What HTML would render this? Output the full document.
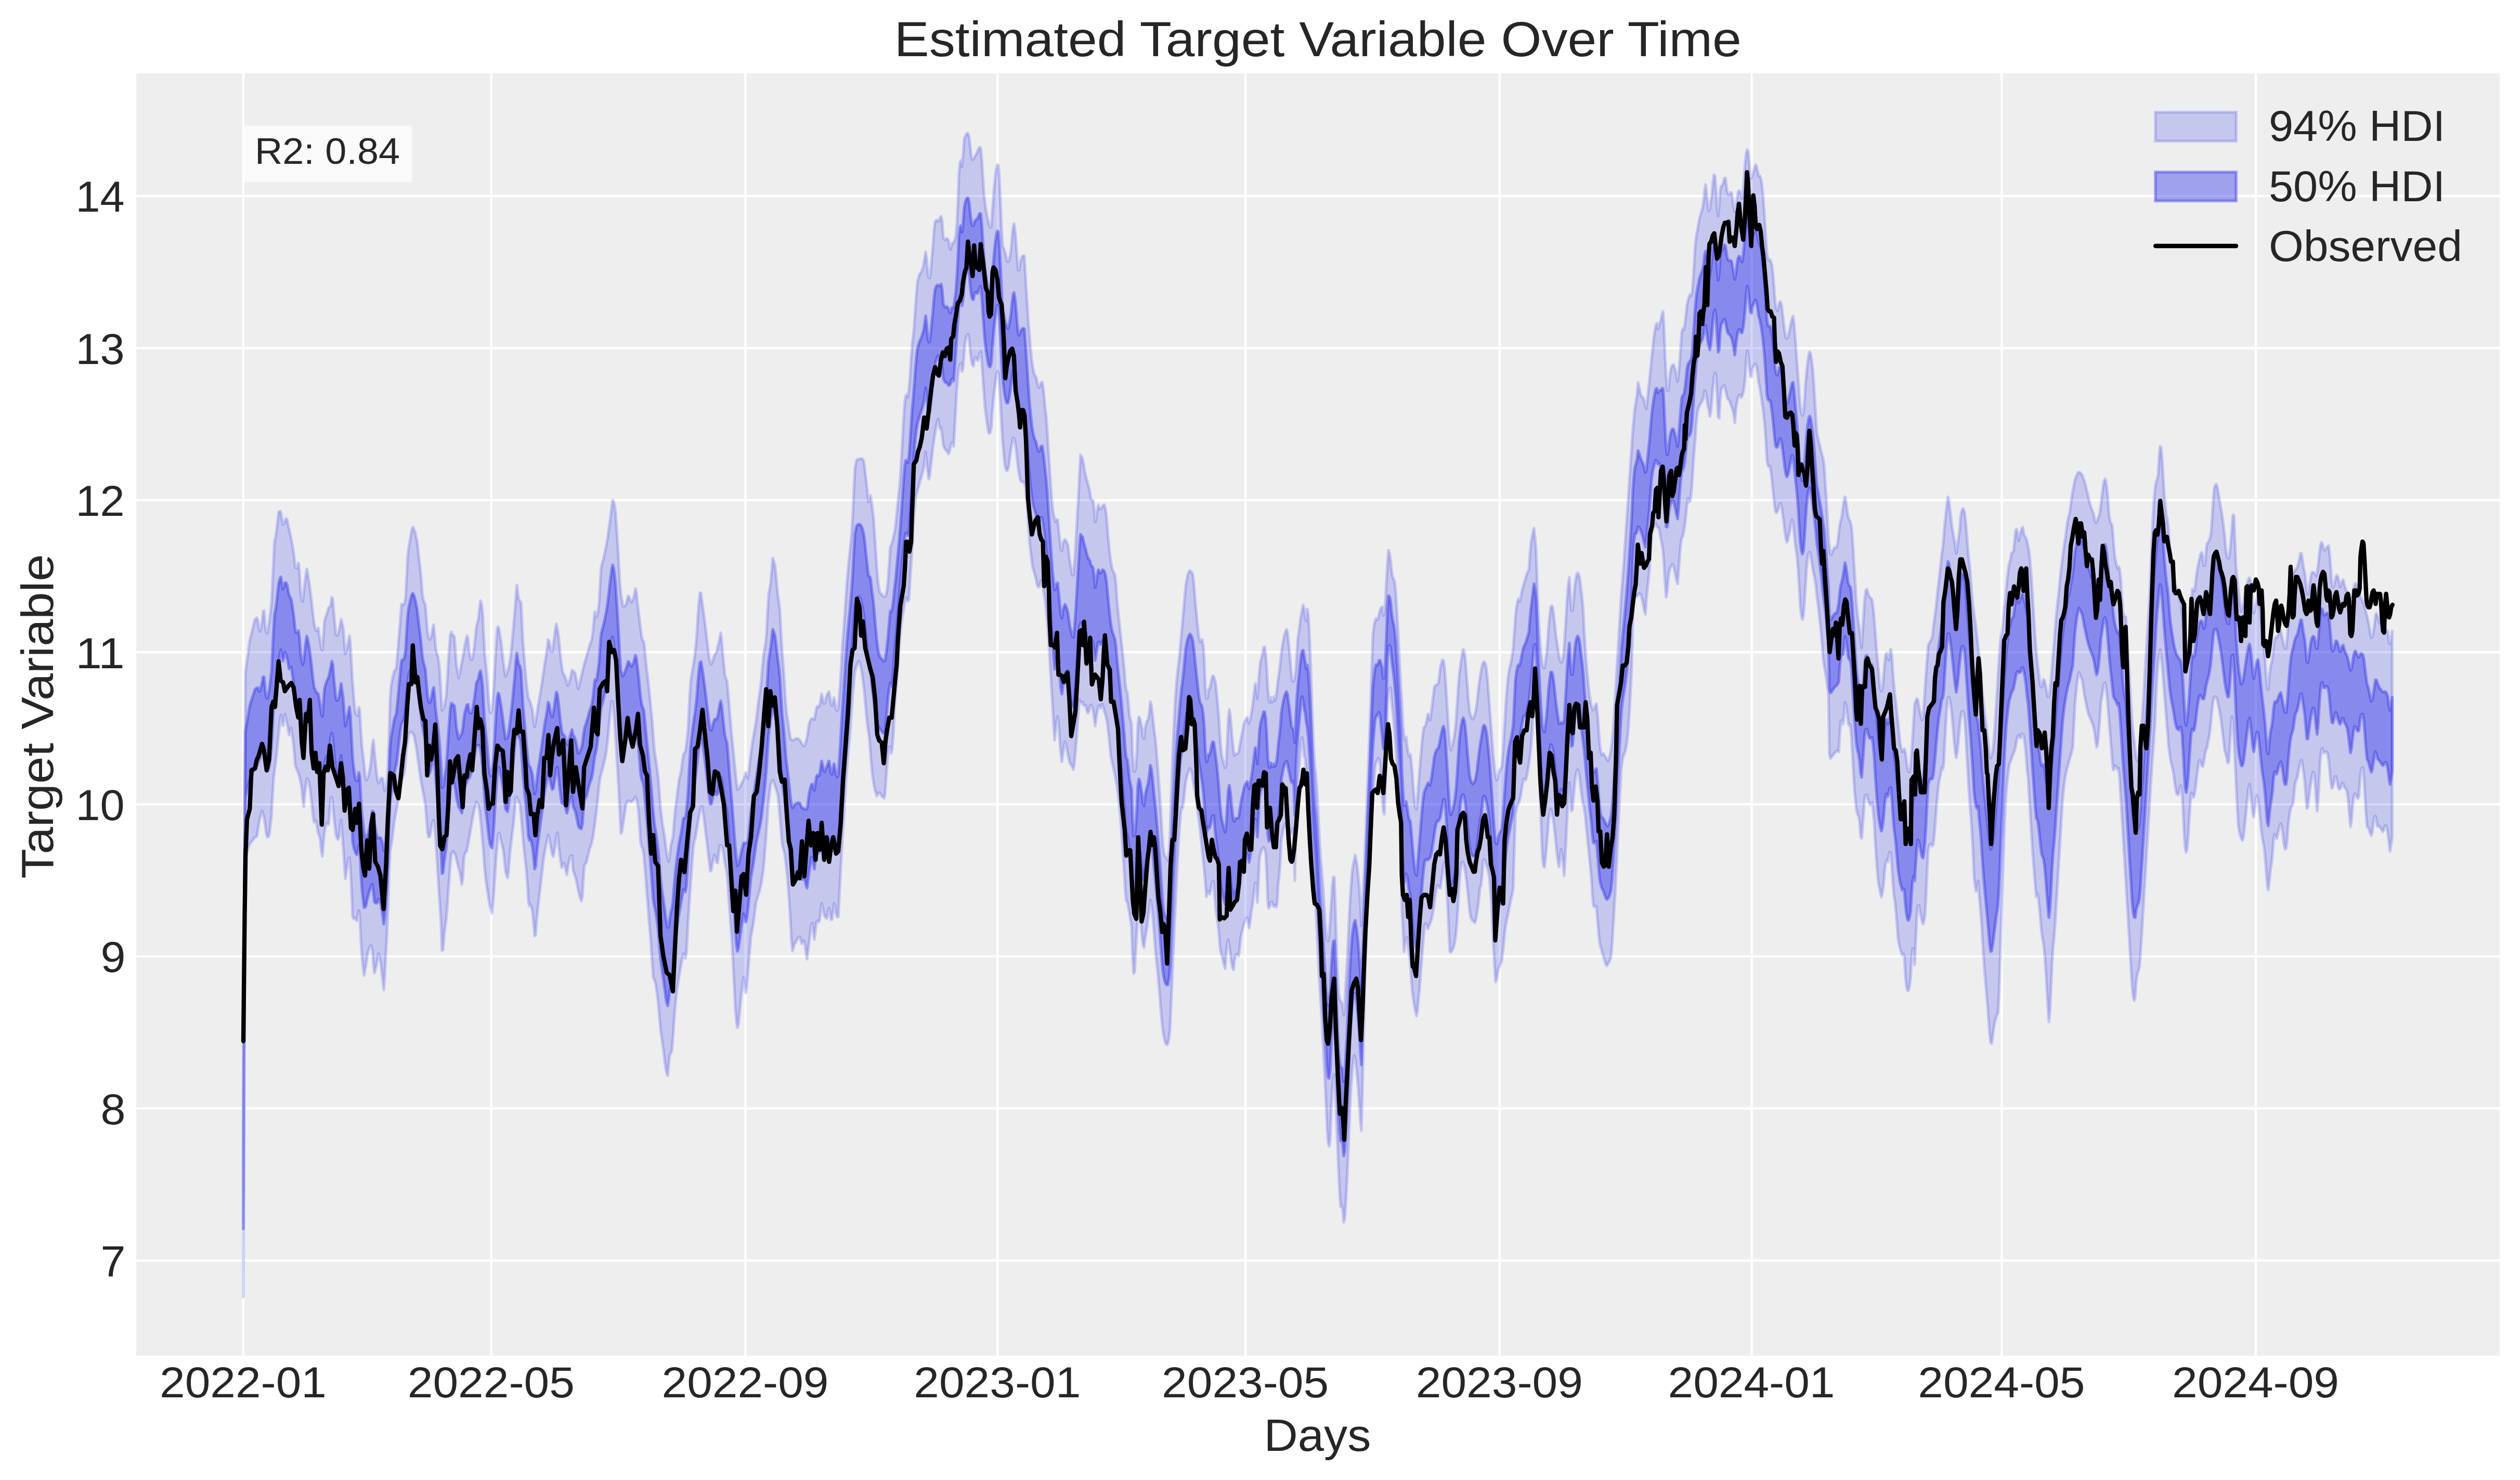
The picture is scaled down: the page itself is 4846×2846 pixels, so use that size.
<!DOCTYPE html><html><head><meta charset="utf-8"><style>html,body{margin:0;padding:0;background:#fff;overflow:hidden}svg{display:block}</style></head><body><svg width="4846" height="2846" viewBox="0 0 4846 2846"><defs><clipPath id="axclip"><rect x="262" y="141" width="4545" height="2466"/></clipPath></defs><rect x="0" y="0" width="4846" height="2846" fill="#ffffff"/><rect x="262" y="141" width="4545" height="2466" fill="#eeeeee"/><line x1="262" y1="2424.01" x2="4807" y2="2424.01" stroke="#fff" stroke-width="4.44"/><line x1="262" y1="2131.58" x2="4807" y2="2131.58" stroke="#fff" stroke-width="4.44"/><line x1="262" y1="1839.15" x2="4807" y2="1839.15" stroke="#fff" stroke-width="4.44"/><line x1="262" y1="1546.72" x2="4807" y2="1546.72" stroke="#fff" stroke-width="4.44"/><line x1="262" y1="1254.29" x2="4807" y2="1254.29" stroke="#fff" stroke-width="4.44"/><line x1="262" y1="961.86" x2="4807" y2="961.86" stroke="#fff" stroke-width="4.44"/><line x1="262" y1="669.43" x2="4807" y2="669.43" stroke="#fff" stroke-width="4.44"/><line x1="262" y1="377.00" x2="4807" y2="377.00" stroke="#fff" stroke-width="4.44"/><line x1="468.00" y1="141" x2="468.00" y2="2607" stroke="#fff" stroke-width="4.44"/><line x1="944.80" y1="141" x2="944.80" y2="2607" stroke="#fff" stroke-width="4.44"/><line x1="1433.51" y1="141" x2="1433.51" y2="2607" stroke="#fff" stroke-width="4.44"/><line x1="1918.26" y1="141" x2="1918.26" y2="2607" stroke="#fff" stroke-width="4.44"/><line x1="2395.06" y1="141" x2="2395.06" y2="2607" stroke="#fff" stroke-width="4.44"/><line x1="2883.77" y1="141" x2="2883.77" y2="2607" stroke="#fff" stroke-width="4.44"/><line x1="3368.52" y1="141" x2="3368.52" y2="2607" stroke="#fff" stroke-width="4.44"/><line x1="3849.29" y1="141" x2="3849.29" y2="2607" stroke="#fff" stroke-width="4.44"/><line x1="4338.00" y1="141" x2="4338.00" y2="2607" stroke="#fff" stroke-width="4.44"/><g clip-path="url(#axclip)"><path d="M468.0,2086.0 L470.0,1562.0 L472.0,1292.6 L474.0,1277.7 L476.0,1262.8 L478.0,1248.0 L480.0,1233.1 L482.0,1224.2 L484.0,1216.2 L486.0,1208.2 L488.0,1200.2 L490.0,1192.2 L492.0,1189.4 L494.0,1188.0 L496.0,1193.6 L498.0,1208.6 L500.0,1214.1 L502.0,1205.5 L504.0,1196.5 L506.0,1176.5 L508.0,1174.1 L510.0,1204.1 L512.0,1215.5 L514.0,1217.5 L516.0,1205.9 L518.0,1192.8 L520.0,1177.1 L522.0,1161.4 L524.0,1119.9 L526.0,1076.2 L528.0,1040.2 L530.0,1032.2 L532.0,1018.6 L534.0,1000.0 L536.0,984.3 L538.0,983.3 L540.0,984.1 L542.0,996.4 L544.0,1008.7 L546.0,1006.9 L548.0,1001.0 L550.0,997.0 L552.0,998.5 L554.0,1008.5 L556.0,1017.6 L558.0,1026.4 L560.0,1035.1 L562.0,1046.6 L564.0,1058.0 L566.0,1073.6 L568.0,1091.6 L570.0,1092.6 L572.0,1090.5 L574.0,1082.5 L576.0,1100.6 L578.0,1138.6 L580.0,1152.0 L582.0,1156.7 L584.0,1138.7 L586.0,1121.9 L588.0,1106.2 L590.0,1093.9 L592.0,1103.9 L594.0,1116.1 L596.0,1131.1 L598.0,1146.1 L600.0,1163.8 L602.0,1182.4 L604.0,1197.7 L606.0,1207.7 L608.0,1213.2 L610.0,1210.3 L612.0,1207.5 L614.0,1221.2 L616.0,1235.0 L618.0,1248.4 L620.0,1250.4 L622.0,1221.8 L624.0,1193.2 L626.0,1186.9 L628.0,1182.2 L630.0,1175.1 L632.0,1168.0 L634.0,1166.9 L636.0,1164.3 L638.0,1148.3 L640.0,1152.2 L642.0,1178.2 L644.0,1199.5 L646.0,1219.5 L648.0,1222.2 L650.0,1219.3 L652.0,1213.1 L654.0,1201.7 L656.0,1190.8 L658.0,1199.1 L660.0,1207.4 L662.0,1232.4 L664.0,1257.4 L666.0,1250.8 L668.0,1243.3 L670.0,1234.6 L672.0,1222.6 L674.0,1239.2 L676.0,1276.3 L678.0,1310.8 L680.0,1335.8 L682.0,1360.8 L684.0,1373.6 L686.0,1374.9 L688.0,1376.1 L690.0,1360.1 L692.0,1366.9 L694.0,1405.3 L696.0,1434.4 L698.0,1451.6 L700.0,1468.9 L702.0,1488.9 L704.0,1500.3 L706.0,1497.4 L708.0,1494.5 L710.0,1484.5 L712.0,1474.5 L714.0,1456.1 L716.0,1433.3 L718.0,1423.0 L720.0,1444.4 L722.0,1465.8 L724.0,1483.3 L726.0,1500.5 L728.0,1505.7 L730.0,1501.4 L732.0,1497.7 L734.0,1496.0 L736.0,1496.8 L738.0,1510.1 L740.0,1520.7 L742.0,1514.1 L744.0,1504.6 L746.0,1472.6 L748.0,1422.2 L750.0,1346.2 L752.0,1318.4 L754.0,1308.4 L756.0,1298.4 L758.0,1290.9 L760.0,1288.0 L762.0,1285.2 L764.0,1261.7 L766.0,1238.0 L768.0,1213.6 L770.0,1187.9 L772.0,1162.2 L774.0,1161.7 L776.0,1163.3 L778.0,1159.9 L780.0,1148.6 L782.0,1108.6 L784.0,1068.6 L786.0,1052.6 L788.0,1041.2 L790.0,1029.6 L792.0,1018.0 L794.0,1013.4 L796.0,1017.7 L798.0,1022.3 L800.0,1030.6 L802.0,1039.5 L804.0,1057.8 L806.0,1076.1 L808.0,1092.1 L810.0,1112.2 L812.0,1140.2 L814.0,1153.2 L816.0,1158.2 L818.0,1163.2 L820.0,1187.8 L822.0,1213.6 L824.0,1226.3 L826.0,1229.6 L828.0,1227.8 L830.0,1221.8 L832.0,1208.8 L834.0,1201.3 L836.0,1224.2 L838.0,1247.0 L840.0,1256.0 L842.0,1261.7 L844.0,1273.8 L846.0,1293.8 L848.0,1328.9 L850.0,1366.0 L852.0,1363.2 L854.0,1360.3 L856.0,1350.1 L858.0,1336.8 L860.0,1308.8 L862.0,1273.8 L864.0,1245.3 L866.0,1220.3 L868.0,1215.0 L870.0,1221.6 L872.0,1221.4 L874.0,1224.9 L876.0,1254.9 L878.0,1280.8 L880.0,1292.3 L882.0,1303.7 L884.0,1295.7 L886.0,1284.2 L888.0,1273.5 L890.0,1263.5 L892.0,1252.6 L894.0,1240.6 L896.0,1231.2 L898.0,1222.7 L900.0,1227.3 L902.0,1251.3 L904.0,1262.2 L906.0,1267.9 L908.0,1268.1 L910.0,1258.1 L912.0,1244.9 L914.0,1224.9 L916.0,1204.9 L918.0,1197.7 L920.0,1191.0 L922.0,1170.0 L924.0,1155.0 L926.0,1161.7 L928.0,1175.9 L930.0,1217.6 L932.0,1255.1 L934.0,1275.1 L936.0,1295.1 L938.0,1322.2 L940.0,1350.8 L942.0,1367.7 L944.0,1371.1 L946.0,1364.3 L948.0,1344.3 L950.0,1316.2 L952.0,1276.2 L954.0,1240.0 L956.0,1210.0 L958.0,1204.8 L960.0,1210.8 L962.0,1224.1 L964.0,1237.5 L966.0,1255.7 L968.0,1274.0 L970.0,1287.6 L972.0,1300.9 L974.0,1296.8 L976.0,1291.1 L978.0,1283.9 L980.0,1275.6 L982.0,1261.1 L984.0,1241.1 L986.0,1220.6 L988.0,1197.8 L990.0,1174.9 L992.0,1147.9 L994.0,1124.9 L996.0,1142.9 L998.0,1154.0 L1000.0,1155.4 L1002.0,1158.9 L1004.0,1198.9 L1006.0,1238.5 L1008.0,1262.5 L1010.0,1286.5 L1012.0,1310.5 L1014.0,1328.0 L1016.0,1342.0 L1018.0,1346.4 L1020.0,1351.3 L1022.0,1358.4 L1024.0,1365.5 L1026.0,1384.3 L1028.0,1397.8 L1030.0,1387.8 L1032.0,1375.7 L1034.0,1361.7 L1036.0,1349.9 L1038.0,1338.5 L1040.0,1326.8 L1042.0,1314.8 L1044.0,1300.4 L1046.0,1285.4 L1048.0,1273.1 L1050.0,1261.7 L1052.0,1247.7 L1054.0,1229.7 L1056.0,1232.8 L1058.0,1244.7 L1060.0,1252.7 L1062.0,1253.8 L1064.0,1240.5 L1066.0,1226.1 L1068.0,1209.5 L1070.0,1200.0 L1072.0,1210.0 L1074.0,1222.4 L1076.0,1242.4 L1078.0,1262.4 L1080.0,1278.9 L1082.0,1292.6 L1084.0,1296.4 L1086.0,1300.1 L1088.0,1305.5 L1090.0,1312.6 L1092.0,1318.2 L1094.0,1312.5 L1096.0,1306.8 L1098.0,1297.8 L1100.0,1288.6 L1102.0,1290.4 L1104.0,1292.1 L1106.0,1294.6 L1108.0,1304.6 L1110.0,1314.6 L1112.0,1324.6 L1114.0,1317.3 L1116.0,1308.7 L1118.0,1300.1 L1120.0,1291.6 L1122.0,1283.0 L1124.0,1275.2 L1126.0,1268.5 L1128.0,1261.8 L1130.0,1254.7 L1132.0,1247.5 L1134.0,1240.8 L1136.0,1235.1 L1138.0,1229.3 L1140.0,1215.8 L1142.0,1194.1 L1144.0,1176.3 L1146.0,1186.3 L1148.0,1185.5 L1150.0,1175.5 L1152.0,1160.7 L1154.0,1122.7 L1156.0,1090.7 L1158.0,1083.5 L1160.0,1076.4 L1162.0,1068.0 L1164.0,1058.0 L1166.0,1048.0 L1168.0,1036.9 L1170.0,1022.6 L1172.0,1008.3 L1174.0,993.3 L1176.0,977.6 L1178.0,961.9 L1180.0,963.7 L1182.0,972.1 L1184.0,988.2 L1186.0,1018.2 L1188.0,1048.2 L1190.0,1084.8 L1192.0,1121.4 L1194.0,1142.6 L1196.0,1154.0 L1198.0,1165.4 L1200.0,1166.0 L1202.0,1164.5 L1204.0,1162.5 L1206.0,1154.2 L1208.0,1145.9 L1210.0,1148.2 L1212.0,1154.8 L1214.0,1158.1 L1216.0,1154.8 L1218.0,1151.5 L1220.0,1141.7 L1222.0,1131.7 L1224.0,1139.5 L1226.0,1159.5 L1228.0,1177.1 L1230.0,1193.1 L1232.0,1209.1 L1234.0,1225.1 L1236.0,1231.7 L1238.0,1233.7 L1240.0,1249.5 L1242.0,1271.5 L1244.0,1289.2 L1246.0,1305.2 L1248.0,1324.2 L1250.0,1344.2 L1252.0,1364.2 L1254.0,1384.2 L1256.0,1410.5 L1258.0,1438.5 L1260.0,1453.5 L1262.0,1465.5 L1264.0,1480.9 L1266.0,1496.9 L1268.0,1523.1 L1270.0,1551.1 L1272.0,1568.6 L1274.0,1584.6 L1276.0,1597.0 L1278.0,1609.0 L1280.0,1624.7 L1282.0,1640.7 L1284.0,1649.1 L1286.0,1657.1 L1288.0,1641.7 L1290.0,1625.7 L1292.0,1617.7 L1294.0,1609.4 L1296.0,1585.4 L1298.0,1561.7 L1300.0,1545.7 L1302.0,1529.7 L1304.0,1513.7 L1306.0,1498.5 L1308.0,1490.5 L1310.0,1481.5 L1312.0,1465.5 L1314.0,1451.3 L1316.0,1448.0 L1318.0,1444.6 L1320.0,1431.1 L1322.0,1414.4 L1324.0,1386.9 L1326.0,1342.9 L1328.0,1311.5 L1330.0,1297.5 L1332.0,1285.3 L1334.0,1275.3 L1336.0,1260.6 L1338.0,1240.6 L1340.0,1219.2 L1342.0,1184.2 L1344.0,1157.9 L1346.0,1139.9 L1348.0,1140.2 L1350.0,1156.2 L1352.0,1171.1 L1354.0,1185.1 L1356.0,1200.6 L1358.0,1217.3 L1360.0,1234.0 L1362.0,1250.6 L1364.0,1267.3 L1366.0,1273.3 L1368.0,1277.3 L1370.0,1272.1 L1372.0,1265.4 L1374.0,1260.4 L1376.0,1257.0 L1378.0,1253.1 L1380.0,1244.8 L1382.0,1236.4 L1384.0,1226.9 L1386.0,1216.9 L1388.0,1233.2 L1390.0,1257.2 L1392.0,1278.0 L1394.0,1298.0 L1396.0,1304.8 L1398.0,1308.8 L1400.0,1329.7 L1402.0,1353.7 L1404.0,1377.7 L1406.0,1401.7 L1408.0,1422.2 L1410.0,1442.2 L1412.0,1462.2 L1414.0,1482.2 L1416.0,1500.3 L1418.0,1518.3 L1420.0,1517.0 L1422.0,1515.0 L1424.0,1511.1 L1426.0,1507.1 L1428.0,1503.1 L1430.0,1499.0 L1432.0,1492.3 L1434.0,1485.6 L1436.0,1488.7 L1438.0,1496.7 L1440.0,1485.5 L1442.0,1465.5 L1444.0,1447.6 L1446.0,1434.2 L1448.0,1420.9 L1450.0,1409.4 L1452.0,1397.9 L1454.0,1385.6 L1456.0,1368.9 L1458.0,1352.3 L1460.0,1338.3 L1462.0,1324.9 L1464.0,1307.3 L1466.0,1283.9 L1468.0,1261.3 L1470.0,1249.9 L1472.0,1238.5 L1474.0,1218.1 L1476.0,1176.1 L1478.0,1143.7 L1480.0,1132.0 L1482.0,1120.4 L1484.0,1097.0 L1486.0,1073.0 L1488.0,1078.8 L1490.0,1085.4 L1492.0,1102.1 L1494.0,1125.4 L1496.0,1146.2 L1498.0,1158.2 L1500.0,1177.2 L1502.0,1217.2 L1504.0,1252.8 L1506.0,1276.8 L1508.0,1303.8 L1510.0,1337.8 L1512.0,1365.3 L1514.0,1379.3 L1516.0,1393.1 L1518.0,1406.4 L1520.0,1419.8 L1522.0,1421.8 L1524.0,1423.4 L1526.0,1423.1 L1528.0,1421.4 L1530.0,1420.1 L1532.0,1420.1 L1534.0,1420.1 L1536.0,1421.6 L1538.0,1423.2 L1540.0,1426.0 L1542.0,1430.0 L1544.0,1433.0 L1546.0,1435.0 L1548.0,1432.4 L1550.0,1425.7 L1552.0,1418.0 L1554.0,1404.6 L1556.0,1391.3 L1558.0,1385.9 L1560.0,1382.5 L1562.0,1381.3 L1564.0,1383.0 L1566.0,1384.0 L1568.0,1372.3 L1570.0,1360.7 L1572.0,1358.0 L1574.0,1359.7 L1576.0,1357.3 L1578.0,1345.6 L1580.0,1334.0 L1582.0,1342.5 L1584.0,1352.5 L1586.0,1352.2 L1588.0,1343.9 L1590.0,1336.5 L1592.0,1333.2 L1594.0,1329.8 L1596.0,1340.1 L1598.0,1353.5 L1600.0,1357.1 L1602.0,1348.8 L1604.0,1341.9 L1606.0,1353.6 L1608.0,1365.3 L1610.0,1367.0 L1612.0,1361.9 L1614.0,1337.9 L1616.0,1312.1 L1618.0,1276.1 L1620.0,1241.7 L1622.0,1215.0 L1624.0,1188.4 L1626.0,1159.1 L1628.0,1129.1 L1630.0,1103.3 L1632.0,1083.3 L1634.0,1063.3 L1636.0,1043.3 L1638.0,1023.3 L1640.0,986.5 L1642.0,941.9 L1644.0,900.9 L1646.0,889.5 L1648.0,883.2 L1650.0,883.2 L1652.0,883.2 L1654.0,882.2 L1656.0,881.2 L1658.0,882.3 L1660.0,884.3 L1662.0,891.8 L1664.0,909.2 L1666.0,926.6 L1668.0,944.0 L1670.0,965.1 L1672.0,959.5 L1674.0,952.9 L1676.0,965.4 L1678.0,980.4 L1680.0,997.6 L1682.0,1028.1 L1684.0,1058.6 L1686.0,1087.7 L1688.0,1114.3 L1690.0,1130.7 L1692.0,1139.5 L1694.0,1140.9 L1696.0,1143.5 L1698.0,1146.1 L1700.0,1147.4 L1702.0,1147.3 L1704.0,1143.6 L1706.0,1133.0 L1708.0,1110.5 L1710.0,1082.9 L1712.0,1051.2 L1714.0,1047.8 L1716.0,1041.2 L1718.0,1032.6 L1720.0,1024.0 L1722.0,1011.8 L1724.0,991.8 L1726.0,971.8 L1728.0,952.5 L1730.0,935.3 L1732.0,906.9 L1734.0,870.7 L1736.0,834.6 L1738.0,798.4 L1740.0,771.1 L1742.0,761.1 L1744.0,758.1 L1746.0,763.8 L1748.0,746.9 L1750.0,722.8 L1752.0,690.3 L1754.0,662.0 L1756.0,647.0 L1758.0,626.3 L1760.0,594.8 L1762.0,567.4 L1764.0,542.4 L1766.0,534.9 L1768.0,528.1 L1770.0,525.6 L1772.0,522.3 L1774.0,516.6 L1776.0,509.5 L1778.0,496.5 L1780.0,484.1 L1782.0,496.9 L1784.0,524.9 L1786.0,533.5 L1788.0,534.4 L1790.0,517.7 L1792.0,496.1 L1794.0,472.4 L1796.0,443.9 L1798.0,427.4 L1800.0,423.6 L1802.0,423.6 L1804.0,426.1 L1806.0,423.3 L1808.0,418.3 L1810.0,416.0 L1812.0,426.8 L1814.0,456.8 L1816.0,460.3 L1818.0,461.4 L1820.0,458.5 L1822.0,459.2 L1824.0,461.7 L1826.0,473.9 L1828.0,480.1 L1830.0,470.1 L1832.0,467.0 L1834.0,466.8 L1836.0,461.8 L1838.0,454.2 L1840.0,431.3 L1842.0,391.5 L1844.0,334.4 L1846.0,312.6 L1848.0,308.6 L1850.0,320.1 L1852.0,297.7 L1854.0,267.8 L1856.0,262.8 L1858.0,258.4 L1860.0,255.9 L1862.0,257.0 L1864.0,265.5 L1866.0,284.0 L1868.0,302.6 L1870.0,306.8 L1872.0,306.0 L1874.0,301.7 L1876.0,298.8 L1878.0,295.3 L1880.0,290.3 L1882.0,286.2 L1884.0,283.3 L1886.0,285.5 L1888.0,305.8 L1890.0,338.6 L1892.0,368.6 L1894.0,389.1 L1896.0,403.8 L1898.0,413.8 L1900.0,423.3 L1902.0,432.0 L1904.0,437.1 L1906.0,436.1 L1908.0,409.5 L1910.0,382.8 L1912.0,357.8 L1914.0,337.8 L1916.0,323.4 L1918.0,316.4 L1920.0,318.0 L1922.0,346.4 L1924.0,388.5 L1926.0,437.3 L1928.0,472.6 L1930.0,476.7 L1932.0,482.4 L1934.0,489.7 L1936.0,499.7 L1938.0,503.3 L1940.0,501.3 L1942.0,493.8 L1944.0,480.5 L1946.0,457.7 L1948.0,436.8 L1950.0,430.1 L1952.0,443.6 L1954.0,466.2 L1956.0,496.0 L1958.0,519.4 L1960.0,518.4 L1962.0,503.6 L1964.0,496.9 L1966.0,492.8 L1968.0,491.3 L1970.0,492.9 L1972.0,528.8 L1974.0,562.8 L1976.0,592.8 L1978.0,622.8 L1980.0,648.3 L1982.0,670.8 L1984.0,690.8 L1986.0,705.2 L1988.0,715.8 L1990.0,722.4 L1992.0,724.1 L1994.0,731.6 L1996.0,741.9 L1998.0,745.2 L2000.0,741.1 L2002.0,736.1 L2004.0,734.4 L2006.0,744.8 L2008.0,762.2 L2010.0,785.0 L2012.0,801.7 L2014.0,829.2 L2016.0,861.9 L2018.0,892.6 L2020.0,923.3 L2022.0,953.9 L2024.0,976.5 L2026.0,989.0 L2028.0,997.8 L2030.0,1003.5 L2032.0,998.9 L2034.0,999.5 L2036.0,1019.5 L2038.0,1038.6 L2040.0,1056.1 L2042.0,1059.0 L2044.0,1044.7 L2046.0,1039.6 L2048.0,1037.5 L2050.0,1040.0 L2052.0,1043.6 L2054.0,1050.3 L2056.0,1068.1 L2058.0,1083.9 L2060.0,1093.9 L2062.0,1105.3 L2064.0,1105.9 L2066.0,1084.9 L2068.0,1058.2 L2070.0,1021.6 L2072.0,983.8 L2074.0,950.5 L2076.0,907.1 L2078.0,874.8 L2080.0,878.8 L2082.0,882.8 L2084.0,893.9 L2086.0,905.9 L2088.0,915.5 L2090.0,922.9 L2092.0,930.2 L2094.0,937.6 L2096.0,945.6 L2098.0,959.9 L2100.0,961.4 L2102.0,961.9 L2104.0,977.4 L2106.0,1004.1 L2108.0,995.0 L2110.0,981.1 L2112.0,971.1 L2114.0,976.6 L2116.0,979.5 L2118.0,976.6 L2120.0,973.4 L2122.0,970.9 L2124.0,970.9 L2126.0,979.5 L2128.0,993.8 L2130.0,1019.8 L2132.0,1043.0 L2134.0,1063.0 L2136.0,1078.0 L2138.0,1090.6 L2140.0,1097.3 L2142.0,1100.9 L2144.0,1105.6 L2146.0,1121.6 L2148.0,1151.1 L2150.0,1174.8 L2152.0,1193.1 L2154.0,1211.4 L2156.0,1229.7 L2158.0,1247.9 L2160.0,1266.2 L2162.0,1285.4 L2164.0,1313.8 L2166.0,1327.6 L2168.0,1330.5 L2170.0,1351.5 L2172.0,1376.8 L2174.0,1384.3 L2176.0,1391.8 L2178.0,1451.5 L2180.0,1483.1 L2182.0,1483.1 L2184.0,1476.8 L2186.0,1449.5 L2188.0,1395.2 L2190.0,1378.6 L2192.0,1381.4 L2194.0,1390.6 L2196.0,1400.6 L2198.0,1416.3 L2200.0,1420.6 L2202.0,1400.6 L2204.0,1391.5 L2206.0,1386.0 L2208.0,1383.1 L2210.0,1370.5 L2212.0,1349.1 L2214.0,1355.0 L2216.0,1371.1 L2218.0,1391.1 L2220.0,1407.5 L2222.0,1421.6 L2224.0,1445.0 L2226.0,1470.5 L2228.0,1497.2 L2230.0,1523.9 L2232.0,1554.7 L2234.0,1588.1 L2236.0,1621.4 L2238.0,1639.1 L2240.0,1645.5 L2242.0,1648.8 L2244.0,1651.7 L2246.0,1654.2 L2248.0,1638.1 L2250.0,1604.7 L2252.0,1538.1 L2254.0,1479.4 L2256.0,1429.4 L2258.0,1386.2 L2260.0,1346.0 L2262.0,1317.5 L2264.0,1294.5 L2266.0,1279.5 L2268.0,1261.7 L2270.0,1239.3 L2272.0,1216.9 L2274.0,1194.6 L2276.0,1172.2 L2278.0,1149.9 L2280.0,1127.5 L2282.0,1115.0 L2284.0,1105.0 L2286.0,1100.7 L2288.0,1097.0 L2290.0,1098.4 L2292.0,1100.9 L2294.0,1105.1 L2296.0,1124.0 L2298.0,1148.4 L2300.0,1171.2 L2302.0,1192.3 L2304.0,1212.3 L2306.0,1229.1 L2308.0,1234.6 L2310.0,1231.5 L2312.0,1229.9 L2314.0,1242.5 L2316.0,1271.3 L2318.0,1324.6 L2320.0,1342.8 L2322.0,1342.3 L2324.0,1326.3 L2326.0,1324.6 L2328.0,1316.7 L2330.0,1306.1 L2332.0,1299.4 L2334.0,1300.6 L2336.0,1306.4 L2338.0,1316.4 L2340.0,1335.8 L2342.0,1357.6 L2344.0,1382.0 L2346.0,1415.3 L2348.0,1439.5 L2350.0,1455.9 L2352.0,1462.5 L2354.0,1469.2 L2356.0,1476.4 L2358.0,1470.4 L2360.0,1423.0 L2362.0,1383.0 L2364.0,1364.2 L2366.0,1375.9 L2368.0,1399.2 L2370.0,1422.5 L2372.0,1443.0 L2374.0,1452.6 L2376.0,1449.3 L2378.0,1449.3 L2380.0,1449.3 L2382.0,1446.8 L2384.0,1433.5 L2386.0,1422.7 L2388.0,1412.7 L2390.0,1402.7 L2392.0,1392.7 L2394.0,1386.1 L2396.0,1382.8 L2398.0,1379.5 L2400.0,1385.1 L2402.0,1390.9 L2404.0,1384.2 L2406.0,1374.7 L2408.0,1361.9 L2410.0,1345.3 L2412.0,1328.6 L2414.0,1314.6 L2416.0,1321.8 L2418.0,1343.5 L2420.0,1313.5 L2422.0,1288.8 L2424.0,1271.8 L2426.0,1265.1 L2428.0,1255.3 L2430.0,1245.3 L2432.0,1243.9 L2434.0,1258.9 L2436.0,1283.5 L2438.0,1323.5 L2440.0,1344.6 L2442.0,1350.8 L2444.0,1340.8 L2446.0,1350.3 L2448.0,1348.3 L2450.0,1339.3 L2452.0,1347.6 L2454.0,1338.1 L2456.0,1321.4 L2458.0,1304.7 L2460.0,1291.0 L2462.0,1274.6 L2464.0,1254.9 L2466.0,1241.5 L2468.0,1230.3 L2470.0,1220.9 L2472.0,1214.3 L2474.0,1210.2 L2476.0,1215.4 L2478.0,1235.4 L2480.0,1255.4 L2482.0,1278.9 L2484.0,1303.4 L2486.0,1310.1 L2488.0,1309.9 L2490.0,1302.9 L2492.0,1286.3 L2494.0,1252.6 L2496.0,1226.0 L2498.0,1212.6 L2500.0,1195.9 L2502.0,1183.2 L2504.0,1173.2 L2506.0,1163.2 L2508.0,1170.9 L2510.0,1188.2 L2512.0,1194.2 L2514.0,1170.9 L2516.0,1183.2 L2518.0,1216.9 L2520.0,1266.9 L2522.0,1323.5 L2524.0,1383.5 L2526.0,1435.6 L2528.0,1468.9 L2530.0,1487.6 L2532.0,1511.9 L2534.0,1545.5 L2536.0,1585.5 L2538.0,1625.5 L2540.0,1654.8 L2542.0,1678.8 L2544.0,1702.9 L2546.0,1735.5 L2548.0,1768.2 L2550.0,1793.9 L2552.0,1807.8 L2554.0,1809.4 L2556.0,1796.0 L2558.0,1768.9 L2560.0,1735.6 L2562.0,1702.3 L2564.0,1686.4 L2566.0,1687.4 L2568.0,1745.5 L2570.0,1812.2 L2572.0,1866.9 L2574.0,1907.7 L2576.0,1921.1 L2578.0,1925.4 L2580.0,1927.3 L2582.0,1933.3 L2584.0,1952.2 L2586.0,1938.8 L2588.0,1893.2 L2590.0,1859.9 L2592.0,1817.7 L2594.0,1772.7 L2596.0,1732.7 L2598.0,1703.7 L2600.0,1676.8 L2602.0,1663.5 L2604.0,1654.7 L2606.0,1644.2 L2608.0,1654.2 L2610.0,1665.6 L2612.0,1684.2 L2614.0,1706.7 L2616.0,1736.8 L2618.0,1780.1 L2620.0,1741.4 L2622.0,1701.6 L2624.0,1662.7 L2626.0,1606.8 L2628.0,1556.8 L2630.0,1506.8 L2632.0,1456.8 L2634.0,1404.1 L2636.0,1346.9 L2638.0,1283.6 L2640.0,1221.2 L2642.0,1204.5 L2644.0,1194.9 L2646.0,1189.2 L2648.0,1192.0 L2650.0,1190.5 L2652.0,1180.5 L2654.0,1173.6 L2656.0,1168.6 L2658.0,1166.9 L2660.0,1183.6 L2662.0,1180.4 L2664.0,1160.5 L2666.0,1120.5 L2668.0,1085.3 L2670.0,1057.7 L2672.0,1063.4 L2674.0,1076.5 L2676.0,1095.9 L2678.0,1109.2 L2680.0,1113.5 L2682.0,1118.6 L2684.0,1138.6 L2686.0,1169.8 L2688.0,1205.9 L2690.0,1245.9 L2692.0,1285.9 L2694.0,1322.1 L2696.0,1356.5 L2698.0,1396.5 L2700.0,1416.7 L2702.0,1423.5 L2704.0,1416.8 L2706.0,1434.3 L2708.0,1447.8 L2710.0,1453.8 L2712.0,1450.5 L2714.0,1464.5 L2716.0,1488.6 L2718.0,1515.2 L2720.0,1539.2 L2722.0,1554.0 L2724.0,1555.7 L2726.0,1531.4 L2728.0,1505.5 L2730.0,1479.3 L2732.0,1455.9 L2734.0,1432.6 L2736.0,1412.3 L2738.0,1398.9 L2740.0,1397.3 L2742.0,1392.7 L2744.0,1382.7 L2746.0,1372.7 L2748.0,1377.2 L2750.0,1385.1 L2752.0,1371.8 L2754.0,1355.9 L2756.0,1339.2 L2758.0,1322.5 L2760.0,1318.5 L2762.0,1316.9 L2764.0,1316.5 L2766.0,1313.2 L2768.0,1298.4 L2770.0,1282.0 L2772.0,1275.3 L2774.0,1268.6 L2776.0,1270.6 L2778.0,1284.1 L2780.0,1310.8 L2782.0,1341.4 L2784.0,1374.8 L2786.0,1408.1 L2788.0,1431.4 L2790.0,1442.3 L2792.0,1435.7 L2794.0,1429.0 L2796.0,1419.0 L2798.0,1405.1 L2800.0,1385.1 L2802.0,1356.3 L2804.0,1324.6 L2806.0,1297.9 L2808.0,1282.3 L2810.0,1268.9 L2812.0,1255.6 L2814.0,1248.8 L2816.0,1253.5 L2818.0,1268.8 L2820.0,1295.5 L2822.0,1322.2 L2824.0,1346.8 L2826.0,1366.8 L2828.0,1374.9 L2830.0,1380.0 L2832.0,1382.9 L2834.0,1379.6 L2836.0,1374.1 L2838.0,1366.0 L2840.0,1352.7 L2842.0,1334.1 L2844.0,1316.6 L2846.0,1303.2 L2848.0,1289.9 L2850.0,1280.2 L2852.0,1274.1 L2854.0,1272.5 L2856.0,1275.5 L2858.0,1283.8 L2860.0,1300.5 L2862.0,1325.8 L2864.0,1352.4 L2866.0,1379.1 L2868.0,1405.8 L2870.0,1432.4 L2872.0,1457.8 L2874.0,1477.8 L2876.0,1492.7 L2878.0,1500.2 L2880.0,1496.8 L2882.0,1487.3 L2884.0,1480.7 L2886.0,1477.4 L2888.0,1474.1 L2890.0,1450.5 L2892.0,1417.1 L2894.0,1383.8 L2896.0,1350.5 L2898.0,1322.7 L2900.0,1302.7 L2902.0,1289.4 L2904.0,1279.9 L2906.0,1272.2 L2908.0,1258.8 L2910.0,1245.0 L2912.0,1216.5 L2914.0,1188.0 L2916.0,1167.6 L2918.0,1157.6 L2920.0,1151.6 L2922.0,1156.6 L2924.0,1151.1 L2926.0,1139.8 L2928.0,1130.8 L2930.0,1124.1 L2932.0,1117.5 L2934.0,1110.8 L2936.0,1104.1 L2938.0,1099.5 L2940.0,1096.2 L2942.0,1066.2 L2944.0,1043.5 L2946.0,1032.9 L2948.0,1022.2 L2950.0,1015.8 L2952.0,1036.8 L2954.0,1057.8 L2956.0,1116.8 L2958.0,1176.8 L2960.0,1211.3 L2962.0,1239.8 L2964.0,1260.5 L2966.0,1280.1 L2968.0,1282.6 L2970.0,1285.1 L2972.0,1272.4 L2974.0,1257.4 L2976.0,1232.9 L2978.0,1204.3 L2980.0,1185.0 L2982.0,1167.9 L2984.0,1165.0 L2986.0,1168.2 L2988.0,1183.2 L2990.0,1201.6 L2992.0,1221.3 L2994.0,1234.6 L2996.0,1247.9 L2998.0,1261.3 L3000.0,1269.2 L3002.0,1274.1 L3004.0,1271.2 L3006.0,1263.2 L3008.0,1243.2 L3010.0,1210.6 L3012.0,1177.3 L3014.0,1144.0 L3016.0,1122.3 L3018.0,1110.3 L3020.0,1150.3 L3022.0,1172.7 L3024.0,1174.3 L3026.0,1153.6 L3028.0,1130.5 L3030.0,1113.8 L3032.0,1105.0 L3034.0,1101.7 L3036.0,1104.9 L3038.0,1112.9 L3040.0,1129.5 L3042.0,1146.2 L3044.0,1165.0 L3046.0,1201.7 L3048.0,1236.8 L3050.0,1270.1 L3052.0,1291.9 L3054.0,1311.9 L3056.0,1331.9 L3058.0,1345.7 L3060.0,1355.7 L3062.0,1362.3 L3064.0,1365.2 L3066.0,1361.9 L3068.0,1356.0 L3070.0,1353.0 L3072.0,1373.0 L3074.0,1398.1 L3076.0,1428.1 L3078.0,1443.2 L3080.0,1452.1 L3082.0,1448.7 L3084.0,1449.7 L3086.0,1453.1 L3088.0,1456.4 L3090.0,1459.7 L3092.0,1463.1 L3094.0,1458.6 L3096.0,1451.4 L3098.0,1441.4 L3100.0,1425.9 L3102.0,1405.9 L3104.0,1373.7 L3106.0,1340.4 L3108.0,1307.0 L3110.0,1273.7 L3112.0,1240.4 L3114.0,1207.0 L3116.0,1173.7 L3118.0,1140.4 L3120.0,1115.1 L3122.0,1090.6 L3124.0,1061.2 L3126.0,1031.7 L3128.0,1002.3 L3130.0,972.8 L3132.0,943.4 L3134.0,913.9 L3136.0,884.4 L3138.0,855.0 L3140.0,825.5 L3142.0,803.0 L3144.0,783.8 L3146.0,771.8 L3148.0,758.9 L3150.0,735.6 L3152.0,744.0 L3154.0,753.5 L3156.0,760.9 L3158.0,762.9 L3160.0,764.9 L3162.0,770.6 L3164.0,779.6 L3166.0,785.9 L3168.0,765.9 L3170.0,747.3 L3172.0,729.8 L3174.0,710.0 L3176.0,690.0 L3178.0,670.0 L3180.0,652.5 L3182.0,637.1 L3184.0,625.8 L3186.0,621.3 L3188.0,632.9 L3190.0,628.2 L3192.0,620.7 L3194.0,615.0 L3196.0,605.1 L3198.0,598.9 L3200.0,630.2 L3202.0,683.0 L3204.0,724.6 L3206.0,750.5 L3208.0,751.1 L3210.0,732.0 L3212.0,715.7 L3214.0,705.7 L3216.0,702.0 L3218.0,701.1 L3220.0,706.1 L3222.0,713.2 L3224.0,722.3 L3226.0,733.7 L3228.0,718.8 L3230.0,693.7 L3232.0,665.9 L3234.0,638.5 L3236.0,631.8 L3238.0,634.1 L3240.0,623.9 L3242.0,605.7 L3244.0,586.1 L3246.0,577.6 L3248.0,571.2 L3250.0,566.2 L3252.0,568.7 L3254.0,561.4 L3256.0,536.5 L3258.0,503.2 L3260.0,469.8 L3262.0,453.5 L3264.0,443.5 L3266.0,432.5 L3268.0,419.7 L3270.0,413.1 L3272.0,406.4 L3274.0,399.7 L3276.0,387.3 L3278.0,367.3 L3280.0,354.8 L3282.0,372.0 L3284.0,394.0 L3286.0,405.9 L3288.0,402.3 L3290.0,386.0 L3292.0,372.7 L3294.0,350.2 L3296.0,336.2 L3298.0,338.4 L3300.0,365.8 L3302.0,397.6 L3304.0,415.4 L3306.0,395.1 L3308.0,365.1 L3310.0,358.1 L3312.0,356.4 L3314.0,351.6 L3316.0,342.6 L3318.0,342.4 L3320.0,357.2 L3322.0,370.5 L3324.0,374.7 L3326.0,373.3 L3328.0,370.0 L3330.0,371.2 L3332.0,384.5 L3334.0,397.8 L3336.0,407.2 L3338.0,403.8 L3340.0,383.8 L3342.0,370.5 L3344.0,366.3 L3346.0,368.4 L3348.0,375.1 L3350.0,382.0 L3352.0,368.6 L3354.0,340.0 L3356.0,312.3 L3358.0,293.8 L3360.0,287.4 L3362.0,291.8 L3364.0,315.1 L3366.0,338.5 L3368.0,343.2 L3370.0,336.5 L3372.0,329.8 L3374.0,323.2 L3376.0,316.5 L3378.0,319.9 L3380.0,330.2 L3382.0,338.6 L3384.0,337.7 L3386.0,342.7 L3388.0,352.2 L3390.0,371.2 L3392.0,397.6 L3394.0,428.4 L3396.0,461.5 L3398.0,488.2 L3400.0,498.6 L3402.0,500.6 L3404.0,499.4 L3406.0,504.2 L3408.0,513.0 L3410.0,532.0 L3412.0,558.6 L3414.0,583.5 L3416.0,593.5 L3418.0,597.6 L3420.0,589.6 L3422.0,580.9 L3424.0,580.0 L3426.0,586.9 L3428.0,603.6 L3430.0,620.3 L3432.0,636.9 L3434.0,648.6 L3436.0,650.8 L3438.0,647.5 L3440.0,641.0 L3442.0,631.9 L3444.0,621.9 L3446.0,612.9 L3448.0,607.8 L3450.0,621.2 L3452.0,646.0 L3454.0,672.7 L3456.0,699.4 L3458.0,726.8 L3460.0,756.8 L3462.0,780.1 L3464.0,793.0 L3466.0,799.2 L3468.0,794.3 L3470.0,772.5 L3472.0,739.2 L3474.0,715.0 L3476.0,696.4 L3478.0,683.0 L3480.0,676.6 L3482.0,680.5 L3484.0,693.8 L3486.0,709.9 L3488.0,736.9 L3490.0,770.3 L3492.0,803.0 L3494.0,833.0 L3496.0,841.9 L3498.0,850.2 L3500.0,858.6 L3502.0,866.9 L3504.0,875.2 L3506.0,882.3 L3508.0,895.4 L3510.0,928.8 L3512.0,956.2 L3514.0,996.2 L3516.0,1030.6 L3518.0,1053.6 L3520.0,1064.9 L3522.0,1066.3 L3524.0,1059.6 L3526.0,1056.2 L3528.0,1052.9 L3530.0,1053.2 L3532.0,1052.2 L3534.0,1041.4 L3536.0,1024.8 L3538.0,1008.1 L3540.0,1000.5 L3542.0,991.0 L3544.0,975.1 L3546.0,962.0 L3548.0,955.3 L3550.0,964.9 L3552.0,980.2 L3554.0,993.1 L3556.0,999.2 L3558.0,1002.5 L3560.0,1009.0 L3562.0,1030.3 L3564.0,1060.4 L3566.0,1093.7 L3568.0,1127.0 L3570.0,1160.4 L3572.0,1182.2 L3574.0,1197.8 L3576.0,1212.6 L3578.0,1229.3 L3580.0,1245.9 L3582.0,1212.6 L3584.0,1179.3 L3586.0,1151.6 L3588.0,1135.3 L3590.0,1133.3 L3592.0,1140.0 L3594.0,1146.7 L3596.0,1148.6 L3598.0,1150.0 L3600.0,1153.5 L3602.0,1167.0 L3604.0,1187.0 L3606.0,1213.3 L3608.0,1240.0 L3610.0,1264.3 L3612.0,1284.7 L3614.0,1311.4 L3616.0,1325.4 L3618.0,1329.3 L3620.0,1323.2 L3622.0,1303.2 L3624.0,1277.5 L3626.0,1260.3 L3628.0,1255.7 L3630.0,1265.7 L3632.0,1269.2 L3634.0,1256.8 L3636.0,1248.1 L3638.0,1259.7 L3640.0,1289.7 L3642.0,1317.1 L3644.0,1337.3 L3646.0,1351.9 L3648.0,1371.9 L3650.0,1388.9 L3652.0,1409.5 L3654.0,1428.9 L3656.0,1438.9 L3658.0,1445.6 L3660.0,1442.9 L3662.0,1440.3 L3664.0,1445.0 L3666.0,1461.7 L3668.0,1475.7 L3670.0,1483.9 L3672.0,1484.3 L3674.0,1474.3 L3676.0,1449.0 L3678.0,1418.2 L3680.0,1384.9 L3682.0,1352.3 L3684.0,1349.0 L3686.0,1343.2 L3688.0,1345.2 L3690.0,1358.1 L3692.0,1368.1 L3694.0,1378.1 L3696.0,1384.5 L3698.0,1380.5 L3700.0,1353.9 L3702.0,1320.9 L3704.0,1291.9 L3706.0,1265.2 L3708.0,1239.8 L3710.0,1236.5 L3712.0,1233.2 L3714.0,1229.8 L3716.0,1223.8 L3718.0,1203.8 L3720.0,1189.5 L3722.0,1174.3 L3724.0,1156.8 L3726.0,1136.8 L3728.0,1120.0 L3730.0,1103.3 L3732.0,1085.4 L3734.0,1065.9 L3736.0,1052.6 L3738.0,1028.8 L3740.0,1005.4 L3742.0,986.0 L3744.0,969.4 L3746.0,955.7 L3748.0,962.2 L3750.0,981.2 L3752.0,997.8 L3754.0,1014.5 L3756.0,1026.5 L3758.0,1036.5 L3760.0,1047.2 L3762.0,1063.9 L3764.0,1050.8 L3766.0,1035.9 L3768.0,1022.3 L3770.0,995.7 L3772.0,984.3 L3774.0,978.5 L3776.0,978.4 L3778.0,985.3 L3780.0,1002.0 L3782.0,1025.9 L3784.0,1051.2 L3786.0,1073.6 L3788.0,1090.3 L3790.0,1115.3 L3792.0,1142.0 L3794.0,1165.4 L3796.0,1178.7 L3798.0,1192.1 L3800.0,1207.6 L3802.0,1225.4 L3804.0,1245.2 L3806.0,1261.9 L3808.0,1278.6 L3810.0,1302.9 L3812.0,1333.5 L3814.0,1350.2 L3816.0,1366.8 L3818.0,1383.5 L3820.0,1400.2 L3822.0,1416.8 L3824.0,1433.5 L3826.0,1450.2 L3828.0,1458.0 L3830.0,1451.4 L3832.0,1444.7 L3834.0,1427.6 L3836.0,1401.1 L3838.0,1368.4 L3840.0,1338.4 L3842.0,1302.4 L3844.0,1269.7 L3846.0,1242.7 L3848.0,1222.7 L3850.0,1212.7 L3852.0,1193.3 L3854.0,1172.7 L3856.0,1155.3 L3858.0,1132.0 L3860.0,1111.4 L3862.0,1094.8 L3864.0,1082.9 L3866.0,1076.2 L3868.0,1063.4 L3870.0,1062.5 L3872.0,1060.5 L3874.0,1040.5 L3876.0,1020.5 L3878.0,1017.6 L3880.0,1026.7 L3882.0,1039.7 L3884.0,1029.7 L3886.0,1022.5 L3888.0,1015.9 L3890.0,1014.1 L3892.0,1027.4 L3894.0,1031.3 L3896.0,1034.6 L3898.0,1040.3 L3900.0,1050.3 L3902.0,1060.3 L3904.0,1080.4 L3906.0,1105.2 L3908.0,1133.0 L3910.0,1166.3 L3912.0,1199.6 L3914.0,1229.2 L3916.0,1254.1 L3918.0,1274.1 L3920.0,1290.8 L3922.0,1307.5 L3924.0,1319.1 L3926.0,1321.4 L3928.0,1311.4 L3930.0,1306.6 L3932.0,1309.7 L3934.0,1319.7 L3936.0,1329.7 L3938.0,1339.7 L3940.0,1339.8 L3942.0,1329.2 L3944.0,1309.2 L3946.0,1282.5 L3948.0,1258.2 L3950.0,1234.9 L3952.0,1211.2 L3954.0,1184.5 L3956.0,1165.9 L3958.0,1147.6 L3960.0,1127.6 L3962.0,1107.6 L3964.0,1090.6 L3966.0,1074.0 L3968.0,1058.4 L3970.0,1045.0 L3972.0,1031.7 L3974.0,1015.9 L3976.0,1002.2 L3978.0,992.6 L3980.0,985.9 L3982.0,970.9 L3984.0,956.0 L3986.0,943.5 L3988.0,933.5 L3990.0,923.5 L3992.0,917.2 L3994.0,912.9 L3996.0,908.6 L3998.0,907.9 L4000.0,909.2 L4002.0,910.5 L4004.0,913.4 L4006.0,918.7 L4008.0,924.0 L4010.0,930.0 L4012.0,940.0 L4014.0,947.2 L4016.0,955.7 L4018.0,964.9 L4020.0,971.5 L4022.0,978.2 L4024.0,982.7 L4026.0,988.4 L4028.0,998.2 L4030.0,1004.9 L4032.0,1004.0 L4034.0,999.1 L4036.0,992.4 L4038.0,985.8 L4040.0,970.5 L4042.0,953.8 L4044.0,938.0 L4046.0,924.7 L4048.0,921.1 L4050.0,926.8 L4052.0,941.8 L4054.0,965.4 L4056.0,992.1 L4058.0,1003.1 L4060.0,1006.5 L4062.0,1011.5 L4064.0,1038.2 L4066.0,1061.9 L4068.0,1077.3 L4070.0,1086.3 L4072.0,1093.0 L4074.0,1089.6 L4076.0,1093.3 L4078.0,1109.5 L4080.0,1139.8 L4082.0,1173.2 L4084.0,1184.9 L4086.0,1184.7 L4088.0,1186.7 L4090.0,1220.0 L4092.0,1253.3 L4094.0,1286.7 L4096.0,1320.0 L4098.0,1353.3 L4100.0,1386.7 L4102.0,1407.8 L4104.0,1424.5 L4106.0,1441.2 L4108.0,1457.8 L4110.0,1463.3 L4112.0,1461.3 L4114.0,1451.4 L4116.0,1431.4 L4118.0,1398.7 L4120.0,1369.7 L4122.0,1340.7 L4124.0,1307.4 L4126.0,1274.1 L4128.0,1240.7 L4130.0,1207.4 L4132.0,1174.1 L4134.0,1140.7 L4136.0,1093.0 L4138.0,1043.0 L4140.0,997.5 L4142.0,964.1 L4144.0,940.5 L4146.0,928.4 L4148.0,921.6 L4150.0,914.9 L4152.0,877.4 L4154.0,858.2 L4156.0,861.4 L4158.0,884.6 L4160.0,919.3 L4162.0,951.8 L4164.0,973.8 L4166.0,991.8 L4168.0,999.6 L4170.0,1014.9 L4172.0,1049.1 L4174.0,1073.1 L4176.0,1089.3 L4178.0,1104.0 L4180.0,1118.6 L4182.0,1124.8 L4184.0,1128.8 L4186.0,1132.8 L4188.0,1136.8 L4190.0,1143.8 L4192.0,1151.8 L4194.0,1159.8 L4196.0,1176.2 L4198.0,1196.2 L4200.0,1229.7 L4202.0,1267.5 L4204.0,1280.0 L4206.0,1264.1 L4208.0,1249.1 L4210.0,1225.0 L4212.0,1195.0 L4214.0,1159.2 L4216.0,1132.8 L4218.0,1134.5 L4220.0,1136.5 L4222.0,1121.2 L4224.0,1104.6 L4226.0,1091.3 L4228.0,1081.9 L4230.0,1073.2 L4232.0,1065.2 L4234.0,1062.3 L4236.0,1069.9 L4238.0,1087.7 L4240.0,1087.3 L4242.0,1063.3 L4244.0,1045.4 L4246.0,1042.9 L4248.0,1039.6 L4250.0,1034.6 L4252.0,1022.6 L4254.0,993.3 L4256.0,962.8 L4258.0,937.8 L4260.0,933.8 L4262.0,930.9 L4264.0,936.4 L4266.0,949.2 L4268.0,961.2 L4270.0,972.3 L4272.0,983.4 L4274.0,996.8 L4276.0,1011.8 L4278.0,1028.9 L4280.0,1054.2 L4282.0,1067.2 L4284.0,1071.7 L4286.0,1073.7 L4288.0,1062.8 L4290.0,1041.3 L4292.0,1014.6 L4294.0,990.1 L4296.0,991.4 L4298.0,1041.1 L4300.0,1091.1 L4302.0,1111.2 L4304.0,1130.2 L4306.0,1149.0 L4308.0,1162.3 L4310.0,1175.7 L4312.0,1169.0 L4314.0,1162.3 L4316.0,1150.5 L4318.0,1138.5 L4320.0,1127.6 L4322.0,1119.6 L4324.0,1113.0 L4326.0,1111.0 L4328.0,1117.9 L4330.0,1137.8 L4332.0,1164.8 L4334.0,1178.8 L4336.0,1172.7 L4338.0,1161.7 L4340.0,1150.3 L4342.0,1142.3 L4344.0,1153.1 L4346.0,1170.8 L4348.0,1190.8 L4350.0,1210.8 L4352.0,1230.8 L4354.0,1250.8 L4356.0,1271.1 L4358.0,1301.1 L4360.0,1323.0 L4362.0,1326.1 L4364.0,1298.1 L4366.0,1283.7 L4368.0,1274.6 L4370.0,1264.9 L4372.0,1244.9 L4374.0,1230.4 L4376.0,1225.5 L4378.0,1226.2 L4380.0,1222.2 L4382.0,1218.2 L4384.0,1214.2 L4386.0,1212.4 L4388.0,1222.4 L4390.0,1232.4 L4392.0,1240.6 L4394.0,1246.1 L4396.0,1247.1 L4398.0,1229.9 L4400.0,1204.1 L4402.0,1174.1 L4404.0,1144.1 L4406.0,1123.9 L4408.0,1110.7 L4410.0,1102.7 L4412.0,1098.7 L4414.0,1096.0 L4416.0,1093.4 L4418.0,1089.4 L4420.0,1083.5 L4422.0,1073.9 L4424.0,1063.8 L4426.0,1064.9 L4428.0,1078.7 L4430.0,1092.7 L4432.0,1099.8 L4434.0,1116.4 L4436.0,1136.9 L4438.0,1142.9 L4440.0,1133.8 L4442.0,1120.2 L4444.0,1106.6 L4446.0,1100.6 L4448.0,1100.0 L4450.0,1101.1 L4452.0,1103.5 L4454.0,1107.5 L4456.0,1099.7 L4458.0,1084.9 L4460.0,1065.4 L4462.0,1049.4 L4464.0,1042.8 L4466.0,1044.9 L4468.0,1054.4 L4470.0,1058.4 L4472.0,1056.5 L4474.0,1053.3 L4476.0,1051.3 L4478.0,1049.3 L4480.0,1064.9 L4482.0,1090.8 L4484.0,1120.8 L4486.0,1129.4 L4488.0,1127.5 L4490.0,1118.9 L4492.0,1108.9 L4494.0,1106.3 L4496.0,1109.9 L4498.0,1118.4 L4500.0,1128.4 L4502.0,1124.5 L4504.0,1118.5 L4506.0,1114.8 L4508.0,1122.8 L4510.0,1130.8 L4512.0,1136.1 L4514.0,1138.3 L4516.0,1142.3 L4518.0,1144.8 L4520.0,1146.8 L4522.0,1148.3 L4524.0,1142.3 L4526.0,1132.1 L4528.0,1123.6 L4530.0,1121.6 L4532.0,1127.6 L4534.0,1132.3 L4536.0,1137.5 L4538.0,1145.5 L4540.0,1149.7 L4542.0,1153.7 L4544.0,1157.7 L4546.0,1161.7 L4548.0,1169.3 L4550.0,1177.3 L4552.0,1185.3 L4554.0,1193.3 L4556.0,1204.6 L4558.0,1216.6 L4560.0,1226.8 L4562.0,1224.8 L4564.0,1216.5 L4566.0,1202.2 L4568.0,1183.5 L4570.0,1179.5 L4572.0,1184.2 L4574.0,1191.5 L4576.0,1197.4 L4578.0,1199.4 L4580.0,1201.4 L4582.0,1203.4 L4584.0,1205.4 L4586.0,1207.4 L4588.0,1209.4 L4590.0,1211.9 L4592.0,1215.9 L4594.0,1234.6 L4596.0,1237.6 L4598.0,1227.1 L4600.3,1213.5 L4600.3,1610.1 L4598.0,1624.8 L4596.0,1636.9 L4594.0,1620.3 L4592.0,1604.2 L4590.0,1592.3 L4588.0,1587.3 L4586.0,1589.1 L4584.0,1595.8 L4582.0,1599.2 L4580.0,1595.9 L4578.0,1592.5 L4576.0,1589.2 L4574.0,1588.7 L4572.0,1589.0 L4570.0,1579.2 L4568.0,1569.4 L4566.0,1571.4 L4564.0,1583.8 L4562.0,1600.5 L4560.0,1606.8 L4558.0,1602.4 L4556.0,1595.8 L4554.0,1591.4 L4552.0,1590.5 L4550.0,1567.8 L4548.0,1532.6 L4546.0,1495.9 L4544.0,1476.0 L4542.0,1476.7 L4540.0,1483.0 L4538.0,1505.0 L4536.0,1531.4 L4534.0,1535.4 L4532.0,1532.1 L4530.0,1528.7 L4528.0,1526.2 L4526.0,1534.0 L4524.0,1552.0 L4522.0,1577.6 L4520.0,1590.0 L4518.0,1568.6 L4516.0,1543.5 L4514.0,1526.2 L4512.0,1518.2 L4510.0,1515.9 L4508.0,1513.6 L4506.0,1506.9 L4504.0,1505.7 L4502.0,1512.3 L4500.0,1517.5 L4498.0,1517.6 L4496.0,1512.5 L4494.0,1502.3 L4492.0,1492.7 L4490.0,1494.0 L4488.0,1504.8 L4486.0,1513.8 L4484.0,1515.9 L4482.0,1504.2 L4480.0,1482.7 L4478.0,1461.9 L4476.0,1449.7 L4474.0,1445.1 L4472.0,1446.0 L4470.0,1447.7 L4468.0,1447.8 L4466.0,1438.6 L4464.0,1441.3 L4462.0,1460.8 L4460.0,1494.4 L4458.0,1536.8 L4456.0,1559.7 L4454.0,1538.3 L4452.0,1506.3 L4450.0,1486.2 L4448.0,1484.8 L4446.0,1492.9 L4444.0,1505.4 L4442.0,1517.2 L4440.0,1534.9 L4438.0,1552.7 L4436.0,1554.3 L4434.0,1529.3 L4432.0,1502.7 L4430.0,1487.5 L4428.0,1472.6 L4426.0,1461.6 L4424.0,1463.5 L4422.0,1472.7 L4420.0,1482.7 L4418.0,1494.7 L4416.0,1499.7 L4414.0,1504.1 L4412.0,1522.0 L4410.0,1543.0 L4408.0,1549.6 L4406.0,1551.3 L4404.0,1559.5 L4402.0,1572.2 L4400.0,1591.1 L4398.0,1619.7 L4396.0,1631.9 L4394.0,1632.7 L4392.0,1623.2 L4390.0,1603.5 L4388.0,1590.4 L4386.0,1584.2 L4384.0,1587.8 L4382.0,1594.9 L4380.0,1604.9 L4378.0,1612.7 L4376.0,1608.7 L4374.0,1604.2 L4372.0,1614.9 L4370.0,1644.6 L4368.0,1661.6 L4366.0,1673.8 L4364.0,1694.0 L4362.0,1711.8 L4360.0,1703.0 L4358.0,1676.3 L4356.0,1651.2 L4354.0,1631.1 L4352.0,1619.5 L4350.0,1609.3 L4348.0,1592.2 L4346.0,1570.2 L4344.0,1548.9 L4342.0,1535.4 L4340.0,1529.9 L4338.0,1538.3 L4336.0,1556.5 L4334.0,1571.4 L4332.0,1563.9 L4330.0,1545.1 L4328.0,1525.1 L4326.0,1508.0 L4324.0,1515.1 L4322.0,1534.3 L4320.0,1554.3 L4318.0,1574.3 L4316.0,1594.2 L4314.0,1610.4 L4312.0,1616.2 L4310.0,1612.5 L4308.0,1605.9 L4306.0,1598.6 L4304.0,1584.2 L4302.0,1548.7 L4300.0,1506.2 L4298.0,1464.4 L4296.0,1419.7 L4294.0,1386.2 L4292.0,1377.9 L4290.0,1398.8 L4288.0,1436.2 L4286.0,1465.1 L4284.0,1467.5 L4282.0,1457.6 L4280.0,1449.4 L4278.0,1442.4 L4276.0,1426.8 L4274.0,1408.7 L4272.0,1392.1 L4270.0,1377.6 L4268.0,1366.5 L4266.0,1356.5 L4264.0,1346.5 L4262.0,1341.5 L4260.0,1339.5 L4258.0,1340.5 L4256.0,1346.4 L4254.0,1364.6 L4252.0,1384.6 L4250.0,1404.6 L4248.0,1418.3 L4246.0,1428.4 L4244.0,1438.2 L4242.0,1441.9 L4240.0,1452.2 L4238.0,1465.1 L4236.0,1473.8 L4234.0,1472.7 L4232.0,1466.0 L4230.0,1461.5 L4228.0,1467.3 L4226.0,1481.5 L4224.0,1498.2 L4222.0,1514.9 L4220.0,1528.0 L4218.0,1533.4 L4216.0,1528.6 L4214.0,1525.0 L4212.0,1544.4 L4210.0,1574.3 L4208.0,1607.7 L4206.0,1632.0 L4204.0,1639.2 L4202.0,1631.5 L4200.0,1601.0 L4198.0,1558.1 L4196.0,1523.1 L4194.0,1510.9 L4192.0,1514.5 L4190.0,1525.9 L4188.0,1528.4 L4186.0,1526.9 L4184.0,1519.3 L4182.0,1505.1 L4180.0,1489.2 L4178.0,1479.2 L4176.0,1470.8 L4174.0,1461.9 L4172.0,1448.4 L4170.0,1431.5 L4168.0,1406.5 L4166.0,1381.5 L4164.0,1356.5 L4162.0,1331.5 L4160.0,1306.5 L4158.0,1281.5 L4156.0,1260.9 L4154.0,1249.5 L4152.0,1259.5 L4150.0,1274.7 L4148.0,1299.7 L4146.0,1340.3 L4144.0,1390.3 L4142.0,1420.8 L4140.0,1449.0 L4138.0,1477.2 L4136.0,1507.7 L4134.0,1541.0 L4132.0,1574.3 L4130.0,1607.7 L4128.0,1641.0 L4126.0,1674.3 L4124.0,1707.7 L4122.0,1741.0 L4120.0,1774.3 L4118.0,1807.7 L4116.0,1840.3 L4114.0,1860.3 L4112.0,1867.7 L4110.0,1874.1 L4108.0,1887.3 L4106.0,1917.3 L4104.0,1924.2 L4102.0,1916.2 L4100.0,1895.0 L4098.0,1861.7 L4096.0,1828.4 L4094.0,1795.0 L4092.0,1761.7 L4090.0,1728.4 L4088.0,1695.0 L4086.0,1661.7 L4084.0,1628.4 L4082.0,1595.0 L4080.0,1561.7 L4078.0,1528.4 L4076.0,1497.0 L4074.0,1476.9 L4072.0,1480.3 L4070.0,1475.3 L4068.0,1472.7 L4066.0,1476.8 L4064.0,1480.8 L4062.0,1465.3 L4060.0,1440.3 L4058.0,1415.3 L4056.0,1390.3 L4054.0,1365.3 L4052.0,1341.1 L4050.0,1320.7 L4048.0,1313.2 L4046.0,1314.9 L4044.0,1327.4 L4042.0,1339.9 L4040.0,1352.4 L4038.0,1382.4 L4036.0,1409.7 L4034.0,1429.7 L4032.0,1436.8 L4030.0,1425.4 L4028.0,1409.2 L4026.0,1399.2 L4024.0,1392.4 L4022.0,1387.4 L4020.0,1382.4 L4018.0,1377.4 L4016.0,1372.4 L4014.0,1365.1 L4012.0,1355.1 L4010.0,1345.1 L4008.0,1335.1 L4006.0,1320.1 L4004.0,1307.8 L4002.0,1302.8 L4000.0,1297.8 L3998.0,1292.8 L3996.0,1301.2 L3994.0,1315.1 L3992.0,1335.1 L3990.0,1357.8 L3988.0,1397.8 L3986.0,1437.8 L3984.0,1445.8 L3982.0,1452.9 L3980.0,1460.0 L3978.0,1467.1 L3976.0,1474.1 L3974.0,1481.6 L3972.0,1491.6 L3970.0,1504.4 L3968.0,1521.4 L3966.0,1544.6 L3964.0,1577.9 L3962.0,1611.3 L3960.0,1644.6 L3958.0,1677.9 L3956.0,1711.3 L3954.0,1744.6 L3952.0,1777.9 L3950.0,1803.6 L3948.0,1823.0 L3946.0,1856.3 L3944.0,1904.1 L3942.0,1946.5 L3940.0,1965.1 L3938.0,1933.8 L3936.0,1900.5 L3934.0,1867.1 L3932.0,1836.5 L3930.0,1816.8 L3928.0,1806.0 L3926.0,1792.7 L3924.0,1770.2 L3922.0,1746.8 L3920.0,1727.8 L3918.0,1718.3 L3916.0,1725.0 L3914.0,1707.3 L3912.0,1680.6 L3910.0,1654.0 L3908.0,1627.3 L3906.0,1595.0 L3904.0,1561.7 L3902.0,1528.4 L3900.0,1495.0 L3898.0,1479.8 L3896.0,1451.3 L3894.0,1430.8 L3892.0,1417.0 L3890.0,1412.0 L3888.0,1411.1 L3886.0,1418.6 L3884.0,1418.2 L3882.0,1413.2 L3880.0,1416.1 L3878.0,1424.4 L3876.0,1436.9 L3874.0,1443.4 L3872.0,1448.8 L3870.0,1454.2 L3868.0,1459.7 L3866.0,1465.1 L3864.0,1470.5 L3862.0,1484.7 L3860.0,1501.4 L3858.0,1521.2 L3856.0,1554.5 L3854.0,1602.7 L3852.0,1662.6 L3850.0,1729.3 L3848.0,1795.9 L3846.0,1862.6 L3844.0,1917.6 L3842.0,1948.6 L3840.0,1952.3 L3838.0,1959.0 L3836.0,1965.7 L3834.0,1977.5 L3832.0,1993.4 L3830.0,2006.8 L3828.0,2004.8 L3826.0,1986.9 L3824.0,1960.3 L3822.0,1933.7 L3820.0,1910.4 L3818.0,1887.0 L3816.0,1862.3 L3814.0,1834.7 L3812.0,1801.4 L3810.0,1768.0 L3808.0,1743.7 L3806.0,1723.8 L3804.0,1693.8 L3802.0,1711.1 L3800.0,1713.8 L3798.0,1703.6 L3796.0,1685.1 L3794.0,1635.1 L3792.0,1600.3 L3790.0,1570.3 L3788.0,1543.1 L3786.0,1515.5 L3784.0,1482.2 L3782.0,1448.8 L3780.0,1410.8 L3778.0,1382.0 L3776.0,1369.5 L3774.0,1367.1 L3772.0,1369.6 L3770.0,1383.9 L3768.0,1401.1 L3766.0,1426.1 L3764.0,1445.0 L3762.0,1457.5 L3760.0,1447.9 L3758.0,1427.4 L3756.0,1402.4 L3754.0,1381.1 L3752.0,1361.1 L3750.0,1348.6 L3748.0,1340.1 L3746.0,1342.6 L3744.0,1360.0 L3742.0,1390.0 L3740.0,1428.1 L3738.0,1468.1 L3736.0,1479.8 L3734.0,1476.2 L3732.0,1488.2 L3730.0,1497.4 L3728.0,1508.4 L3726.0,1528.5 L3724.0,1551.8 L3722.0,1577.6 L3720.0,1602.8 L3718.0,1623.4 L3716.0,1626.8 L3714.0,1624.5 L3712.0,1623.0 L3710.0,1625.4 L3708.0,1635.4 L3706.0,1673.8 L3704.0,1720.3 L3702.0,1757.4 L3700.0,1770.4 L3698.0,1777.0 L3696.0,1771.1 L3694.0,1761.1 L3692.0,1751.1 L3690.0,1741.1 L3688.0,1742.6 L3686.0,1766.8 L3684.0,1808.6 L3682.0,1855.2 L3680.0,1827.3 L3678.0,1824.3 L3676.0,1845.7 L3674.0,1883.5 L3672.0,1896.8 L3670.0,1905.0 L3668.0,1905.1 L3666.0,1895.9 L3664.0,1875.9 L3662.0,1838.1 L3660.0,1835.2 L3658.0,1837.2 L3656.0,1830.5 L3654.0,1824.8 L3652.0,1816.3 L3650.0,1804.9 L3648.0,1778.6 L3646.0,1754.6 L3644.0,1733.6 L3642.0,1722.1 L3640.0,1696.5 L3638.0,1665.8 L3636.0,1640.1 L3634.0,1638.3 L3632.0,1644.6 L3630.0,1657.5 L3628.0,1654.1 L3626.0,1660.5 L3624.0,1677.0 L3622.0,1702.0 L3620.0,1717.5 L3618.0,1725.1 L3616.0,1716.6 L3614.0,1707.0 L3612.0,1697.0 L3610.0,1674.4 L3608.0,1648.9 L3606.0,1618.1 L3604.0,1579.5 L3602.0,1557.5 L3600.0,1542.8 L3598.0,1547.7 L3596.0,1547.9 L3594.0,1543.9 L3592.0,1536.6 L3590.0,1528.6 L3588.0,1528.6 L3586.0,1533.6 L3584.0,1561.6 L3582.0,1588.2 L3580.0,1612.2 L3578.0,1608.8 L3576.0,1580.8 L3574.0,1569.6 L3572.0,1565.6 L3570.0,1558.0 L3568.0,1540.7 L3566.0,1516.2 L3564.0,1482.9 L3562.0,1445.4 L3560.0,1411.9 L3558.0,1392.9 L3556.0,1395.6 L3554.0,1390.0 L3552.0,1370.9 L3550.0,1356.9 L3548.0,1350.4 L3546.0,1377.3 L3544.0,1392.3 L3542.0,1385.5 L3540.0,1386.8 L3538.0,1409.6 L3536.0,1445.7 L3534.0,1444.7 L3532.0,1443.7 L3530.0,1445.7 L3528.0,1448.3 L3526.0,1451.0 L3524.0,1453.6 L3522.0,1456.1 L3520.0,1458.6 L3518.0,1451.3 L3516.0,1333.0 L3514.0,1320.5 L3512.0,1303.8 L3510.0,1291.0 L3508.0,1282.2 L3506.0,1267.4 L3504.0,1240.7 L3502.0,1217.0 L3500.0,1198.2 L3498.0,1180.0 L3496.0,1161.6 L3494.0,1148.1 L3492.0,1128.1 L3490.0,1113.5 L3488.0,1104.1 L3486.0,1095.0 L3484.0,1081.6 L3482.0,1068.3 L3480.0,1061.3 L3478.0,1064.3 L3476.0,1074.4 L3474.0,1093.7 L3472.0,1127.0 L3470.0,1160.4 L3468.0,1185.0 L3466.0,1191.1 L3464.0,1183.4 L3462.0,1165.8 L3460.0,1132.4 L3458.0,1099.1 L3456.0,1073.6 L3454.0,1057.8 L3452.0,1044.3 L3450.0,1024.3 L3448.0,1004.3 L3446.0,999.6 L3444.0,1008.0 L3442.0,1019.7 L3440.0,1029.7 L3438.0,1039.4 L3436.0,1042.7 L3434.0,1034.9 L3432.0,1020.7 L3430.0,1004.1 L3428.0,988.0 L3426.0,974.7 L3424.0,967.8 L3422.0,971.3 L3420.0,977.9 L3418.0,983.5 L3416.0,986.1 L3414.0,982.8 L3412.0,967.6 L3410.0,948.6 L3408.0,928.6 L3406.0,910.3 L3404.0,897.3 L3402.0,897.3 L3400.0,895.9 L3398.0,886.9 L3396.0,853.6 L3394.0,822.4 L3392.0,802.4 L3390.0,785.6 L3388.0,771.4 L3386.0,758.0 L3384.0,745.7 L3382.0,735.1 L3380.0,718.5 L3378.0,704.7 L3376.0,700.0 L3374.0,701.4 L3372.0,704.8 L3370.0,708.1 L3368.0,724.8 L3366.0,723.2 L3364.0,705.1 L3362.0,683.2 L3360.0,674.3 L3358.0,694.3 L3356.0,726.6 L3354.0,745.9 L3352.0,755.9 L3350.0,761.7 L3348.0,764.6 L3346.0,759.6 L3344.0,760.2 L3342.0,765.0 L3340.0,774.3 L3338.0,789.5 L3336.0,812.9 L3334.0,797.3 L3332.0,788.2 L3330.0,782.4 L3328.0,777.4 L3326.0,770.9 L3324.0,768.9 L3322.0,765.7 L3320.0,758.1 L3318.0,748.3 L3316.0,741.6 L3314.0,742.6 L3312.0,745.3 L3310.0,748.6 L3308.0,768.6 L3306.0,804.3 L3304.0,800.8 L3302.0,761.8 L3300.0,723.4 L3298.0,716.8 L3296.0,725.4 L3294.0,744.8 L3292.0,769.7 L3290.0,791.9 L3288.0,800.6 L3286.0,787.3 L3284.0,779.5 L3282.0,766.7 L3280.0,754.1 L3278.0,751.2 L3276.0,764.5 L3274.0,769.7 L3272.0,773.9 L3270.0,776.4 L3268.0,780.7 L3266.0,785.9 L3264.0,793.4 L3262.0,814.6 L3260.0,845.9 L3258.0,866.5 L3256.0,896.5 L3254.0,929.3 L3252.0,952.3 L3250.0,963.5 L3248.0,965.0 L3246.0,958.3 L3244.0,971.1 L3242.0,992.0 L3240.0,1009.9 L3238.0,1022.2 L3236.0,1031.4 L3234.0,1034.8 L3232.0,1047.0 L3230.0,1069.4 L3228.0,1099.1 L3226.0,1122.7 L3224.0,1115.9 L3222.0,1105.9 L3220.0,1095.9 L3218.0,1087.9 L3216.0,1085.0 L3214.0,1088.4 L3212.0,1091.7 L3210.0,1098.2 L3208.0,1114.6 L3206.0,1138.0 L3204.0,1148.8 L3202.0,1121.6 L3200.0,1088.3 L3198.0,1060.7 L3196.0,1047.0 L3194.0,1037.5 L3192.0,1024.9 L3190.0,1014.9 L3188.0,1014.9 L3186.0,1011.5 L3184.0,1007.3 L3182.0,1010.6 L3180.0,1013.5 L3178.0,1019.4 L3176.0,1030.3 L3174.0,1060.3 L3172.0,1093.2 L3170.0,1115.3 L3168.0,1133.5 L3166.0,1155.1 L3164.0,1180.9 L3162.0,1174.2 L3160.0,1163.7 L3158.0,1153.4 L3156.0,1144.8 L3154.0,1142.2 L3152.0,1141.4 L3150.0,1143.9 L3148.0,1146.7 L3146.0,1146.9 L3144.0,1141.2 L3142.0,1153.9 L3140.0,1189.0 L3138.0,1278.2 L3136.0,1322.2 L3134.0,1360.2 L3132.0,1393.5 L3130.0,1415.6 L3128.0,1431.9 L3126.0,1441.9 L3124.0,1449.0 L3122.0,1452.3 L3120.0,1461.1 L3118.0,1475.5 L3116.0,1508.8 L3114.0,1547.8 L3112.0,1591.2 L3110.0,1634.5 L3108.0,1676.8 L3106.0,1716.8 L3104.0,1752.1 L3102.0,1785.4 L3100.0,1818.7 L3098.0,1839.8 L3096.0,1846.5 L3094.0,1850.4 L3092.0,1853.7 L3090.0,1857.0 L3088.0,1854.4 L3086.0,1847.7 L3084.0,1841.1 L3082.0,1834.4 L3080.0,1827.7 L3078.0,1821.1 L3076.0,1813.0 L3074.0,1793.0 L3072.0,1769.7 L3070.0,1743.1 L3068.0,1742.3 L3066.0,1744.1 L3064.0,1740.7 L3062.0,1718.7 L3060.0,1685.4 L3058.0,1665.4 L3056.0,1645.4 L3054.0,1625.4 L3052.0,1605.4 L3050.0,1585.4 L3048.0,1565.4 L3046.0,1552.3 L3044.0,1545.6 L3042.0,1533.0 L3040.0,1517.8 L3038.0,1497.8 L3036.0,1486.5 L3034.0,1480.1 L3032.0,1483.4 L3030.0,1492.2 L3028.0,1508.8 L3026.0,1533.3 L3024.0,1556.2 L3022.0,1559.5 L3020.0,1541.3 L3018.0,1504.6 L3016.0,1532.3 L3014.0,1567.6 L3012.0,1607.6 L3010.0,1647.6 L3008.0,1684.1 L3006.0,1660.8 L3004.0,1643.2 L3002.0,1633.2 L3000.0,1650.3 L2998.0,1667.3 L2996.0,1657.3 L2994.0,1641.6 L2992.0,1621.6 L2990.0,1601.6 L2988.0,1583.8 L2986.0,1570.5 L2984.0,1561.8 L2982.0,1556.2 L2980.0,1562.9 L2978.0,1578.7 L2976.0,1605.4 L2974.0,1629.3 L2972.0,1651.2 L2970.0,1667.8 L2968.0,1664.7 L2966.0,1648.0 L2964.0,1598.9 L2962.0,1543.1 L2960.0,1476.4 L2958.0,1424.3 L2956.0,1379.1 L2954.0,1345.8 L2952.0,1335.1 L2950.0,1348.5 L2948.0,1379.1 L2946.0,1410.8 L2944.0,1437.5 L2942.0,1455.9 L2940.0,1469.2 L2938.0,1482.5 L2936.0,1493.3 L2934.0,1500.0 L2932.0,1499.1 L2930.0,1497.6 L2928.0,1507.6 L2926.0,1519.3 L2924.0,1532.6 L2922.0,1540.0 L2920.0,1545.8 L2918.0,1549.1 L2916.0,1556.8 L2914.0,1568.4 L2912.0,1637.9 L2910.0,1707.5 L2908.0,1719.9 L2906.0,1727.4 L2904.0,1737.4 L2902.0,1747.4 L2900.0,1757.4 L2898.0,1767.4 L2896.0,1777.4 L2894.0,1790.4 L2892.0,1810.4 L2890.0,1830.4 L2888.0,1846.8 L2886.0,1852.8 L2884.0,1857.3 L2882.0,1862.6 L2880.0,1872.6 L2878.0,1884.0 L2876.0,1888.3 L2874.0,1856.3 L2872.0,1819.1 L2870.0,1779.1 L2868.0,1739.1 L2866.0,1708.9 L2864.0,1686.2 L2862.0,1676.2 L2860.0,1668.5 L2858.0,1662.4 L2856.0,1654.4 L2854.0,1652.8 L2852.0,1657.1 L2850.0,1685.1 L2848.0,1702.3 L2846.0,1708.3 L2844.0,1727.9 L2842.0,1745.2 L2840.0,1759.2 L2838.0,1769.5 L2836.0,1774.5 L2834.0,1772.5 L2832.0,1770.5 L2830.0,1767.8 L2828.0,1763.8 L2826.0,1749.6 L2824.0,1731.6 L2822.0,1709.6 L2820.0,1692.4 L2818.0,1677.6 L2816.0,1665.6 L2814.0,1659.8 L2812.0,1657.8 L2810.0,1661.8 L2808.0,1677.4 L2806.0,1701.6 L2804.0,1741.6 L2802.0,1772.0 L2800.0,1795.9 L2798.0,1809.9 L2796.0,1818.8 L2794.0,1824.5 L2792.0,1828.5 L2790.0,1831.3 L2788.0,1829.4 L2786.0,1787.4 L2784.0,1746.6 L2782.0,1706.8 L2780.0,1672.8 L2778.0,1658.9 L2776.0,1662.9 L2774.0,1678.9 L2772.0,1694.0 L2770.0,1708.0 L2768.0,1706.5 L2766.0,1704.5 L2764.0,1702.5 L2762.0,1709.8 L2760.0,1721.8 L2758.0,1739.8 L2756.0,1752.5 L2754.0,1763.1 L2752.0,1771.1 L2750.0,1775.7 L2748.0,1780.3 L2746.0,1786.3 L2744.0,1781.1 L2742.0,1775.9 L2740.0,1777.9 L2738.0,1796.6 L2736.0,1820.4 L2734.0,1845.7 L2732.0,1872.6 L2730.0,1900.9 L2728.0,1918.7 L2726.0,1942.8 L2724.0,1953.4 L2722.0,1945.1 L2720.0,1936.0 L2718.0,1922.6 L2716.0,1908.0 L2714.0,1884.0 L2712.0,1850.2 L2710.0,1836.2 L2708.0,1820.0 L2706.0,1802.8 L2704.0,1804.8 L2702.0,1814.1 L2700.0,1830.1 L2698.0,1790.5 L2696.0,1751.0 L2694.0,1604.6 L2692.0,1562.7 L2690.0,1536.0 L2688.0,1508.6 L2686.0,1468.6 L2684.0,1437.1 L2682.0,1410.5 L2680.0,1383.8 L2678.0,1365.1 L2676.0,1345.9 L2674.0,1322.6 L2672.0,1324.8 L2670.0,1331.8 L2668.0,1351.9 L2666.0,1445.2 L2664.0,1519.8 L2662.0,1565.7 L2660.0,1559.0 L2658.0,1535.0 L2656.0,1505.4 L2654.0,1472.6 L2652.0,1459.3 L2650.0,1458.1 L2648.0,1464.0 L2646.0,1466.5 L2644.0,1477.6 L2642.0,1509.0 L2640.0,1538.6 L2638.0,1567.2 L2636.0,1611.8 L2634.0,1656.7 L2632.0,1694.4 L2630.0,1731.1 L2628.0,1781.1 L2626.0,1844.1 L2624.0,1915.7 L2622.0,1999.3 L2620.0,2099.3 L2618.0,2173.9 L2616.0,2153.9 L2614.0,2125.5 L2612.0,2094.3 L2610.0,2070.9 L2608.0,2050.3 L2606.0,2035.7 L2604.0,2030.0 L2602.0,2042.8 L2600.0,2063.3 L2598.0,2090.0 L2596.0,2131.8 L2594.0,2181.8 L2592.0,2231.8 L2590.0,2276.4 L2588.0,2314.5 L2586.0,2342.7 L2584.0,2350.4 L2582.0,2325.5 L2580.0,2317.3 L2578.0,2320.7 L2576.0,2293.0 L2574.0,2250.0 L2572.0,2200.0 L2570.0,2150.0 L2568.0,2104.6 L2566.0,2066.5 L2564.0,2073.2 L2562.0,2096.4 L2560.0,2134.5 L2558.0,2191.1 L2556.0,2204.7 L2554.0,2196.6 L2552.0,2171.6 L2550.0,2123.0 L2548.0,2079.6 L2546.0,2042.1 L2544.0,2001.2 L2542.0,1958.3 L2540.0,1929.4 L2538.0,1899.3 L2536.0,1866.0 L2534.0,1824.0 L2532.0,1781.2 L2530.0,1738.3 L2528.0,1706.2 L2526.0,1681.3 L2524.0,1654.5 L2522.0,1621.2 L2520.0,1587.8 L2518.0,1557.1 L2516.0,1530.5 L2514.0,1507.0 L2512.0,1481.8 L2510.0,1458.3 L2508.0,1455.0 L2506.0,1435.0 L2504.0,1418.2 L2502.0,1424.9 L2500.0,1450.3 L2498.0,1478.3 L2496.0,1504.2 L2494.0,1528.2 L2492.0,1567.3 L2490.0,1693.1 L2488.0,1606.7 L2486.0,1592.8 L2484.0,1600.8 L2482.0,1603.7 L2480.0,1599.7 L2478.0,1595.6 L2476.0,1589.6 L2474.0,1583.6 L2472.0,1584.5 L2470.0,1588.5 L2468.0,1594.5 L2466.0,1604.5 L2464.0,1614.5 L2462.0,1658.7 L2460.0,1682.2 L2458.0,1701.8 L2456.0,1738.4 L2454.0,1744.6 L2452.0,1740.6 L2450.0,1743.1 L2448.0,1741.7 L2446.0,1734.2 L2444.0,1734.2 L2442.0,1741.7 L2440.0,1746.6 L2438.0,1738.7 L2436.0,1682.6 L2434.0,1641.0 L2432.0,1633.5 L2430.0,1629.9 L2428.0,1631.9 L2426.0,1634.1 L2424.0,1642.1 L2422.0,1650.1 L2420.0,1696.5 L2418.0,1735.2 L2416.0,1698.5 L2414.0,1698.2 L2412.0,1710.4 L2410.0,1730.4 L2408.0,1743.9 L2406.0,1755.9 L2404.0,1773.4 L2402.0,1784.5 L2400.0,1772.0 L2398.0,1764.4 L2396.0,1767.3 L2394.0,1772.1 L2392.0,1777.8 L2390.0,1785.3 L2388.0,1793.1 L2386.0,1803.1 L2384.0,1822.5 L2382.0,1838.5 L2380.0,1836.0 L2378.0,1835.4 L2376.0,1837.9 L2374.0,1847.8 L2372.0,1864.9 L2370.0,1860.3 L2368.0,1850.2 L2366.0,1833.6 L2364.0,1818.7 L2362.0,1807.1 L2360.0,1815.6 L2358.0,1834.1 L2356.0,1862.6 L2354.0,1855.9 L2352.0,1847.2 L2350.0,1838.2 L2348.0,1833.2 L2346.0,1821.4 L2344.0,1794.8 L2342.0,1777.0 L2340.0,1762.3 L2338.0,1749.8 L2336.0,1726.3 L2334.0,1694.9 L2332.0,1695.2 L2330.0,1700.7 L2328.0,1713.2 L2326.0,1719.1 L2324.0,1714.1 L2322.0,1715.7 L2320.0,1724.2 L2318.0,1699.1 L2316.0,1675.2 L2314.0,1655.8 L2312.0,1636.4 L2310.0,1616.9 L2308.0,1597.5 L2306.0,1582.2 L2304.0,1567.1 L2302.0,1550.0 L2300.0,1534.9 L2298.0,1523.5 L2296.0,1513.1 L2294.0,1501.8 L2292.0,1487.5 L2290.0,1480.6 L2288.0,1477.7 L2286.0,1482.6 L2284.0,1487.9 L2282.0,1495.4 L2280.0,1505.2 L2278.0,1524.1 L2276.0,1543.0 L2274.0,1554.1 L2272.0,1554.1 L2270.0,1570.1 L2268.0,1595.1 L2266.0,1627.8 L2264.0,1665.3 L2262.0,1705.9 L2260.0,1748.8 L2258.0,1791.7 L2256.0,1834.8 L2254.0,1884.8 L2252.0,1933.1 L2250.0,1979.7 L2248.0,1996.4 L2246.0,2006.3 L2244.0,2008.8 L2242.0,2007.5 L2240.0,2001.8 L2238.0,1992.2 L2236.0,1980.8 L2234.0,1961.6 L2232.0,1939.1 L2230.0,1912.4 L2228.0,1888.6 L2226.0,1867.3 L2224.0,1849.8 L2222.0,1829.4 L2220.0,1802.7 L2218.0,1776.0 L2216.0,1752.6 L2214.0,1737.6 L2212.0,1730.6 L2210.0,1747.8 L2208.0,1764.9 L2206.0,1782.1 L2204.0,1794.2 L2202.0,1805.4 L2200.0,1822.1 L2198.0,1816.7 L2196.0,1799.2 L2194.0,1776.7 L2192.0,1756.1 L2190.0,1750.4 L2188.0,1758.3 L2186.0,1792.6 L2184.0,1830.1 L2182.0,1868.4 L2180.0,1871.7 L2178.0,1841.7 L2176.0,1782.0 L2174.0,1769.5 L2172.0,1757.0 L2170.0,1745.6 L2168.0,1735.9 L2166.0,1733.0 L2164.0,1715.6 L2162.0,1678.9 L2160.0,1649.4 L2158.0,1620.6 L2156.0,1591.8 L2154.0,1565.7 L2152.0,1545.7 L2150.0,1528.2 L2148.0,1512.3 L2146.0,1500.9 L2144.0,1490.3 L2142.0,1480.5 L2140.0,1471.9 L2138.0,1463.3 L2136.0,1454.8 L2134.0,1433.8 L2132.0,1413.3 L2130.0,1396.6 L2128.0,1383.3 L2126.0,1374.8 L2124.0,1369.8 L2122.0,1362.3 L2120.0,1354.2 L2118.0,1360.0 L2116.0,1361.6 L2114.0,1356.6 L2112.0,1358.9 L2110.0,1368.9 L2108.0,1381.5 L2106.0,1395.8 L2104.0,1380.5 L2102.0,1366.1 L2100.0,1358.6 L2098.0,1355.4 L2096.0,1358.7 L2094.0,1368.5 L2092.0,1371.1 L2090.0,1366.9 L2088.0,1356.9 L2086.0,1356.4 L2084.0,1356.8 L2082.0,1350.1 L2080.0,1352.3 L2078.0,1351.0 L2076.0,1345.4 L2074.0,1365.4 L2072.0,1393.7 L2070.0,1425.0 L2068.0,1448.3 L2066.0,1469.1 L2064.0,1479.9 L2062.0,1474.9 L2060.0,1471.1 L2058.0,1468.6 L2056.0,1462.6 L2054.0,1454.0 L2052.0,1442.8 L2050.0,1432.7 L2048.0,1426.0 L2046.0,1436.4 L2044.0,1450.4 L2042.0,1465.0 L2040.0,1450.0 L2038.0,1426.1 L2036.0,1397.8 L2034.0,1377.8 L2032.0,1385.6 L2030.0,1403.4 L2028.0,1423.4 L2026.0,1391.3 L2024.0,1356.3 L2022.0,1323.0 L2020.0,1289.6 L2018.0,1256.3 L2016.0,1224.6 L2014.0,1197.9 L2012.0,1176.8 L2010.0,1156.8 L2008.0,1144.7 L2006.0,1132.5 L2004.0,1118.2 L2002.0,1117.0 L2000.0,1123.5 L1998.0,1129.2 L1996.0,1128.6 L1994.0,1122.9 L1992.0,1113.4 L1990.0,1105.0 L1988.0,1098.3 L1986.0,1091.6 L1984.0,1078.6 L1982.0,1061.9 L1980.0,1045.3 L1978.0,1015.3 L1976.0,984.5 L1974.0,957.8 L1972.0,937.6 L1970.0,928.1 L1968.0,927.4 L1966.0,926.8 L1964.0,926.2 L1962.0,923.0 L1960.0,913.0 L1958.0,900.1 L1956.0,883.8 L1954.0,864.0 L1952.0,850.6 L1950.0,843.4 L1948.0,842.6 L1946.0,852.6 L1944.0,865.1 L1942.0,879.6 L1940.0,896.3 L1938.0,903.6 L1936.0,905.2 L1934.0,901.2 L1932.0,891.2 L1930.0,872.2 L1928.0,846.3 L1926.0,813.0 L1924.0,776.8 L1922.0,744.4 L1920.0,717.7 L1918.0,714.4 L1916.0,722.7 L1914.0,738.8 L1912.0,752.1 L1910.0,772.9 L1908.0,797.3 L1906.0,824.0 L1904.0,832.5 L1902.0,833.5 L1900.0,827.8 L1898.0,812.8 L1896.0,798.9 L1894.0,782.5 L1892.0,755.9 L1890.0,726.5 L1888.0,699.1 L1886.0,675.8 L1884.0,680.0 L1882.0,686.8 L1880.0,693.6 L1878.0,690.3 L1876.0,686.9 L1874.0,689.1 L1872.0,704.1 L1870.0,702.1 L1868.0,695.1 L1866.0,678.4 L1864.0,656.4 L1862.0,642.7 L1860.0,644.3 L1858.0,648.5 L1856.0,658.7 L1854.0,682.1 L1852.0,708.4 L1850.0,714.5 L1848.0,698.9 L1846.0,700.5 L1844.0,708.6 L1842.0,723.5 L1840.0,750.1 L1838.0,784.8 L1836.0,821.4 L1834.0,858.1 L1832.0,851.6 L1830.0,851.6 L1828.0,858.8 L1826.0,867.2 L1824.0,872.9 L1822.0,869.2 L1820.0,866.3 L1818.0,865.0 L1816.0,861.8 L1814.0,856.1 L1812.0,839.1 L1810.0,822.2 L1808.0,825.5 L1806.0,817.3 L1804.0,805.6 L1802.0,812.8 L1800.0,821.7 L1798.0,833.1 L1796.0,847.2 L1794.0,862.2 L1792.0,879.0 L1790.0,896.3 L1788.0,913.8 L1786.0,921.4 L1784.0,907.1 L1782.0,889.1 L1780.0,869.1 L1778.0,889.1 L1776.0,901.6 L1774.0,908.8 L1772.0,915.9 L1770.0,923.1 L1768.0,930.3 L1766.0,937.4 L1764.0,944.6 L1762.0,951.8 L1760.0,963.7 L1758.0,986.6 L1756.0,1017.9 L1754.0,1053.9 L1752.0,1087.7 L1750.0,1116.5 L1748.0,1152.5 L1746.0,1155.4 L1744.0,1155.2 L1742.0,1148.6 L1740.0,1156.1 L1738.0,1171.5 L1736.0,1181.5 L1734.0,1194.8 L1732.0,1210.4 L1730.0,1236.1 L1728.0,1262.3 L1726.0,1288.9 L1724.0,1315.6 L1722.0,1338.1 L1720.0,1363.5 L1718.0,1410.2 L1716.0,1438.6 L1714.0,1448.8 L1712.0,1436.3 L1710.0,1435.6 L1708.0,1448.1 L1706.0,1468.9 L1704.0,1496.4 L1702.0,1528.0 L1700.0,1534.8 L1698.0,1533.0 L1696.0,1531.2 L1694.0,1528.2 L1692.0,1524.9 L1690.0,1524.3 L1688.0,1527.6 L1686.0,1530.6 L1684.0,1523.9 L1682.0,1517.3 L1680.0,1506.2 L1678.0,1492.8 L1676.0,1475.6 L1674.0,1449.0 L1672.0,1422.3 L1670.0,1407.9 L1668.0,1394.5 L1666.0,1375.7 L1664.0,1352.4 L1662.0,1330.2 L1660.0,1313.6 L1658.0,1296.9 L1656.0,1285.6 L1654.0,1275.6 L1652.0,1271.4 L1650.0,1274.7 L1648.0,1278.2 L1646.0,1284.9 L1644.0,1291.6 L1642.0,1309.7 L1640.0,1333.1 L1638.0,1358.5 L1636.0,1388.5 L1634.0,1418.5 L1632.0,1439.1 L1630.0,1459.1 L1628.0,1484.8 L1626.0,1514.8 L1624.0,1545.5 L1622.0,1578.8 L1620.0,1612.1 L1618.0,1648.2 L1616.0,1684.9 L1614.0,1723.1 L1612.0,1763.1 L1610.0,1763.6 L1608.0,1757.1 L1606.0,1747.1 L1604.0,1737.1 L1602.0,1751.8 L1600.0,1768.4 L1598.0,1768.5 L1596.0,1755.2 L1594.0,1746.1 L1592.0,1756.1 L1590.0,1766.1 L1588.0,1765.3 L1586.0,1761.9 L1584.0,1755.7 L1582.0,1745.7 L1580.0,1737.5 L1578.0,1754.1 L1576.0,1770.8 L1574.0,1773.6 L1572.0,1770.2 L1570.0,1773.4 L1568.0,1790.0 L1566.0,1806.7 L1564.0,1791.6 L1562.0,1775.0 L1560.0,1777.7 L1558.0,1794.3 L1556.0,1811.0 L1554.0,1827.7 L1552.0,1844.3 L1550.0,1833.1 L1548.0,1816.4 L1546.0,1809.1 L1544.0,1812.4 L1542.0,1814.8 L1540.0,1808.1 L1538.0,1801.4 L1536.0,1802.0 L1534.0,1805.3 L1532.0,1808.7 L1530.0,1812.0 L1528.0,1815.3 L1526.0,1821.9 L1524.0,1828.6 L1522.0,1808.9 L1520.0,1772.3 L1518.0,1738.0 L1516.0,1711.3 L1514.0,1684.6 L1512.0,1666.6 L1510.0,1649.9 L1508.0,1638.2 L1506.0,1631.5 L1504.0,1622.8 L1502.0,1598.8 L1500.0,1574.8 L1498.0,1550.8 L1496.0,1529.7 L1494.0,1523.0 L1492.0,1516.4 L1490.0,1509.7 L1488.0,1503.0 L1486.0,1500.6 L1484.0,1503.9 L1482.0,1508.0 L1480.0,1524.7 L1478.0,1541.3 L1476.0,1567.1 L1474.0,1597.1 L1472.0,1625.0 L1470.0,1648.4 L1468.0,1671.7 L1466.0,1685.6 L1464.0,1699.0 L1462.0,1708.5 L1460.0,1715.2 L1458.0,1721.8 L1456.0,1728.5 L1454.0,1735.2 L1452.0,1750.1 L1450.0,1766.8 L1448.0,1780.4 L1446.0,1790.4 L1444.0,1801.5 L1442.0,1824.8 L1440.0,1848.2 L1438.0,1872.7 L1436.0,1897.7 L1434.0,1909.2 L1432.0,1894.2 L1430.0,1879.2 L1428.0,1894.1 L1426.0,1910.1 L1424.0,1930.1 L1422.0,1950.1 L1420.0,1970.1 L1418.0,1976.2 L1416.0,1964.2 L1414.0,1939.5 L1412.0,1899.5 L1410.0,1859.5 L1408.0,1819.5 L1406.0,1787.5 L1404.0,1763.5 L1402.0,1736.4 L1400.0,1706.4 L1398.0,1679.5 L1396.0,1669.5 L1394.0,1659.5 L1392.0,1646.8 L1390.0,1633.5 L1388.0,1625.7 L1386.0,1625.7 L1384.0,1626.4 L1382.0,1643.0 L1380.0,1659.7 L1378.0,1658.5 L1376.0,1648.5 L1374.0,1643.9 L1372.0,1651.9 L1370.0,1661.1 L1368.0,1673.1 L1366.0,1675.3 L1364.0,1658.6 L1362.0,1641.9 L1360.0,1625.3 L1358.0,1608.6 L1356.0,1592.3 L1354.0,1576.3 L1352.0,1562.8 L1350.0,1550.8 L1348.0,1551.8 L1346.0,1559.8 L1344.0,1570.5 L1342.0,1582.5 L1340.0,1594.5 L1338.0,1606.5 L1336.0,1615.6 L1334.0,1623.6 L1332.0,1645.5 L1330.0,1672.2 L1328.0,1700.1 L1326.0,1730.1 L1324.0,1760.1 L1322.0,1796.7 L1320.0,1833.4 L1318.0,1842.8 L1316.0,1836.2 L1314.0,1833.8 L1312.0,1843.8 L1310.0,1853.8 L1308.0,1865.6 L1306.0,1877.6 L1304.0,1889.6 L1302.0,1901.6 L1300.0,1921.0 L1298.0,1941.0 L1296.0,1966.6 L1294.0,1996.6 L1292.0,2021.6 L1290.0,2024.9 L1288.0,2028.2 L1286.0,2046.8 L1284.0,2068.8 L1282.0,2063.9 L1280.0,2053.9 L1278.0,2038.2 L1276.0,2021.5 L1274.0,2006.5 L1272.0,1993.1 L1270.0,1978.6 L1268.0,1955.2 L1266.0,1931.9 L1264.0,1914.8 L1262.0,1899.8 L1260.0,1888.6 L1258.0,1883.6 L1256.0,1878.4 L1254.0,1848.4 L1252.0,1818.4 L1250.0,1792.7 L1248.0,1769.3 L1246.0,1745.1 L1244.0,1718.5 L1242.0,1691.8 L1240.0,1668.1 L1238.0,1644.8 L1236.0,1631.8 L1234.0,1628.5 L1232.0,1621.2 L1230.0,1591.2 L1228.0,1561.2 L1226.0,1546.8 L1224.0,1536.8 L1222.0,1532.2 L1220.0,1535.5 L1218.0,1538.8 L1216.0,1540.4 L1214.0,1542.1 L1212.0,1541.6 L1210.0,1539.9 L1208.0,1539.7 L1206.0,1543.0 L1204.0,1546.4 L1202.0,1558.9 L1200.0,1572.2 L1198.0,1585.5 L1196.0,1598.9 L1194.0,1602.8 L1192.0,1562.8 L1190.0,1522.8 L1188.0,1488.2 L1186.0,1454.9 L1184.0,1422.1 L1182.0,1390.1 L1180.0,1365.4 L1178.0,1349.4 L1176.0,1348.8 L1174.0,1364.8 L1172.0,1384.8 L1170.0,1408.8 L1168.0,1428.6 L1166.0,1444.6 L1164.0,1456.5 L1162.0,1465.0 L1160.0,1473.6 L1158.0,1481.4 L1156.0,1488.9 L1154.0,1496.4 L1152.0,1511.6 L1150.0,1531.6 L1148.0,1551.6 L1146.0,1568.2 L1144.0,1584.2 L1142.0,1597.9 L1140.0,1611.2 L1138.0,1620.7 L1136.0,1626.4 L1134.0,1632.1 L1132.0,1639.9 L1130.0,1648.5 L1128.0,1657.1 L1126.0,1660.5 L1124.0,1663.9 L1122.0,1686.9 L1120.0,1722.9 L1118.0,1732.8 L1116.0,1727.1 L1114.0,1721.4 L1112.0,1712.0 L1110.0,1702.0 L1108.0,1692.0 L1106.0,1684.9 L1104.0,1679.2 L1102.0,1673.5 L1100.0,1645.3 L1098.0,1645.9 L1096.0,1648.8 L1094.0,1657.1 L1092.0,1669.6 L1090.0,1682.1 L1088.0,1673.9 L1086.0,1662.5 L1084.0,1659.6 L1082.0,1665.3 L1080.0,1668.5 L1078.0,1655.1 L1076.0,1641.1 L1074.0,1621.1 L1072.0,1601.1 L1070.0,1608.3 L1068.0,1625.0 L1066.0,1636.9 L1064.0,1646.9 L1062.0,1643.1 L1060.0,1633.1 L1058.0,1622.2 L1056.0,1610.7 L1054.0,1605.7 L1052.0,1615.7 L1050.0,1625.7 L1048.0,1635.7 L1046.0,1647.3 L1044.0,1664.0 L1042.0,1680.7 L1040.0,1697.9 L1038.0,1715.0 L1036.0,1732.2 L1034.0,1749.3 L1032.0,1771.1 L1030.0,1797.7 L1028.0,1799.9 L1026.0,1773.2 L1024.0,1753.8 L1022.0,1743.8 L1020.0,1739.2 L1018.0,1742.5 L1016.0,1732.0 L1014.0,1698.6 L1012.0,1671.2 L1010.0,1654.5 L1008.0,1636.8 L1006.0,1616.8 L1004.0,1593.1 L1002.0,1567.4 L1000.0,1547.6 L998.0,1543.6 L996.0,1538.6 L994.0,1532.9 L992.0,1533.4 L990.0,1556.8 L988.0,1578.8 L986.0,1595.5 L984.0,1612.2 L982.0,1628.8 L980.0,1647.0 L978.0,1675.0 L976.0,1688.0 L974.0,1682.3 L972.0,1675.4 L970.0,1655.4 L968.0,1636.0 L966.0,1627.5 L964.0,1618.9 L962.0,1610.3 L960.0,1601.7 L958.0,1603.5 L956.0,1626.8 L954.0,1652.2 L952.0,1682.2 L950.0,1711.3 L948.0,1737.9 L946.0,1756.3 L944.0,1748.8 L942.0,1741.3 L940.0,1730.6 L938.0,1717.3 L936.0,1704.0 L934.0,1690.6 L932.0,1670.8 L930.0,1644.1 L928.0,1619.0 L926.0,1595.7 L924.0,1575.2 L922.0,1558.6 L920.0,1547.5 L918.0,1544.6 L916.0,1542.2 L914.0,1549.3 L912.0,1556.5 L910.0,1566.7 L908.0,1578.3 L906.0,1589.8 L904.0,1601.3 L902.0,1612.7 L900.0,1624.1 L898.0,1635.6 L896.0,1638.8 L894.0,1641.3 L892.0,1651.5 L890.0,1689.5 L888.0,1700.7 L886.0,1687.8 L884.0,1675.9 L882.0,1669.3 L880.0,1662.4 L878.0,1653.8 L876.0,1645.2 L874.0,1640.7 L872.0,1637.3 L870.0,1639.0 L868.0,1642.3 L866.0,1662.3 L864.0,1689.0 L862.0,1717.0 L860.0,1745.6 L858.0,1769.2 L856.0,1782.5 L854.0,1799.8 L852.0,1826.5 L850.0,1827.9 L848.0,1771.0 L846.0,1742.5 L844.0,1713.9 L842.0,1681.1 L840.0,1647.7 L838.0,1618.5 L836.0,1590.0 L834.0,1577.3 L832.0,1580.7 L830.0,1588.7 L828.0,1602.1 L826.0,1609.5 L824.0,1609.5 L822.0,1598.7 L820.0,1573.0 L818.0,1548.0 L816.0,1536.6 L814.0,1525.2 L812.0,1514.7 L810.0,1504.7 L808.0,1491.9 L806.0,1477.6 L804.0,1463.3 L802.0,1449.0 L800.0,1434.7 L798.0,1424.5 L796.0,1414.5 L794.0,1410.9 L792.0,1408.1 L790.0,1407.5 L788.0,1409.0 L786.0,1412.4 L784.0,1425.3 L782.0,1438.1 L780.0,1459.5 L778.0,1482.8 L776.0,1491.0 L774.0,1495.1 L772.0,1500.8 L770.0,1506.6 L768.0,1519.1 L766.0,1534.1 L764.0,1548.9 L762.0,1558.9 L760.0,1568.9 L758.0,1581.2 L756.0,1598.4 L754.0,1615.5 L752.0,1627.2 L750.0,1638.6 L748.0,1682.9 L746.0,1749.5 L744.0,1799.9 L742.0,1837.9 L740.0,1875.9 L738.0,1903.4 L736.0,1885.6 L734.0,1867.8 L732.0,1851.2 L730.0,1841.2 L728.0,1833.8 L726.0,1845.3 L724.0,1856.7 L722.0,1864.5 L720.0,1871.2 L718.0,1853.5 L716.0,1826.8 L714.0,1818.9 L712.0,1818.9 L710.0,1823.4 L708.0,1830.1 L706.0,1841.1 L704.0,1854.4 L702.0,1865.7 L700.0,1875.7 L698.0,1859.0 L696.0,1840.5 L694.0,1807.8 L692.0,1764.5 L690.0,1750.8 L688.0,1762.2 L686.0,1770.9 L684.0,1766.9 L682.0,1765.6 L680.0,1767.0 L678.0,1762.2 L676.0,1712.2 L674.0,1673.4 L672.0,1649.4 L670.0,1652.2 L668.0,1664.2 L666.0,1677.6 L664.0,1689.7 L662.0,1659.7 L660.0,1629.7 L658.0,1603.1 L656.0,1576.4 L654.0,1592.4 L652.0,1609.5 L650.0,1614.5 L648.0,1611.6 L646.0,1605.4 L644.0,1588.7 L642.0,1570.1 L640.0,1544.1 L638.0,1532.8 L636.0,1534.8 L634.0,1560.3 L632.0,1585.6 L630.0,1584.2 L628.0,1582.7 L626.0,1590.3 L624.0,1600.3 L622.0,1621.6 L620.0,1646.6 L618.0,1637.6 L616.0,1615.9 L614.0,1606.6 L612.0,1602.5 L610.0,1591.1 L608.0,1579.7 L606.0,1577.8 L604.0,1581.2 L602.0,1570.0 L600.0,1550.0 L598.0,1532.0 L596.0,1515.3 L594.0,1504.9 L592.0,1499.2 L590.0,1497.4 L588.0,1511.4 L586.0,1529.5 L584.0,1551.5 L582.0,1535.6 L580.0,1513.5 L578.0,1503.5 L576.0,1494.0 L574.0,1488.3 L572.0,1482.5 L570.0,1478.1 L568.0,1473.0 L566.0,1449.0 L564.0,1428.6 L562.0,1414.3 L560.0,1400.0 L558.0,1406.7 L556.0,1413.3 L554.0,1402.2 L552.0,1390.5 L550.0,1382.0 L548.0,1373.6 L546.0,1383.7 L544.0,1395.4 L542.0,1386.2 L540.0,1374.5 L538.0,1390.3 L536.0,1410.3 L534.0,1430.3 L532.0,1450.3 L530.0,1467.6 L528.0,1481.9 L526.0,1498.6 L524.0,1535.2 L522.0,1570.3 L520.0,1587.5 L518.0,1604.6 L516.0,1609.5 L514.0,1609.5 L512.0,1603.6 L510.0,1586.9 L508.0,1573.4 L506.0,1566.2 L504.0,1559.1 L502.0,1565.6 L500.0,1572.8 L498.0,1583.1 L496.0,1595.6 L494.0,1608.1 L492.0,1609.5 L490.0,1610.0 L488.0,1612.9 L486.0,1615.8 L484.0,1618.3 L482.0,1620.8 L480.0,1623.8 L478.0,1629.6 L476.0,1635.4 L474.0,1641.3 L472.0,1647.1 L470.0,1931.3 L468.0,2494.0 Z" fill="#2a2eec" fill-opacity="0.2" stroke="#2a2eec" stroke-opacity="0.2" stroke-width="5.56" stroke-linejoin="round"/><path d="M468.0,2216.9 L470.0,1680.5 L472.0,1406.3 L474.0,1394.3 L476.0,1382.3 L478.0,1370.4 L480.0,1358.4 L482.0,1351.4 L484.0,1345.2 L486.0,1338.9 L488.0,1332.5 L490.0,1326.2 L492.0,1324.1 L494.0,1322.7 L496.0,1322.6 L498.0,1328.8 L500.0,1329.1 L502.0,1321.0 L504.0,1312.8 L506.0,1301.5 L508.0,1302.1 L510.0,1326.9 L512.0,1340.0 L514.0,1343.2 L516.0,1335.3 L518.0,1324.9 L520.0,1308.7 L522.0,1292.6 L524.0,1253.1 L526.0,1211.7 L528.0,1181.8 L530.0,1171.8 L532.0,1157.1 L534.0,1138.0 L536.0,1120.9 L538.0,1113.8 L540.0,1109.3 L542.0,1121.4 L544.0,1132.7 L546.0,1127.7 L548.0,1120.5 L550.0,1120.5 L552.0,1124.2 L554.0,1134.8 L556.0,1144.6 L558.0,1148.4 L560.0,1152.2 L562.0,1164.5 L564.0,1176.9 L566.0,1194.0 L568.0,1213.9 L570.0,1216.2 L572.0,1216.3 L574.0,1212.7 L576.0,1226.8 L578.0,1255.7 L580.0,1268.0 L582.0,1278.3 L584.0,1271.1 L586.0,1252.6 L588.0,1236.1 L590.0,1223.3 L592.0,1230.7 L594.0,1240.8 L596.0,1254.4 L598.0,1269.9 L600.0,1287.7 L602.0,1306.7 L604.0,1320.7 L606.0,1326.4 L608.0,1330.7 L610.0,1332.5 L612.0,1334.2 L614.0,1344.9 L616.0,1357.2 L618.0,1373.2 L620.0,1377.5 L622.0,1350.1 L624.0,1323.8 L626.0,1316.3 L628.0,1310.7 L630.0,1306.3 L632.0,1301.9 L634.0,1293.1 L636.0,1283.1 L638.0,1271.6 L640.0,1277.9 L642.0,1303.9 L644.0,1324.3 L646.0,1343.3 L648.0,1347.1 L650.0,1346.1 L652.0,1340.2 L654.0,1327.0 L656.0,1314.5 L658.0,1328.7 L660.0,1342.9 L662.0,1369.5 L664.0,1396.1 L666.0,1387.7 L668.0,1378.3 L670.0,1368.5 L672.0,1359.5 L674.0,1378.4 L676.0,1416.1 L678.0,1455.6 L680.0,1474.1 L682.0,1490.6 L684.0,1499.8 L686.0,1501.9 L688.0,1500.0 L690.0,1485.4 L692.0,1494.5 L694.0,1534.4 L696.0,1564.7 L698.0,1582.3 L700.0,1599.4 L702.0,1609.8 L704.0,1613.9 L706.0,1607.6 L708.0,1602.1 L710.0,1593.2 L712.0,1584.9 L714.0,1572.5 L716.0,1559.5 L718.0,1561.1 L720.0,1581.3 L722.0,1593.7 L724.0,1603.1 L726.0,1611.1 L728.0,1611.0 L730.0,1610.4 L732.0,1611.1 L734.0,1615.3 L736.0,1621.5 L738.0,1636.2 L740.0,1634.7 L742.0,1617.9 L744.0,1599.4 L746.0,1561.5 L748.0,1505.8 L750.0,1440.0 L752.0,1417.4 L754.0,1406.9 L756.0,1394.6 L758.0,1384.0 L760.0,1378.1 L762.0,1373.0 L764.0,1353.8 L766.0,1332.9 L768.0,1311.6 L770.0,1290.1 L772.0,1270.8 L774.0,1268.6 L776.0,1268.4 L778.0,1263.5 L780.0,1248.3 L782.0,1214.3 L784.0,1183.0 L786.0,1168.0 L788.0,1159.1 L790.0,1150.8 L792.0,1143.1 L794.0,1140.9 L796.0,1144.9 L798.0,1151.3 L800.0,1160.3 L802.0,1170.9 L804.0,1187.9 L806.0,1204.9 L808.0,1220.3 L810.0,1238.1 L812.0,1260.3 L814.0,1272.5 L816.0,1279.6 L818.0,1286.7 L820.0,1311.4 L822.0,1337.1 L824.0,1349.2 L826.0,1351.4 L828.0,1347.8 L830.0,1339.5 L832.0,1328.1 L834.0,1321.9 L836.0,1341.5 L838.0,1366.2 L840.0,1381.6 L842.0,1396.2 L844.0,1415.0 L846.0,1437.7 L848.0,1470.7 L850.0,1514.2 L852.0,1511.8 L854.0,1501.3 L856.0,1488.8 L858.0,1475.5 L860.0,1448.9 L862.0,1415.9 L864.0,1387.6 L866.0,1362.1 L868.0,1352.0 L870.0,1355.5 L872.0,1354.8 L874.0,1358.2 L876.0,1380.1 L878.0,1400.5 L880.0,1411.0 L882.0,1421.0 L884.0,1417.6 L886.0,1413.7 L888.0,1410.5 L890.0,1400.1 L892.0,1380.5 L894.0,1369.1 L896.0,1362.0 L898.0,1355.1 L900.0,1354.6 L902.0,1367.2 L904.0,1371.0 L906.0,1371.2 L908.0,1367.6 L910.0,1357.1 L912.0,1344.8 L914.0,1328.9 L916.0,1313.1 L918.0,1309.0 L920.0,1305.3 L922.0,1294.6 L924.0,1289.8 L926.0,1300.9 L928.0,1318.0 L930.0,1354.4 L932.0,1388.5 L934.0,1408.4 L936.0,1426.3 L938.0,1448.9 L940.0,1472.6 L942.0,1487.6 L944.0,1492.2 L946.0,1490.0 L948.0,1470.6 L950.0,1442.9 L952.0,1406.4 L954.0,1372.2 L956.0,1343.7 L958.0,1332.7 L960.0,1336.2 L962.0,1348.0 L964.0,1359.8 L966.0,1374.9 L968.0,1390.1 L970.0,1405.6 L972.0,1421.1 L974.0,1420.4 L976.0,1418.4 L978.0,1409.4 L980.0,1394.7 L982.0,1379.0 L984.0,1360.1 L986.0,1340.9 L988.0,1320.0 L990.0,1297.4 L992.0,1271.6 L994.0,1255.8 L996.0,1269.8 L998.0,1278.9 L1000.0,1281.2 L1002.0,1289.9 L1004.0,1325.4 L1006.0,1359.8 L1008.0,1382.5 L1010.0,1404.5 L1012.0,1426.2 L1014.0,1446.9 L1016.0,1467.1 L1018.0,1473.5 L1020.0,1475.7 L1022.0,1482.0 L1024.0,1490.1 L1026.0,1509.1 L1028.0,1526.8 L1030.0,1519.3 L1032.0,1502.5 L1034.0,1486.0 L1036.0,1472.5 L1038.0,1459.2 L1040.0,1445.8 L1042.0,1432.1 L1044.0,1417.0 L1046.0,1401.5 L1048.0,1389.4 L1050.0,1378.4 L1052.0,1365.7 L1054.0,1350.3 L1056.0,1354.0 L1058.0,1365.8 L1060.0,1374.7 L1062.0,1378.7 L1064.0,1370.8 L1066.0,1357.9 L1068.0,1342.7 L1070.0,1331.0 L1072.0,1335.4 L1074.0,1350.3 L1076.0,1370.3 L1078.0,1388.4 L1080.0,1403.9 L1082.0,1412.2 L1084.0,1412.9 L1086.0,1416.3 L1088.0,1423.7 L1090.0,1431.1 L1092.0,1430.9 L1094.0,1423.0 L1096.0,1416.5 L1098.0,1409.5 L1100.0,1403.0 L1102.0,1413.3 L1104.0,1416.3 L1106.0,1419.8 L1108.0,1428.8 L1110.0,1438.8 L1112.0,1448.8 L1114.0,1446.9 L1116.0,1442.9 L1118.0,1438.9 L1120.0,1429.9 L1122.0,1412.5 L1124.0,1399.9 L1126.0,1394.3 L1128.0,1388.6 L1130.0,1381.0 L1132.0,1373.4 L1134.0,1366.3 L1136.0,1360.6 L1138.0,1354.9 L1140.0,1342.6 L1142.0,1323.6 L1144.0,1307.1 L1146.0,1308.8 L1148.0,1302.9 L1150.0,1289.7 L1152.0,1273.3 L1154.0,1242.6 L1156.0,1218.4 L1158.0,1211.1 L1160.0,1203.8 L1162.0,1195.4 L1164.0,1185.8 L1166.0,1175.2 L1168.0,1162.5 L1170.0,1146.5 L1172.0,1129.1 L1174.0,1112.5 L1176.0,1096.7 L1178.0,1086.2 L1180.0,1092.6 L1182.0,1106.2 L1184.0,1127.4 L1186.0,1158.2 L1188.0,1189.3 L1190.0,1225.3 L1192.0,1263.0 L1194.0,1290.2 L1196.0,1296.7 L1198.0,1300.2 L1200.0,1296.3 L1202.0,1291.0 L1204.0,1285.6 L1206.0,1278.9 L1208.0,1272.2 L1210.0,1273.8 L1212.0,1278.9 L1214.0,1281.3 L1216.0,1278.5 L1218.0,1275.7 L1220.0,1268.0 L1222.0,1260.1 L1224.0,1266.9 L1226.0,1283.7 L1228.0,1300.3 L1230.0,1320.8 L1232.0,1341.3 L1234.0,1354.5 L1236.0,1360.1 L1238.0,1365.6 L1240.0,1383.8 L1242.0,1406.3 L1244.0,1426.9 L1246.0,1446.3 L1248.0,1467.0 L1250.0,1488.0 L1252.0,1509.9 L1254.0,1533.1 L1256.0,1560.6 L1258.0,1581.2 L1260.0,1593.1 L1262.0,1604.8 L1264.0,1620.1 L1266.0,1636.4 L1268.0,1661.7 L1270.0,1688.2 L1272.0,1704.8 L1274.0,1719.9 L1276.0,1733.1 L1278.0,1746.6 L1280.0,1762.4 L1282.0,1776.4 L1284.0,1783.7 L1286.0,1782.1 L1288.0,1765.7 L1290.0,1753.8 L1292.0,1747.2 L1294.0,1733.6 L1296.0,1707.7 L1298.0,1683.4 L1300.0,1666.1 L1302.0,1649.0 L1304.0,1634.3 L1306.0,1620.1 L1308.0,1610.8 L1310.0,1600.9 L1312.0,1586.9 L1314.0,1574.0 L1316.0,1572.5 L1318.0,1572.4 L1320.0,1560.1 L1322.0,1537.0 L1324.0,1506.6 L1326.0,1467.1 L1328.0,1436.1 L1330.0,1417.7 L1332.0,1400.8 L1334.0,1387.0 L1336.0,1374.5 L1338.0,1358.0 L1340.0,1339.6 L1342.0,1311.9 L1344.0,1290.3 L1346.0,1274.6 L1348.0,1272.2 L1350.0,1282.8 L1352.0,1296.7 L1354.0,1310.6 L1356.0,1326.3 L1358.0,1342.8 L1360.0,1359.5 L1362.0,1376.1 L1364.0,1392.8 L1366.0,1402.2 L1368.0,1404.3 L1370.0,1396.9 L1372.0,1389.4 L1374.0,1383.4 L1376.0,1382.6 L1378.0,1383.1 L1380.0,1377.9 L1382.0,1366.9 L1384.0,1355.0 L1386.0,1348.0 L1388.0,1359.1 L1390.0,1377.9 L1392.0,1396.3 L1394.0,1413.9 L1396.0,1421.8 L1398.0,1427.7 L1400.0,1450.5 L1402.0,1476.5 L1404.0,1501.5 L1406.0,1525.5 L1408.0,1549.6 L1410.0,1576.0 L1412.0,1602.4 L1414.0,1628.8 L1416.0,1649.1 L1418.0,1665.2 L1420.0,1662.3 L1422.0,1654.6 L1424.0,1645.5 L1426.0,1636.3 L1428.0,1628.5 L1430.0,1620.9 L1432.0,1621.2 L1434.0,1621.5 L1436.0,1619.9 L1438.0,1617.3 L1440.0,1601.8 L1442.0,1580.7 L1444.0,1561.1 L1446.0,1548.5 L1448.0,1536.2 L1450.0,1524.0 L1452.0,1510.9 L1454.0,1497.7 L1456.0,1484.3 L1458.0,1470.8 L1460.0,1459.2 L1462.0,1448.0 L1464.0,1432.9 L1466.0,1412.8 L1468.0,1393.0 L1470.0,1377.7 L1472.0,1362.5 L1474.0,1339.6 L1476.0,1301.5 L1478.0,1271.2 L1480.0,1258.0 L1482.0,1244.7 L1484.0,1227.5 L1486.0,1210.2 L1488.0,1214.8 L1490.0,1221.5 L1492.0,1234.9 L1494.0,1252.9 L1496.0,1269.2 L1498.0,1284.1 L1500.0,1304.7 L1502.0,1339.6 L1504.0,1371.5 L1506.0,1390.6 L1508.0,1411.0 L1510.0,1437.9 L1512.0,1462.0 L1514.0,1477.3 L1516.0,1495.2 L1518.0,1512.8 L1520.0,1532.8 L1522.0,1545.9 L1524.0,1553.4 L1526.0,1551.0 L1528.0,1547.8 L1530.0,1545.8 L1532.0,1544.8 L1534.0,1543.7 L1536.0,1543.6 L1538.0,1544.5 L1540.0,1548.6 L1542.0,1553.4 L1544.0,1554.7 L1546.0,1555.0 L1548.0,1555.6 L1550.0,1556.4 L1552.0,1554.7 L1554.0,1540.3 L1556.0,1525.9 L1558.0,1516.9 L1560.0,1509.3 L1562.0,1507.6 L1564.0,1514.0 L1566.0,1519.6 L1568.0,1506.3 L1570.0,1493.1 L1572.0,1490.2 L1574.0,1492.4 L1576.0,1489.9 L1578.0,1476.7 L1580.0,1463.4 L1582.0,1471.8 L1584.0,1481.8 L1586.0,1483.6 L1588.0,1479.0 L1590.0,1474.3 L1592.0,1468.8 L1594.0,1463.3 L1596.0,1473.2 L1598.0,1486.6 L1600.0,1489.1 L1602.0,1478.1 L1604.0,1468.7 L1606.0,1479.8 L1608.0,1491.0 L1610.0,1494.2 L1612.0,1490.6 L1614.0,1461.4 L1616.0,1431.7 L1618.0,1395.5 L1620.0,1360.5 L1622.0,1331.7 L1624.0,1302.9 L1626.0,1273.2 L1628.0,1243.2 L1630.0,1217.4 L1632.0,1197.4 L1634.0,1177.2 L1636.0,1154.0 L1638.0,1130.8 L1640.0,1097.7 L1642.0,1059.9 L1644.0,1026.2 L1646.0,1016.3 L1648.0,1009.9 L1650.0,1008.8 L1652.0,1007.7 L1654.0,1008.4 L1656.0,1010.9 L1658.0,1015.3 L1660.0,1022.0 L1662.0,1032.5 L1664.0,1051.4 L1666.0,1070.7 L1668.0,1088.5 L1670.0,1107.1 L1672.0,1107.9 L1674.0,1112.0 L1676.0,1129.0 L1678.0,1144.8 L1680.0,1160.7 L1682.0,1185.0 L1684.0,1207.9 L1686.0,1229.7 L1688.0,1246.9 L1690.0,1257.0 L1692.0,1263.1 L1694.0,1265.2 L1696.0,1267.9 L1698.0,1270.2 L1700.0,1271.6 L1702.0,1269.4 L1704.0,1256.7 L1706.0,1240.7 L1708.0,1218.8 L1710.0,1196.0 L1712.0,1174.7 L1714.0,1176.5 L1716.0,1168.6 L1718.0,1153.7 L1720.0,1132.9 L1722.0,1116.4 L1724.0,1095.6 L1726.0,1073.5 L1728.0,1051.8 L1730.0,1031.8 L1732.0,1004.2 L1734.0,974.7 L1736.0,945.8 L1738.0,918.1 L1740.0,894.6 L1742.0,885.4 L1744.0,885.5 L1746.0,889.4 L1748.0,877.0 L1750.0,849.1 L1752.0,817.7 L1754.0,787.7 L1756.0,766.0 L1758.0,741.8 L1760.0,713.1 L1762.0,690.7 L1764.0,671.4 L1766.0,664.0 L1768.0,657.1 L1770.0,653.1 L1772.0,648.6 L1774.0,642.4 L1776.0,635.3 L1778.0,622.4 L1780.0,607.5 L1782.0,622.7 L1784.0,647.5 L1786.0,657.9 L1788.0,656.1 L1790.0,639.1 L1792.0,618.9 L1794.0,597.4 L1796.0,573.2 L1798.0,557.5 L1800.0,551.3 L1802.0,548.4 L1804.0,547.8 L1806.0,549.7 L1808.0,548.9 L1810.0,546.3 L1812.0,559.0 L1814.0,584.8 L1816.0,589.1 L1818.0,590.9 L1820.0,589.3 L1822.0,590.7 L1824.0,593.6 L1826.0,600.0 L1828.0,601.5 L1830.0,592.5 L1832.0,590.4 L1834.0,592.3 L1836.0,577.2 L1838.0,560.2 L1840.0,533.6 L1842.0,498.0 L1844.0,454.4 L1846.0,437.0 L1848.0,433.8 L1850.0,446.6 L1852.0,429.4 L1854.0,400.7 L1856.0,389.8 L1858.0,383.5 L1860.0,380.5 L1862.0,380.7 L1864.0,390.9 L1866.0,410.5 L1868.0,428.5 L1870.0,433.6 L1872.0,433.7 L1874.0,426.0 L1876.0,423.3 L1878.0,422.0 L1880.0,419.7 L1882.0,414.7 L1884.0,410.6 L1886.0,410.7 L1888.0,431.9 L1890.0,463.0 L1892.0,492.8 L1894.0,515.3 L1896.0,530.5 L1898.0,541.8 L1900.0,553.0 L1902.0,560.8 L1904.0,564.0 L1906.0,560.5 L1908.0,533.9 L1910.0,507.9 L1912.0,484.3 L1914.0,466.4 L1916.0,451.5 L1918.0,444.0 L1920.0,446.2 L1922.0,474.0 L1924.0,513.0 L1926.0,557.8 L1928.0,592.5 L1930.0,603.5 L1932.0,613.5 L1934.0,621.7 L1936.0,629.8 L1938.0,631.7 L1940.0,628.0 L1942.0,617.5 L1944.0,603.8 L1946.0,584.4 L1948.0,566.9 L1950.0,562.7 L1952.0,574.2 L1954.0,593.8 L1956.0,620.4 L1958.0,641.5 L1960.0,644.9 L1962.0,638.1 L1964.0,634.6 L1966.0,632.0 L1968.0,631.2 L1970.0,632.5 L1972.0,659.9 L1974.0,689.5 L1976.0,718.5 L1978.0,748.7 L1980.0,775.7 L1982.0,796.3 L1984.0,815.2 L1986.0,829.2 L1988.0,838.5 L1990.0,845.1 L1992.0,849.0 L1994.0,857.1 L1996.0,865.9 L1998.0,868.4 L2000.0,863.8 L2002.0,858.3 L2004.0,857.5 L2006.0,869.2 L2008.0,884.9 L2010.0,904.3 L2012.0,922.0 L2014.0,947.5 L2016.0,978.2 L2018.0,1009.3 L2020.0,1040.8 L2022.0,1072.3 L2024.0,1098.3 L2026.0,1118.1 L2028.0,1134.3 L2030.0,1131.7 L2032.0,1122.9 L2034.0,1120.8 L2036.0,1140.8 L2038.0,1162.9 L2040.0,1182.4 L2042.0,1189.2 L2044.0,1174.8 L2046.0,1166.9 L2048.0,1162.1 L2050.0,1166.0 L2052.0,1171.6 L2054.0,1179.8 L2056.0,1194.6 L2058.0,1207.3 L2060.0,1214.9 L2062.0,1223.9 L2064.0,1225.9 L2066.0,1208.1 L2068.0,1183.3 L2070.0,1151.0 L2072.0,1115.3 L2074.0,1083.5 L2076.0,1047.7 L2078.0,1027.5 L2080.0,1030.6 L2082.0,1032.7 L2084.0,1042.4 L2086.0,1050.4 L2088.0,1057.1 L2090.0,1065.3 L2092.0,1071.7 L2094.0,1075.8 L2096.0,1078.1 L2098.0,1086.8 L2100.0,1088.8 L2102.0,1091.5 L2104.0,1106.7 L2106.0,1129.7 L2108.0,1119.0 L2110.0,1105.5 L2112.0,1095.5 L2114.0,1098.5 L2116.0,1102.0 L2118.0,1099.6 L2120.0,1095.6 L2122.0,1096.5 L2124.0,1098.9 L2126.0,1106.3 L2128.0,1118.7 L2130.0,1140.7 L2132.0,1161.8 L2134.0,1181.9 L2136.0,1198.8 L2138.0,1210.2 L2140.0,1217.5 L2142.0,1222.7 L2144.0,1229.0 L2146.0,1243.3 L2148.0,1266.9 L2150.0,1288.1 L2152.0,1306.2 L2154.0,1325.0 L2156.0,1345.8 L2158.0,1367.5 L2160.0,1389.2 L2162.0,1411.6 L2164.0,1442.6 L2166.0,1457.7 L2168.0,1460.5 L2170.0,1477.9 L2172.0,1498.8 L2174.0,1507.9 L2176.0,1517.0 L2178.0,1576.6 L2180.0,1607.8 L2182.0,1606.7 L2184.0,1590.1 L2186.0,1559.5 L2188.0,1511.7 L2190.0,1497.8 L2192.0,1501.6 L2194.0,1514.4 L2196.0,1528.4 L2198.0,1544.7 L2200.0,1549.4 L2202.0,1530.4 L2204.0,1520.7 L2206.0,1513.0 L2208.0,1505.6 L2210.0,1491.5 L2212.0,1471.5 L2214.0,1477.7 L2216.0,1493.5 L2218.0,1514.6 L2220.0,1534.3 L2222.0,1552.4 L2224.0,1574.8 L2226.0,1597.8 L2228.0,1622.7 L2230.0,1648.5 L2232.0,1678.0 L2234.0,1707.9 L2236.0,1736.7 L2238.0,1752.3 L2240.0,1759.8 L2242.0,1763.9 L2244.0,1766.2 L2246.0,1767.1 L2248.0,1753.0 L2250.0,1725.0 L2252.0,1664.8 L2254.0,1609.4 L2256.0,1559.4 L2258.0,1516.3 L2260.0,1475.2 L2262.0,1442.1 L2264.0,1413.4 L2266.0,1391.2 L2268.0,1368.6 L2270.0,1345.4 L2272.0,1325.1 L2274.0,1309.9 L2276.0,1291.2 L2278.0,1269.9 L2280.0,1248.6 L2282.0,1237.0 L2284.0,1227.8 L2286.0,1223.2 L2288.0,1219.1 L2290.0,1221.0 L2292.0,1224.9 L2294.0,1232.4 L2296.0,1248.8 L2298.0,1268.7 L2300.0,1287.9 L2302.0,1307.0 L2304.0,1326.1 L2306.0,1342.3 L2308.0,1351.0 L2310.0,1355.2 L2312.0,1360.3 L2314.0,1375.1 L2316.0,1400.8 L2318.0,1444.7 L2320.0,1465.1 L2322.0,1462.1 L2324.0,1450.7 L2326.0,1451.1 L2328.0,1443.9 L2330.0,1432.6 L2332.0,1426.4 L2334.0,1427.1 L2336.0,1441.1 L2338.0,1455.4 L2340.0,1472.6 L2342.0,1492.1 L2344.0,1514.4 L2346.0,1545.6 L2348.0,1565.7 L2350.0,1578.5 L2352.0,1585.9 L2354.0,1593.2 L2356.0,1600.3 L2358.0,1587.1 L2360.0,1548.9 L2362.0,1519.0 L2364.0,1510.0 L2366.0,1522.7 L2368.0,1543.9 L2370.0,1562.9 L2372.0,1578.3 L2374.0,1579.3 L2376.0,1574.0 L2378.0,1573.2 L2380.0,1573.3 L2382.0,1572.4 L2384.0,1558.2 L2386.0,1544.7 L2388.0,1534.7 L2390.0,1525.4 L2392.0,1516.2 L2394.0,1509.9 L2396.0,1506.1 L2398.0,1502.9 L2400.0,1509.2 L2402.0,1517.1 L2404.0,1509.0 L2406.0,1497.0 L2408.0,1484.4 L2410.0,1468.8 L2412.0,1451.1 L2414.0,1437.7 L2416.0,1442.6 L2418.0,1469.1 L2420.0,1436.3 L2422.0,1404.7 L2424.0,1390.6 L2426.0,1383.5 L2428.0,1376.1 L2430.0,1368.6 L2432.0,1368.8 L2434.0,1381.5 L2436.0,1411.5 L2438.0,1456.7 L2440.0,1473.5 L2442.0,1476.2 L2444.0,1467.0 L2446.0,1473.4 L2448.0,1474.4 L2450.0,1468.8 L2452.0,1473.7 L2454.0,1468.5 L2456.0,1455.2 L2458.0,1432.1 L2460.0,1416.5 L2462.0,1397.8 L2464.0,1370.2 L2466.0,1357.9 L2468.0,1347.1 L2470.0,1338.8 L2472.0,1333.0 L2474.0,1330.0 L2476.0,1335.4 L2478.0,1350.9 L2480.0,1365.8 L2482.0,1383.1 L2484.0,1398.8 L2486.0,1400.8 L2488.0,1405.1 L2490.0,1428.1 L2492.0,1376.4 L2494.0,1341.0 L2496.0,1315.2 L2498.0,1297.8 L2500.0,1277.5 L2502.0,1260.7 L2504.0,1251.8 L2506.0,1250.4 L2508.0,1262.0 L2510.0,1274.8 L2512.0,1286.5 L2514.0,1278.7 L2516.0,1294.6 L2518.0,1326.0 L2520.0,1369.8 L2522.0,1419.0 L2524.0,1470.4 L2526.0,1514.4 L2528.0,1545.0 L2530.0,1568.0 L2532.0,1598.3 L2534.0,1634.9 L2536.0,1675.5 L2538.0,1713.4 L2540.0,1742.9 L2542.0,1768.5 L2544.0,1798.5 L2546.0,1833.8 L2548.0,1868.1 L2550.0,1899.5 L2552.0,1924.5 L2554.0,1933.6 L2556.0,1927.1 L2558.0,1904.3 L2560.0,1863.5 L2562.0,1828.7 L2564.0,1810.4 L2566.0,1809.0 L2568.0,1860.7 L2570.0,1920.5 L2572.0,1973.8 L2574.0,2017.5 L2576.0,2040.4 L2578.0,2052.2 L2580.0,2052.4 L2582.0,2059.1 L2584.0,2079.9 L2586.0,2068.4 L2588.0,2028.3 L2590.0,1993.5 L2592.0,1950.5 L2594.0,1903.9 L2596.0,1860.7 L2598.0,1827.6 L2600.0,1800.8 L2602.0,1785.2 L2604.0,1775.1 L2606.0,1769.8 L2608.0,1781.2 L2610.0,1795.6 L2612.0,1815.7 L2614.0,1841.0 L2616.0,1870.6 L2618.0,1906.4 L2620.0,1856.2 L2622.0,1797.1 L2624.0,1743.9 L2626.0,1682.9 L2628.0,1628.7 L2630.0,1578.7 L2632.0,1533.0 L2634.0,1485.1 L2636.0,1431.9 L2638.0,1374.5 L2640.0,1323.0 L2642.0,1302.2 L2644.0,1285.6 L2646.0,1278.2 L2648.0,1279.3 L2650.0,1276.4 L2652.0,1269.9 L2654.0,1269.5 L2656.0,1276.6 L2658.0,1285.0 L2660.0,1304.0 L2662.0,1304.0 L2664.0,1275.8 L2666.0,1224.7 L2668.0,1170.8 L2670.0,1145.6 L2672.0,1147.3 L2674.0,1155.4 L2676.0,1176.1 L2678.0,1191.3 L2680.0,1200.2 L2682.0,1212.2 L2684.0,1234.4 L2686.0,1265.7 L2688.0,1303.0 L2690.0,1339.0 L2692.0,1374.7 L2694.0,1412.7 L2696.0,1483.0 L2698.0,1522.9 L2700.0,1549.3 L2702.0,1548.8 L2704.0,1541.3 L2706.0,1552.5 L2708.0,1567.2 L2710.0,1576.5 L2712.0,1578.7 L2714.0,1599.0 L2716.0,1623.1 L2718.0,1645.9 L2720.0,1666.5 L2722.0,1679.5 L2724.0,1683.3 L2726.0,1663.4 L2728.0,1638.0 L2730.0,1614.5 L2732.0,1589.6 L2734.0,1565.1 L2736.0,1543.2 L2738.0,1526.5 L2740.0,1519.4 L2742.0,1515.6 L2744.0,1510.5 L2746.0,1505.4 L2748.0,1506.5 L2750.0,1510.4 L2752.0,1499.9 L2754.0,1486.5 L2756.0,1471.8 L2758.0,1456.4 L2760.0,1447.8 L2762.0,1442.9 L2764.0,1440.3 L2766.0,1438.7 L2768.0,1429.3 L2770.0,1418.6 L2772.0,1409.6 L2774.0,1400.3 L2776.0,1396.5 L2778.0,1404.3 L2780.0,1426.9 L2782.0,1458.6 L2784.0,1494.0 L2786.0,1529.8 L2788.0,1559.0 L2790.0,1567.1 L2792.0,1561.7 L2794.0,1555.9 L2796.0,1547.2 L2798.0,1535.0 L2800.0,1516.9 L2802.0,1489.6 L2804.0,1458.4 L2806.0,1427.4 L2808.0,1409.0 L2810.0,1394.9 L2812.0,1384.6 L2814.0,1380.6 L2816.0,1385.7 L2818.0,1399.9 L2820.0,1422.8 L2822.0,1446.4 L2824.0,1470.2 L2826.0,1489.5 L2828.0,1499.6 L2830.0,1504.3 L2832.0,1507.2 L2834.0,1505.6 L2836.0,1502.6 L2838.0,1495.4 L2840.0,1483.1 L2842.0,1465.9 L2844.0,1448.5 L2846.0,1433.2 L2848.0,1422.2 L2850.0,1410.1 L2852.0,1397.0 L2854.0,1394.5 L2856.0,1397.0 L2858.0,1405.2 L2860.0,1418.5 L2862.0,1438.2 L2864.0,1459.5 L2866.0,1484.9 L2868.0,1512.7 L2870.0,1543.6 L2872.0,1573.7 L2874.0,1599.2 L2876.0,1619.6 L2878.0,1623.3 L2880.0,1617.4 L2882.0,1607.7 L2884.0,1601.5 L2886.0,1597.8 L2888.0,1593.6 L2890.0,1572.3 L2892.0,1543.3 L2894.0,1514.2 L2896.0,1487.4 L2898.0,1465.3 L2900.0,1448.6 L2902.0,1436.3 L2904.0,1426.7 L2906.0,1418.2 L2908.0,1406.7 L2910.0,1393.3 L2912.0,1351.7 L2914.0,1310.0 L2916.0,1292.4 L2918.0,1283.2 L2920.0,1278.0 L2922.0,1279.6 L2924.0,1273.5 L2926.0,1261.5 L2928.0,1251.7 L2930.0,1243.9 L2932.0,1239.9 L2934.0,1235.6 L2936.0,1229.0 L2938.0,1222.4 L2940.0,1215.8 L2942.0,1191.2 L2944.0,1169.9 L2946.0,1154.1 L2948.0,1136.7 L2950.0,1122.5 L2952.0,1132.5 L2954.0,1150.2 L2956.0,1200.9 L2958.0,1256.2 L2960.0,1296.3 L2962.0,1337.1 L2964.0,1369.1 L2966.0,1398.1 L2968.0,1405.1 L2970.0,1407.8 L2972.0,1393.9 L2974.0,1376.7 L2976.0,1352.4 L2978.0,1324.4 L2980.0,1306.2 L2982.0,1292.4 L2984.0,1292.2 L2986.0,1297.3 L2988.0,1311.7 L2990.0,1329.9 L2992.0,1349.7 L2994.0,1365.1 L2996.0,1379.2 L2998.0,1391.5 L3000.0,1391.4 L3002.0,1389.3 L3004.0,1390.5 L3006.0,1390.8 L3008.0,1384.7 L3010.0,1350.8 L3012.0,1315.3 L3014.0,1279.8 L3016.0,1253.8 L3018.0,1236.7 L3020.0,1275.7 L3022.0,1296.8 L3024.0,1296.8 L3026.0,1275.4 L3028.0,1251.8 L3030.0,1235.1 L3032.0,1226.4 L3034.0,1223.1 L3036.0,1227.3 L3038.0,1236.4 L3040.0,1254.1 L3042.0,1270.3 L3044.0,1287.1 L3046.0,1314.1 L3048.0,1342.2 L3050.0,1371.2 L3052.0,1392.5 L3054.0,1412.5 L3056.0,1432.5 L3058.0,1448.2 L3060.0,1461.4 L3062.0,1476.7 L3064.0,1485.7 L3066.0,1484.5 L3068.0,1479.9 L3070.0,1478.1 L3072.0,1500.2 L3074.0,1524.8 L3076.0,1551.6 L3078.0,1564.4 L3080.0,1572.6 L3082.0,1572.4 L3084.0,1575.3 L3086.0,1579.7 L3088.0,1584.1 L3090.0,1587.2 L3092.0,1588.4 L3094.0,1584.2 L3096.0,1578.1 L3098.0,1569.2 L3100.0,1551.9 L3102.0,1527.7 L3104.0,1495.1 L3106.0,1461.1 L3108.0,1425.6 L3110.0,1389.4 L3112.0,1352.9 L3114.0,1316.3 L3116.0,1281.2 L3118.0,1247.9 L3120.0,1226.1 L3122.0,1206.7 L3124.0,1185.6 L3126.0,1163.3 L3128.0,1140.1 L3130.0,1114.8 L3132.0,1087.7 L3134.0,1057.0 L3136.0,1024.8 L3138.0,990.7 L3140.0,942.1 L3142.0,915.5 L3144.0,898.4 L3146.0,892.1 L3148.0,883.3 L3150.0,866.6 L3152.0,871.4 L3154.0,878.2 L3156.0,884.0 L3158.0,888.1 L3160.0,892.8 L3162.0,900.1 L3164.0,908.3 L3166.0,904.4 L3168.0,883.8 L3170.0,865.3 L3172.0,846.4 L3174.0,822.3 L3176.0,799.1 L3178.0,782.1 L3180.0,768.3 L3182.0,756.9 L3184.0,748.2 L3186.0,746.4 L3188.0,755.4 L3190.0,752.2 L3192.0,750.4 L3194.0,750.5 L3196.0,746.9 L3198.0,747.0 L3200.0,777.1 L3202.0,823.7 L3204.0,860.7 L3206.0,874.8 L3208.0,867.7 L3210.0,849.4 L3212.0,836.3 L3214.0,828.4 L3216.0,824.8 L3218.0,825.2 L3220.0,831.1 L3222.0,839.2 L3224.0,848.5 L3226.0,858.5 L3228.0,840.8 L3230.0,814.2 L3232.0,788.2 L3234.0,765.6 L3236.0,760.0 L3238.0,758.5 L3240.0,747.7 L3242.0,729.6 L3244.0,709.6 L3246.0,699.7 L3248.0,697.5 L3250.0,693.6 L3252.0,691.7 L3254.0,679.4 L3256.0,652.0 L3258.0,619.7 L3260.0,590.5 L3262.0,569.3 L3264.0,555.8 L3266.0,545.9 L3268.0,535.5 L3270.0,529.6 L3272.0,524.3 L3274.0,518.4 L3276.0,508.3 L3278.0,490.4 L3280.0,482.9 L3282.0,498.6 L3284.0,517.6 L3286.0,528.3 L3288.0,530.0 L3290.0,516.2 L3292.0,500.0 L3294.0,476.7 L3296.0,461.0 L3298.0,459.7 L3300.0,480.5 L3302.0,514.4 L3304.0,539.0 L3306.0,526.4 L3308.0,494.6 L3310.0,483.4 L3312.0,481.2 L3314.0,477.0 L3316.0,470.6 L3318.0,472.6 L3320.0,485.8 L3322.0,497.3 L3324.0,501.1 L3326.0,500.9 L3328.0,500.7 L3330.0,503.1 L3332.0,514.0 L3334.0,526.0 L3336.0,537.3 L3338.0,527.5 L3340.0,509.0 L3342.0,497.0 L3344.0,492.6 L3346.0,493.9 L3348.0,500.1 L3350.0,503.8 L3352.0,492.9 L3354.0,470.2 L3356.0,445.2 L3358.0,422.3 L3360.0,411.5 L3362.0,417.3 L3364.0,440.2 L3366.0,461.9 L3368.0,465.6 L3370.0,455.7 L3372.0,450.1 L3374.0,444.5 L3376.0,439.5 L3378.0,443.3 L3380.0,454.7 L3382.0,465.8 L3384.0,468.6 L3386.0,475.9 L3388.0,486.6 L3390.0,504.1 L3392.0,527.4 L3394.0,554.8 L3396.0,587.3 L3398.0,616.1 L3400.0,626.1 L3402.0,627.8 L3404.0,627.0 L3406.0,634.4 L3408.0,646.3 L3410.0,665.6 L3412.0,689.8 L3414.0,711.6 L3416.0,719.4 L3418.0,721.4 L3420.0,714.2 L3422.0,706.1 L3424.0,704.4 L3426.0,711.3 L3428.0,726.9 L3430.0,743.4 L3432.0,760.0 L3434.0,772.5 L3436.0,776.5 L3438.0,773.2 L3440.0,765.7 L3442.0,756.3 L3444.0,745.7 L3446.0,736.9 L3448.0,735.0 L3450.0,750.5 L3452.0,773.8 L3454.0,796.2 L3456.0,819.4 L3458.0,846.2 L3460.0,877.3 L3462.0,903.8 L3464.0,918.2 L3466.0,924.9 L3468.0,919.6 L3470.0,896.9 L3472.0,863.6 L3474.0,836.5 L3476.0,817.6 L3478.0,805.3 L3480.0,800.0 L3482.0,804.8 L3484.0,818.2 L3486.0,833.4 L3488.0,854.7 L3490.0,880.4 L3492.0,907.3 L3494.0,934.1 L3496.0,944.4 L3498.0,956.0 L3500.0,967.5 L3502.0,979.2 L3504.0,992.5 L3506.0,1005.8 L3508.0,1019.4 L3510.0,1045.0 L3512.0,1067.7 L3514.0,1100.2 L3516.0,1127.6 L3518.0,1181.2 L3520.0,1191.2 L3522.0,1191.3 L3524.0,1186.0 L3526.0,1182.8 L3528.0,1179.7 L3530.0,1179.1 L3532.0,1177.7 L3534.0,1170.8 L3536.0,1159.8 L3538.0,1136.9 L3540.0,1124.4 L3542.0,1117.5 L3544.0,1108.9 L3546.0,1095.2 L3548.0,1082.0 L3550.0,1090.6 L3552.0,1105.5 L3554.0,1120.4 L3556.0,1126.3 L3558.0,1127.7 L3560.0,1138.2 L3562.0,1163.4 L3564.0,1195.9 L3566.0,1229.2 L3568.0,1259.7 L3570.0,1287.9 L3572.0,1305.2 L3574.0,1317.1 L3576.0,1330.7 L3578.0,1351.0 L3580.0,1363.4 L3582.0,1333.1 L3584.0,1301.9 L3586.0,1274.1 L3588.0,1261.5 L3590.0,1260.1 L3592.0,1267.2 L3594.0,1274.1 L3596.0,1276.7 L3598.0,1277.6 L3600.0,1278.4 L3602.0,1292.3 L3604.0,1312.9 L3606.0,1343.2 L3608.0,1371.2 L3610.0,1395.9 L3612.0,1416.9 L3614.0,1438.3 L3616.0,1450.9 L3618.0,1456.3 L3620.0,1449.7 L3622.0,1431.2 L3624.0,1405.6 L3626.0,1388.7 L3628.0,1383.5 L3630.0,1391.3 L3632.0,1389.6 L3634.0,1379.1 L3636.0,1373.8 L3638.0,1390.0 L3640.0,1420.2 L3642.0,1447.0 L3644.0,1464.4 L3646.0,1481.0 L3648.0,1502.4 L3650.0,1522.3 L3652.0,1540.0 L3654.0,1555.9 L3656.0,1564.5 L3658.0,1571.2 L3660.0,1568.7 L3662.0,1567.9 L3664.0,1583.3 L3666.0,1601.0 L3668.0,1613.4 L3670.0,1618.9 L3672.0,1616.6 L3674.0,1605.6 L3676.0,1576.2 L3678.0,1548.5 L3680.0,1526.8 L3682.0,1513.6 L3684.0,1496.4 L3686.0,1479.1 L3688.0,1472.7 L3690.0,1480.9 L3692.0,1490.9 L3694.0,1500.9 L3696.0,1508.5 L3698.0,1507.7 L3700.0,1487.5 L3702.0,1460.9 L3704.0,1429.3 L3706.0,1396.3 L3708.0,1366.7 L3710.0,1361.2 L3712.0,1358.2 L3714.0,1356.4 L3716.0,1353.0 L3718.0,1338.4 L3720.0,1322.1 L3722.0,1303.7 L3724.0,1283.5 L3726.0,1262.4 L3728.0,1244.6 L3730.0,1229.7 L3732.0,1214.6 L3734.0,1197.5 L3736.0,1189.6 L3738.0,1169.7 L3740.0,1141.0 L3742.0,1115.6 L3744.0,1094.7 L3746.0,1079.8 L3748.0,1083.4 L3750.0,1099.0 L3752.0,1114.3 L3754.0,1132.1 L3756.0,1147.1 L3758.0,1161.9 L3760.0,1175.7 L3762.0,1190.1 L3764.0,1177.2 L3766.0,1161.1 L3768.0,1143.8 L3770.0,1120.2 L3772.0,1107.9 L3774.0,1103.1 L3776.0,1103.8 L3778.0,1112.5 L3780.0,1133.1 L3782.0,1161.6 L3784.0,1189.4 L3786.0,1215.3 L3788.0,1235.5 L3790.0,1261.2 L3792.0,1289.0 L3794.0,1316.1 L3796.0,1341.2 L3798.0,1356.1 L3800.0,1369.9 L3802.0,1381.2 L3804.0,1389.1 L3806.0,1410.0 L3808.0,1427.8 L3810.0,1452.1 L3812.0,1483.6 L3814.0,1505.6 L3816.0,1525.7 L3818.0,1545.0 L3820.0,1563.8 L3822.0,1582.6 L3824.0,1602.5 L3826.0,1622.3 L3828.0,1633.4 L3830.0,1629.5 L3832.0,1620.7 L3834.0,1604.0 L3836.0,1582.2 L3838.0,1557.8 L3840.0,1535.3 L3842.0,1509.7 L3844.0,1477.5 L3846.0,1441.5 L3848.0,1406.6 L3850.0,1378.4 L3852.0,1343.9 L3854.0,1310.6 L3856.0,1283.4 L3858.0,1256.8 L3860.0,1236.4 L3862.0,1219.8 L3864.0,1207.2 L3866.0,1200.9 L3868.0,1190.5 L3870.0,1188.2 L3872.0,1185.1 L3874.0,1169.8 L3876.0,1154.1 L3878.0,1148.1 L3880.0,1151.6 L3882.0,1159.5 L3884.0,1154.3 L3886.0,1149.6 L3888.0,1142.6 L3890.0,1141.7 L3892.0,1152.4 L3894.0,1159.4 L3896.0,1168.2 L3898.0,1181.3 L3900.0,1192.9 L3902.0,1210.4 L3904.0,1234.8 L3906.0,1262.3 L3908.0,1291.5 L3910.0,1322.7 L3912.0,1353.9 L3914.0,1382.5 L3916.0,1405.1 L3918.0,1416.5 L3920.0,1431.0 L3922.0,1448.4 L3924.0,1463.8 L3926.0,1472.5 L3928.0,1470.0 L3930.0,1470.2 L3932.0,1478.7 L3934.0,1495.3 L3936.0,1512.8 L3938.0,1530.3 L3940.0,1540.4 L3942.0,1527.2 L3944.0,1500.0 L3946.0,1466.6 L3948.0,1439.3 L3950.0,1417.3 L3952.0,1393.0 L3954.0,1364.2 L3956.0,1340.9 L3958.0,1317.7 L3960.0,1293.4 L3962.0,1269.1 L3964.0,1246.9 L3966.0,1224.9 L3968.0,1206.9 L3970.0,1192.4 L3972.0,1179.2 L3974.0,1165.3 L3976.0,1153.6 L3978.0,1144.8 L3980.0,1138.0 L3982.0,1125.5 L3984.0,1113.1 L3986.0,1102.1 L3988.0,1082.4 L3990.0,1062.8 L3992.0,1051.3 L3994.0,1041.9 L3996.0,1034.5 L3998.0,1031.3 L4000.0,1033.8 L4002.0,1036.4 L4004.0,1039.9 L4006.0,1047.5 L4008.0,1055.9 L4010.0,1063.2 L4012.0,1073.2 L4014.0,1081.3 L4016.0,1089.4 L4018.0,1097.2 L4020.0,1103.3 L4022.0,1109.5 L4024.0,1114.1 L4026.0,1120.1 L4028.0,1130.0 L4030.0,1139.8 L4032.0,1142.8 L4034.0,1137.2 L4036.0,1126.3 L4038.0,1113.0 L4040.0,1093.0 L4042.0,1077.6 L4044.0,1062.9 L4046.0,1049.9 L4048.0,1046.9 L4050.0,1053.1 L4052.0,1069.9 L4054.0,1093.7 L4056.0,1119.8 L4058.0,1135.3 L4060.0,1145.6 L4062.0,1157.1 L4064.0,1180.2 L4066.0,1195.0 L4068.0,1204.1 L4070.0,1211.1 L4072.0,1217.2 L4074.0,1213.9 L4076.0,1222.8 L4078.0,1243.8 L4080.0,1275.1 L4082.0,1308.5 L4084.0,1327.1 L4086.0,1337.7 L4088.0,1349.7 L4090.0,1383.1 L4092.0,1416.4 L4094.0,1449.7 L4096.0,1483.1 L4098.0,1516.4 L4100.0,1549.7 L4102.0,1570.9 L4104.0,1584.8 L4106.0,1593.9 L4108.0,1595.6 L4110.0,1595.1 L4112.0,1591.6 L4114.0,1582.5 L4116.0,1562.5 L4118.0,1529.9 L4120.0,1499.5 L4122.0,1469.1 L4124.0,1435.8 L4126.0,1402.4 L4128.0,1369.1 L4130.0,1335.8 L4132.0,1302.4 L4134.0,1269.1 L4136.0,1226.0 L4138.0,1182.3 L4140.0,1142.3 L4142.0,1110.6 L4144.0,1084.8 L4146.0,1060.5 L4148.0,1042.9 L4150.0,1030.3 L4152.0,999.9 L4154.0,983.7 L4156.0,989.5 L4158.0,1011.9 L4160.0,1043.5 L4162.0,1073.6 L4164.0,1096.5 L4166.0,1116.8 L4168.0,1130.1 L4170.0,1148.5 L4172.0,1177.2 L4174.0,1197.8 L4176.0,1211.7 L4178.0,1224.3 L4180.0,1237.5 L4182.0,1246.8 L4184.0,1254.0 L4186.0,1259.2 L4188.0,1262.4 L4190.0,1266.4 L4192.0,1268.1 L4194.0,1272.4 L4196.0,1287.5 L4198.0,1312.3 L4200.0,1348.8 L4202.0,1384.3 L4204.0,1395.2 L4206.0,1382.1 L4208.0,1364.1 L4210.0,1337.0 L4212.0,1307.1 L4214.0,1276.5 L4216.0,1259.8 L4218.0,1262.5 L4220.0,1262.1 L4222.0,1247.5 L4224.0,1230.9 L4226.0,1216.5 L4228.0,1205.5 L4230.0,1197.8 L4232.0,1193.8 L4234.0,1194.0 L4236.0,1199.4 L4238.0,1208.8 L4240.0,1204.4 L4242.0,1184.7 L4244.0,1171.4 L4246.0,1166.5 L4248.0,1161.0 L4250.0,1153.2 L4252.0,1138.7 L4254.0,1112.4 L4256.0,1085.8 L4258.0,1067.0 L4260.0,1063.9 L4262.0,1062.6 L4264.0,1067.9 L4266.0,1079.9 L4268.0,1091.2 L4270.0,1102.3 L4272.0,1114.5 L4274.0,1128.9 L4276.0,1144.9 L4278.0,1161.5 L4280.0,1180.9 L4282.0,1192.4 L4284.0,1198.6 L4286.0,1199.3 L4288.0,1182.6 L4290.0,1156.0 L4292.0,1131.1 L4294.0,1117.1 L4296.0,1128.8 L4298.0,1176.9 L4300.0,1224.3 L4302.0,1251.5 L4304.0,1275.8 L4306.0,1293.2 L4308.0,1304.6 L4310.0,1315.8 L4312.0,1312.5 L4314.0,1306.0 L4316.0,1292.8 L4318.0,1278.3 L4320.0,1264.4 L4322.0,1252.6 L4324.0,1242.0 L4326.0,1238.4 L4328.0,1248.6 L4330.0,1268.5 L4332.0,1292.8 L4334.0,1304.7 L4336.0,1295.8 L4338.0,1282.5 L4340.0,1272.0 L4342.0,1268.4 L4344.0,1280.0 L4346.0,1298.9 L4348.0,1319.5 L4350.0,1338.6 L4352.0,1355.5 L4354.0,1372.8 L4356.0,1393.0 L4358.0,1421.4 L4360.0,1444.9 L4362.0,1449.8 L4364.0,1425.0 L4366.0,1408.8 L4368.0,1398.8 L4370.0,1386.7 L4372.0,1363.5 L4374.0,1350.3 L4376.0,1348.4 L4378.0,1350.1 L4380.0,1344.9 L4382.0,1339.0 L4384.0,1334.0 L4386.0,1331.7 L4388.0,1340.4 L4390.0,1351.5 L4392.0,1363.3 L4394.0,1370.1 L4396.0,1370.5 L4398.0,1354.9 L4400.0,1328.2 L4402.0,1301.7 L4404.0,1277.3 L4406.0,1261.0 L4408.0,1251.5 L4410.0,1243.9 L4412.0,1234.5 L4414.0,1226.9 L4416.0,1223.7 L4418.0,1219.4 L4420.0,1211.6 L4422.0,1201.8 L4424.0,1192.0 L4426.0,1192.1 L4428.0,1205.0 L4430.0,1219.3 L4432.0,1229.0 L4434.0,1248.8 L4436.0,1270.8 L4438.0,1274.4 L4440.0,1262.4 L4442.0,1247.6 L4444.0,1234.5 L4446.0,1226.5 L4448.0,1223.4 L4450.0,1224.6 L4452.0,1232.7 L4454.0,1245.6 L4456.0,1247.3 L4458.0,1229.8 L4460.0,1203.0 L4462.0,1181.4 L4464.0,1170.6 L4466.0,1171.2 L4468.0,1180.6 L4470.0,1183.2 L4472.0,1181.5 L4474.0,1179.0 L4476.0,1179.1 L4478.0,1181.6 L4480.0,1198.9 L4482.0,1223.4 L4484.0,1247.6 L4486.0,1252.7 L4488.0,1248.5 L4490.0,1239.2 L4492.0,1232.0 L4494.0,1233.3 L4496.0,1239.1 L4498.0,1246.4 L4500.0,1253.2 L4502.0,1248.9 L4504.0,1242.7 L4506.0,1240.6 L4508.0,1248.2 L4510.0,1254.3 L4512.0,1258.6 L4514.0,1262.7 L4516.0,1271.0 L4518.0,1280.7 L4520.0,1288.9 L4522.0,1286.0 L4524.0,1273.7 L4526.0,1261.0 L4528.0,1252.8 L4530.0,1252.2 L4532.0,1257.3 L4534.0,1261.6 L4536.0,1263.9 L4538.0,1260.8 L4540.0,1256.6 L4542.0,1257.3 L4544.0,1259.8 L4546.0,1268.9 L4548.0,1285.8 L4550.0,1302.6 L4552.0,1315.3 L4554.0,1321.0 L4556.0,1330.1 L4558.0,1340.4 L4560.0,1348.6 L4562.0,1345.3 L4564.0,1334.3 L4566.0,1320.6 L4568.0,1307.2 L4570.0,1307.7 L4572.0,1314.1 L4574.0,1318.9 L4576.0,1323.0 L4578.0,1325.5 L4580.0,1327.9 L4582.0,1330.3 L4584.0,1330.6 L4586.0,1329.8 L4588.0,1330.6 L4590.0,1333.9 L4592.0,1340.5 L4594.0,1358.3 L4596.0,1365.7 L4598.0,1354.7 L4600.3,1340.7 L4600.3,1482.9 L4598.0,1497.2 L4596.0,1508.8 L4594.0,1496.6 L4592.0,1479.7 L4590.0,1470.3 L4588.0,1466.1 L4586.0,1466.7 L4584.0,1470.5 L4582.0,1472.2 L4580.0,1469.3 L4578.0,1466.4 L4576.0,1463.5 L4574.0,1461.3 L4572.0,1459.2 L4570.0,1451.0 L4568.0,1445.6 L4566.0,1453.0 L4564.0,1466.0 L4562.0,1479.9 L4560.0,1484.9 L4558.0,1478.7 L4556.0,1470.3 L4554.0,1463.7 L4552.0,1460.6 L4550.0,1442.6 L4548.0,1416.1 L4546.0,1388.7 L4544.0,1373.9 L4542.0,1373.1 L4540.0,1376.1 L4538.0,1389.7 L4536.0,1405.1 L4534.0,1406.1 L4532.0,1402.3 L4530.0,1398.2 L4528.0,1397.1 L4526.0,1405.1 L4524.0,1420.6 L4522.0,1439.9 L4520.0,1447.8 L4518.0,1432.6 L4516.0,1414.8 L4514.0,1401.8 L4512.0,1395.6 L4510.0,1392.4 L4508.0,1388.3 L4506.0,1381.2 L4504.0,1381.5 L4502.0,1388.0 L4500.0,1392.7 L4498.0,1389.5 L4496.0,1383.4 L4494.0,1375.2 L4492.0,1369.6 L4490.0,1373.7 L4488.0,1383.8 L4486.0,1390.5 L4484.0,1389.2 L4482.0,1371.6 L4480.0,1348.7 L4478.0,1329.6 L4476.0,1321.9 L4474.0,1319.5 L4472.0,1321.1 L4470.0,1322.8 L4468.0,1321.6 L4466.0,1312.3 L4464.0,1313.5 L4462.0,1328.9 L4460.0,1356.8 L4458.0,1391.9 L4456.0,1412.2 L4454.0,1400.1 L4452.0,1377.1 L4450.0,1362.7 L4448.0,1361.4 L4446.0,1367.1 L4444.0,1377.5 L4442.0,1389.9 L4440.0,1406.2 L4438.0,1421.3 L4436.0,1420.4 L4434.0,1396.8 L4432.0,1373.5 L4430.0,1360.9 L4428.0,1346.3 L4426.0,1334.4 L4424.0,1335.3 L4422.0,1344.8 L4420.0,1354.7 L4418.0,1364.7 L4416.0,1369.4 L4414.0,1373.2 L4412.0,1386.2 L4410.0,1401.8 L4408.0,1408.8 L4406.0,1414.2 L4404.0,1426.2 L4402.0,1444.5 L4400.0,1466.9 L4398.0,1494.7 L4396.0,1508.5 L4394.0,1508.7 L4392.0,1500.5 L4390.0,1484.5 L4388.0,1472.3 L4386.0,1465.0 L4384.0,1468.0 L4382.0,1474.0 L4380.0,1482.1 L4378.0,1488.7 L4376.0,1485.8 L4374.0,1484.3 L4372.0,1496.2 L4370.0,1522.8 L4368.0,1537.5 L4366.0,1548.7 L4364.0,1567.0 L4362.0,1588.1 L4360.0,1581.1 L4358.0,1556.0 L4356.0,1529.3 L4354.0,1509.1 L4352.0,1494.9 L4350.0,1481.5 L4348.0,1463.4 L4346.0,1442.1 L4344.0,1422.0 L4342.0,1409.3 L4340.0,1408.1 L4338.0,1417.5 L4336.0,1433.4 L4334.0,1445.5 L4332.0,1435.9 L4330.0,1414.5 L4328.0,1394.5 L4326.0,1380.7 L4324.0,1386.2 L4322.0,1401.3 L4320.0,1417.4 L4318.0,1434.5 L4316.0,1451.9 L4314.0,1466.7 L4312.0,1472.8 L4310.0,1472.4 L4308.0,1463.6 L4306.0,1454.4 L4304.0,1438.6 L4302.0,1408.4 L4300.0,1373.1 L4298.0,1328.7 L4296.0,1282.3 L4294.0,1259.2 L4292.0,1261.4 L4290.0,1284.1 L4288.0,1316.4 L4286.0,1339.6 L4284.0,1340.5 L4282.0,1332.4 L4280.0,1322.6 L4278.0,1309.8 L4276.0,1293.7 L4274.0,1276.6 L4272.0,1261.0 L4270.0,1247.6 L4268.0,1236.5 L4266.0,1225.9 L4264.0,1214.9 L4262.0,1209.8 L4260.0,1209.4 L4258.0,1211.4 L4256.0,1223.4 L4254.0,1245.5 L4252.0,1268.5 L4250.0,1285.9 L4248.0,1296.8 L4246.0,1304.7 L4244.0,1312.2 L4242.0,1320.4 L4240.0,1335.1 L4238.0,1344.1 L4236.0,1344.2 L4234.0,1341.1 L4232.0,1337.5 L4230.0,1337.0 L4228.0,1343.7 L4226.0,1356.4 L4224.0,1372.0 L4222.0,1388.6 L4220.0,1402.4 L4218.0,1405.5 L4216.0,1401.7 L4214.0,1407.6 L4212.0,1432.3 L4210.0,1462.3 L4208.0,1492.7 L4206.0,1514.0 L4204.0,1524.0 L4202.0,1514.7 L4200.0,1481.9 L4198.0,1442.0 L4196.0,1411.8 L4194.0,1398.3 L4192.0,1398.2 L4190.0,1403.4 L4188.0,1402.8 L4186.0,1400.5 L4184.0,1394.0 L4182.0,1383.1 L4180.0,1370.3 L4178.0,1358.8 L4176.0,1348.4 L4174.0,1337.2 L4172.0,1320.3 L4170.0,1297.9 L4168.0,1276.0 L4166.0,1256.5 L4164.0,1233.7 L4162.0,1209.7 L4160.0,1182.3 L4158.0,1154.2 L4156.0,1132.7 L4154.0,1124.0 L4152.0,1136.9 L4150.0,1159.3 L4148.0,1178.5 L4146.0,1208.2 L4144.0,1246.0 L4142.0,1274.3 L4140.0,1304.2 L4138.0,1337.9 L4136.0,1374.6 L4134.0,1412.6 L4132.0,1445.9 L4130.0,1479.3 L4128.0,1512.6 L4126.0,1545.9 L4124.0,1579.3 L4122.0,1612.6 L4120.0,1644.6 L4118.0,1676.5 L4116.0,1709.1 L4114.0,1729.1 L4112.0,1737.3 L4110.0,1742.3 L4108.0,1749.5 L4106.0,1764.6 L4104.0,1763.9 L4102.0,1753.2 L4100.0,1732.0 L4098.0,1698.6 L4096.0,1665.3 L4094.0,1632.0 L4092.0,1598.6 L4090.0,1565.3 L4088.0,1532.0 L4086.0,1508.7 L4084.0,1486.1 L4082.0,1459.7 L4080.0,1426.4 L4078.0,1394.0 L4076.0,1367.5 L4074.0,1352.7 L4072.0,1356.0 L4070.0,1350.5 L4068.0,1345.9 L4066.0,1343.7 L4064.0,1338.9 L4062.0,1319.7 L4060.0,1301.1 L4058.0,1283.1 L4056.0,1262.5 L4054.0,1237.0 L4052.0,1213.0 L4050.0,1194.4 L4048.0,1187.5 L4046.0,1189.8 L4044.0,1202.5 L4042.0,1216.1 L4040.0,1229.9 L4038.0,1255.2 L4036.0,1275.9 L4034.0,1291.6 L4032.0,1297.9 L4030.0,1290.5 L4028.0,1277.4 L4026.0,1267.4 L4024.0,1261.0 L4022.0,1256.2 L4020.0,1250.6 L4018.0,1245.1 L4016.0,1238.8 L4014.0,1231.1 L4012.0,1222.0 L4010.0,1212.0 L4008.0,1203.3 L4006.0,1191.4 L4004.0,1181.3 L4002.0,1177.0 L4000.0,1173.2 L3998.0,1169.4 L3996.0,1175.3 L3994.0,1186.1 L3992.0,1201.1 L3990.0,1218.5 L3988.0,1248.9 L3986.0,1279.3 L3984.0,1288.7 L3982.0,1298.3 L3980.0,1307.9 L3978.0,1314.9 L3976.0,1322.8 L3974.0,1332.3 L3972.0,1344.1 L3970.0,1357.1 L3968.0,1372.9 L3966.0,1393.6 L3964.0,1421.6 L3962.0,1449.7 L3960.0,1478.8 L3958.0,1507.8 L3956.0,1536.4 L3954.0,1564.9 L3952.0,1596.1 L3950.0,1621.2 L3948.0,1641.8 L3946.0,1672.3 L3944.0,1713.3 L3942.0,1748.5 L3940.0,1764.6 L3938.0,1743.2 L3936.0,1717.4 L3934.0,1691.5 L3932.0,1667.5 L3930.0,1653.1 L3928.0,1647.4 L3926.0,1641.5 L3924.0,1625.5 L3922.0,1605.9 L3920.0,1587.7 L3918.0,1575.8 L3916.0,1573.9 L3914.0,1553.9 L3912.0,1526.4 L3910.0,1497.5 L3908.0,1468.7 L3906.0,1437.9 L3904.0,1407.3 L3902.0,1378.2 L3900.0,1352.4 L3898.0,1338.9 L3896.0,1317.6 L3894.0,1302.7 L3892.0,1292.1 L3890.0,1284.4 L3888.0,1284.3 L3886.0,1291.5 L3884.0,1293.6 L3882.0,1293.4 L3880.0,1291.2 L3878.0,1293.9 L3876.0,1303.3 L3874.0,1314.2 L3872.0,1324.3 L3870.0,1328.6 L3868.0,1332.6 L3866.0,1340.3 L3864.0,1346.1 L3862.0,1359.6 L3860.0,1376.3 L3858.0,1396.3 L3856.0,1426.5 L3854.0,1464.8 L3852.0,1512.1 L3850.0,1563.6 L3848.0,1612.1 L3846.0,1663.8 L3844.0,1709.8 L3842.0,1741.4 L3840.0,1755.4 L3838.0,1769.6 L3836.0,1784.6 L3834.0,1801.1 L3832.0,1817.4 L3830.0,1828.6 L3828.0,1829.4 L3826.0,1814.8 L3824.0,1791.3 L3822.0,1767.9 L3820.0,1746.7 L3818.0,1725.5 L3816.0,1703.4 L3814.0,1679.3 L3812.0,1651.3 L3810.0,1618.8 L3808.0,1594.5 L3806.0,1575.6 L3804.0,1549.9 L3802.0,1555.3 L3800.0,1551.4 L3798.0,1539.5 L3796.0,1522.7 L3794.0,1484.5 L3792.0,1453.3 L3790.0,1424.3 L3788.0,1397.9 L3786.0,1373.8 L3784.0,1343.9 L3782.0,1313.2 L3780.0,1279.7 L3778.0,1254.7 L3776.0,1244.0 L3774.0,1242.4 L3772.0,1246.0 L3770.0,1259.4 L3768.0,1279.6 L3766.0,1300.9 L3764.0,1318.6 L3762.0,1331.2 L3760.0,1319.4 L3758.0,1302.0 L3756.0,1281.8 L3754.0,1263.5 L3752.0,1244.6 L3750.0,1230.7 L3748.0,1218.9 L3746.0,1218.5 L3744.0,1234.7 L3742.0,1260.4 L3740.0,1292.5 L3738.0,1327.2 L3736.0,1342.8 L3734.0,1344.6 L3732.0,1359.0 L3730.0,1371.0 L3728.0,1383.8 L3726.0,1402.8 L3724.0,1425.1 L3722.0,1448.2 L3720.0,1470.2 L3718.0,1488.8 L3716.0,1497.5 L3714.0,1497.9 L3712.0,1497.9 L3710.0,1500.7 L3708.0,1508.5 L3706.0,1542.7 L3704.0,1582.9 L3702.0,1617.4 L3700.0,1636.8 L3698.0,1649.9 L3696.0,1647.1 L3694.0,1638.2 L3692.0,1628.2 L3690.0,1618.2 L3688.0,1615.2 L3686.0,1630.9 L3684.0,1661.2 L3682.0,1693.9 L3680.0,1685.4 L3678.0,1694.1 L3676.0,1718.4 L3674.0,1752.3 L3672.0,1764.5 L3670.0,1769.9 L3668.0,1767.4 L3666.0,1756.7 L3664.0,1737.7 L3662.0,1710.5 L3660.0,1709.3 L3658.0,1711.6 L3656.0,1704.9 L3654.0,1697.8 L3652.0,1685.9 L3650.0,1671.5 L3648.0,1648.2 L3646.0,1625.4 L3644.0,1606.5 L3642.0,1592.2 L3640.0,1566.0 L3638.0,1535.6 L3636.0,1514.4 L3634.0,1515.9 L3632.0,1524.2 L3630.0,1531.8 L3628.0,1526.3 L3626.0,1532.2 L3624.0,1548.9 L3622.0,1574.1 L3620.0,1591.0 L3618.0,1598.2 L3616.0,1591.1 L3614.0,1580.1 L3612.0,1564.8 L3610.0,1542.9 L3608.0,1517.8 L3606.0,1488.3 L3604.0,1453.6 L3602.0,1432.2 L3600.0,1417.9 L3598.0,1420.2 L3596.0,1419.9 L3594.0,1416.5 L3592.0,1409.4 L3590.0,1401.9 L3588.0,1402.5 L3586.0,1411.1 L3584.0,1438.9 L3582.0,1467.7 L3580.0,1494.7 L3578.0,1487.0 L3576.0,1462.7 L3574.0,1450.4 L3572.0,1442.6 L3570.0,1430.5 L3568.0,1408.0 L3566.0,1380.7 L3564.0,1347.4 L3562.0,1312.3 L3560.0,1282.7 L3558.0,1267.7 L3556.0,1268.5 L3554.0,1262.7 L3552.0,1245.6 L3550.0,1231.1 L3548.0,1223.6 L3546.0,1244.1 L3544.0,1258.5 L3542.0,1259.0 L3540.0,1262.9 L3538.0,1280.8 L3536.0,1310.7 L3534.0,1315.4 L3532.0,1318.1 L3530.0,1319.8 L3528.0,1321.5 L3526.0,1324.4 L3524.0,1327.3 L3522.0,1331.1 L3520.0,1332.3 L3518.0,1323.7 L3516.0,1236.0 L3514.0,1216.5 L3512.0,1192.3 L3510.0,1174.8 L3508.0,1158.1 L3506.0,1143.9 L3504.0,1123.5 L3502.0,1104.7 L3500.0,1089.3 L3498.0,1074.2 L3496.0,1059.1 L3494.0,1047.0 L3492.0,1023.8 L3490.0,1003.4 L3488.0,986.4 L3486.0,971.5 L3484.0,957.2 L3482.0,943.9 L3480.0,937.9 L3478.0,942.0 L3476.0,953.2 L3474.0,972.2 L3472.0,1002.6 L3470.0,1036.0 L3468.0,1059.7 L3466.0,1065.4 L3464.0,1058.2 L3462.0,1042.1 L3460.0,1011.9 L3458.0,979.7 L3456.0,953.6 L3454.0,934.3 L3452.0,916.6 L3450.0,895.0 L3448.0,877.2 L3446.0,875.6 L3444.0,884.2 L3442.0,895.3 L3440.0,905.0 L3438.0,913.7 L3436.0,917.0 L3434.0,911.0 L3432.0,897.6 L3430.0,881.0 L3428.0,864.7 L3426.0,850.3 L3424.0,843.4 L3422.0,846.1 L3420.0,853.4 L3418.0,859.7 L3416.0,860.2 L3414.0,854.7 L3412.0,836.4 L3410.0,815.0 L3408.0,795.3 L3406.0,780.0 L3404.0,769.7 L3402.0,770.1 L3400.0,768.5 L3398.0,759.0 L3396.0,727.8 L3394.0,696.0 L3392.0,672.6 L3390.0,652.7 L3388.0,636.9 L3386.0,624.8 L3384.0,614.8 L3382.0,608.0 L3380.0,593.9 L3378.0,581.3 L3376.0,577.0 L3374.0,580.1 L3372.0,584.5 L3370.0,588.9 L3368.0,602.4 L3366.0,599.8 L3364.0,580.0 L3362.0,557.6 L3360.0,550.2 L3358.0,565.9 L3356.0,593.7 L3354.0,615.7 L3352.0,631.7 L3350.0,639.9 L3348.0,639.7 L3346.0,634.1 L3344.0,633.8 L3342.0,638.4 L3340.0,649.1 L3338.0,665.8 L3336.0,682.8 L3334.0,669.2 L3332.0,658.7 L3330.0,650.5 L3328.0,646.7 L3326.0,643.4 L3324.0,642.5 L3322.0,638.9 L3320.0,629.5 L3318.0,618.1 L3316.0,613.6 L3314.0,617.2 L3312.0,620.6 L3310.0,623.4 L3308.0,639.2 L3306.0,673.1 L3304.0,677.2 L3302.0,645.0 L3300.0,608.7 L3298.0,595.4 L3296.0,600.6 L3294.0,618.2 L3292.0,642.4 L3290.0,661.7 L3288.0,672.9 L3286.0,665.0 L3284.0,655.9 L3282.0,640.1 L3280.0,626.0 L3278.0,628.0 L3276.0,643.5 L3274.0,651.1 L3272.0,656.0 L3270.0,659.8 L3268.0,664.9 L3266.0,672.6 L3264.0,681.2 L3262.0,698.8 L3260.0,725.3 L3258.0,749.9 L3256.0,781.0 L3254.0,811.3 L3252.0,829.2 L3250.0,836.1 L3248.0,838.7 L3246.0,836.2 L3244.0,847.6 L3242.0,868.1 L3240.0,886.1 L3238.0,897.7 L3236.0,903.3 L3234.0,907.7 L3232.0,924.8 L3230.0,948.9 L3228.0,977.1 L3226.0,997.9 L3224.0,989.7 L3222.0,980.0 L3220.0,970.9 L3218.0,963.8 L3216.0,962.2 L3214.0,965.6 L3212.0,971.1 L3210.0,980.7 L3208.0,998.0 L3206.0,1013.7 L3204.0,1012.8 L3202.0,980.9 L3200.0,941.4 L3198.0,912.6 L3196.0,905.3 L3194.0,902.0 L3192.0,895.2 L3190.0,890.8 L3188.0,892.4 L3186.0,886.4 L3184.0,884.9 L3182.0,890.8 L3180.0,897.7 L3178.0,907.3 L3176.0,921.1 L3174.0,947.9 L3172.0,976.7 L3170.0,997.3 L3168.0,1015.6 L3166.0,1036.7 L3164.0,1052.2 L3162.0,1044.8 L3160.0,1035.8 L3158.0,1028.1 L3156.0,1021.7 L3154.0,1017.5 L3152.0,1013.9 L3150.0,1012.9 L3148.0,1022.3 L3146.0,1026.6 L3144.0,1026.5 L3142.0,1041.4 L3140.0,1072.4 L3138.0,1142.4 L3136.0,1181.8 L3134.0,1217.0 L3132.0,1249.1 L3130.0,1273.6 L3128.0,1294.1 L3126.0,1310.3 L3124.0,1324.6 L3122.0,1336.3 L3120.0,1350.1 L3118.0,1368.0 L3116.0,1401.3 L3114.0,1438.5 L3112.0,1478.6 L3110.0,1518.8 L3108.0,1558.2 L3106.0,1596.0 L3104.0,1630.7 L3102.0,1663.7 L3100.0,1692.8 L3098.0,1712.0 L3096.0,1719.7 L3094.0,1724.7 L3092.0,1728.4 L3090.0,1729.6 L3088.0,1726.8 L3086.0,1721.2 L3084.0,1715.6 L3082.0,1710.7 L3080.0,1707.2 L3078.0,1699.9 L3076.0,1689.5 L3074.0,1666.3 L3072.0,1642.5 L3070.0,1617.9 L3068.0,1618.4 L3066.0,1621.5 L3064.0,1620.3 L3062.0,1604.4 L3060.0,1579.6 L3058.0,1562.9 L3056.0,1544.8 L3054.0,1524.8 L3052.0,1504.8 L3050.0,1484.3 L3048.0,1460.0 L3046.0,1439.8 L3044.0,1423.5 L3042.0,1408.9 L3040.0,1393.3 L3038.0,1374.4 L3036.0,1364.1 L3034.0,1358.7 L3032.0,1362.1 L3030.0,1370.8 L3028.0,1387.5 L3026.0,1411.5 L3024.0,1433.7 L3022.0,1435.5 L3020.0,1415.9 L3018.0,1378.1 L3016.0,1400.8 L3014.0,1431.7 L3012.0,1469.6 L3010.0,1507.4 L3008.0,1542.7 L3006.0,1533.3 L3004.0,1523.9 L3002.0,1518.0 L3000.0,1528.0 L2998.0,1537.1 L2996.0,1526.0 L2994.0,1511.1 L2992.0,1493.2 L2990.0,1473.3 L2988.0,1455.3 L2986.0,1441.4 L2984.0,1434.5 L2982.0,1431.7 L2980.0,1441.7 L2978.0,1458.6 L2976.0,1485.9 L2974.0,1510.0 L2972.0,1529.7 L2970.0,1545.1 L2968.0,1542.1 L2966.0,1530.0 L2964.0,1490.4 L2962.0,1445.8 L2960.0,1391.4 L2958.0,1344.9 L2956.0,1295.0 L2954.0,1253.4 L2952.0,1239.4 L2950.0,1241.8 L2948.0,1264.6 L2946.0,1289.6 L2944.0,1311.1 L2942.0,1330.9 L2940.0,1349.6 L2938.0,1359.7 L2936.0,1368.5 L2934.0,1375.2 L2932.0,1376.7 L2930.0,1377.8 L2928.0,1386.7 L2926.0,1397.6 L2924.0,1410.2 L2922.0,1417.0 L2920.0,1419.3 L2918.0,1423.5 L2916.0,1431.9 L2914.0,1446.4 L2912.0,1502.8 L2910.0,1559.1 L2908.0,1572.0 L2906.0,1581.4 L2904.0,1590.7 L2902.0,1600.5 L2900.0,1611.6 L2898.0,1624.8 L2896.0,1640.5 L2894.0,1660.0 L2892.0,1684.3 L2890.0,1708.5 L2888.0,1727.2 L2886.0,1732.4 L2884.0,1736.5 L2882.0,1742.2 L2880.0,1752.1 L2878.0,1760.9 L2876.0,1761.4 L2874.0,1734.9 L2872.0,1703.2 L2870.0,1667.9 L2868.0,1632.2 L2866.0,1603.1 L2864.0,1579.2 L2862.0,1563.8 L2860.0,1550.5 L2858.0,1541.0 L2856.0,1532.9 L2854.0,1530.8 L2852.0,1534.3 L2850.0,1555.2 L2848.0,1570.0 L2846.0,1578.4 L2844.0,1596.0 L2842.0,1613.3 L2840.0,1628.8 L2838.0,1640.1 L2836.0,1646.1 L2834.0,1646.5 L2832.0,1646.2 L2830.0,1643.4 L2828.0,1639.0 L2826.0,1626.8 L2824.0,1608.1 L2822.0,1585.3 L2820.0,1565.1 L2818.0,1546.5 L2816.0,1533.4 L2814.0,1528.0 L2812.0,1528.8 L2810.0,1535.8 L2808.0,1550.7 L2806.0,1572.1 L2804.0,1607.9 L2802.0,1638.6 L2800.0,1664.2 L2798.0,1680.1 L2796.0,1690.5 L2794.0,1697.6 L2792.0,1702.5 L2790.0,1706.5 L2788.0,1701.7 L2786.0,1665.8 L2784.0,1627.3 L2782.0,1589.6 L2780.0,1556.7 L2778.0,1538.7 L2776.0,1537.1 L2774.0,1547.3 L2772.0,1559.7 L2770.0,1571.3 L2768.0,1575.6 L2766.0,1579.0 L2764.0,1578.7 L2762.0,1583.8 L2760.0,1592.4 L2758.0,1606.0 L2756.0,1619.9 L2754.0,1632.4 L2752.0,1643.0 L2750.0,1650.4 L2748.0,1651.0 L2746.0,1653.7 L2744.0,1653.3 L2742.0,1653.0 L2740.0,1655.8 L2738.0,1669.0 L2736.0,1689.5 L2734.0,1713.2 L2732.0,1738.9 L2730.0,1765.7 L2728.0,1786.2 L2726.0,1810.8 L2724.0,1825.9 L2722.0,1819.6 L2720.0,1808.7 L2718.0,1791.9 L2716.0,1773.5 L2714.0,1749.4 L2712.0,1722.0 L2710.0,1713.6 L2708.0,1700.6 L2706.0,1684.6 L2704.0,1680.4 L2702.0,1688.8 L2700.0,1697.5 L2698.0,1664.1 L2696.0,1624.5 L2694.0,1513.9 L2692.0,1473.9 L2690.0,1443.0 L2688.0,1411.6 L2686.0,1372.8 L2684.0,1341.4 L2682.0,1316.9 L2680.0,1297.1 L2678.0,1283.0 L2676.0,1265.7 L2674.0,1243.6 L2672.0,1241.0 L2670.0,1243.9 L2668.0,1266.4 L2666.0,1341.1 L2664.0,1404.6 L2662.0,1442.1 L2660.0,1438.6 L2658.0,1417.0 L2656.0,1397.4 L2654.0,1376.7 L2652.0,1369.9 L2650.0,1372.3 L2648.0,1376.8 L2646.0,1377.6 L2644.0,1386.9 L2642.0,1411.3 L2640.0,1436.8 L2638.0,1476.2 L2636.0,1526.8 L2634.0,1575.6 L2632.0,1618.2 L2630.0,1659.1 L2628.0,1709.1 L2626.0,1768.0 L2624.0,1834.5 L2622.0,1903.8 L2620.0,1984.5 L2618.0,2047.6 L2616.0,2020.1 L2614.0,1991.1 L2612.0,1962.7 L2610.0,1940.9 L2608.0,1923.2 L2606.0,1910.1 L2604.0,1909.6 L2602.0,1921.2 L2600.0,1939.3 L2598.0,1966.1 L2596.0,2003.8 L2594.0,2050.6 L2592.0,2099.0 L2590.0,2142.8 L2588.0,2179.4 L2586.0,2213.1 L2584.0,2222.7 L2582.0,2199.7 L2580.0,2192.2 L2578.0,2193.9 L2576.0,2173.7 L2574.0,2140.2 L2572.0,2093.2 L2570.0,2041.6 L2568.0,1989.4 L2566.0,1944.9 L2564.0,1949.1 L2562.0,1970.0 L2560.0,2006.5 L2558.0,2055.7 L2556.0,2073.6 L2554.0,2072.4 L2552.0,2054.9 L2550.0,2017.4 L2548.0,1979.7 L2546.0,1943.7 L2544.0,1905.5 L2542.0,1868.7 L2540.0,1841.3 L2538.0,1811.5 L2536.0,1776.0 L2534.0,1734.7 L2532.0,1694.8 L2530.0,1657.9 L2528.0,1630.1 L2526.0,1602.5 L2524.0,1567.6 L2522.0,1525.7 L2520.0,1484.9 L2518.0,1448.0 L2516.0,1419.1 L2514.0,1399.2 L2512.0,1389.6 L2510.0,1371.7 L2508.0,1363.9 L2506.0,1347.8 L2504.0,1339.6 L2502.0,1347.4 L2500.0,1368.7 L2498.0,1393.1 L2496.0,1415.0 L2494.0,1439.8 L2492.0,1477.2 L2490.0,1567.9 L2488.0,1511.5 L2486.0,1502.1 L2484.0,1505.4 L2482.0,1499.5 L2480.0,1489.3 L2478.0,1480.1 L2476.0,1469.6 L2474.0,1463.9 L2472.0,1465.8 L2470.0,1470.6 L2468.0,1477.6 L2466.0,1488.1 L2464.0,1499.1 L2462.0,1535.5 L2460.0,1556.7 L2458.0,1574.4 L2456.0,1604.7 L2454.0,1614.2 L2452.0,1614.5 L2450.0,1613.6 L2448.0,1615.5 L2446.0,1611.0 L2444.0,1608.0 L2442.0,1616.3 L2440.0,1617.7 L2438.0,1605.5 L2436.0,1554.6 L2434.0,1518.5 L2432.0,1508.5 L2430.0,1506.5 L2428.0,1511.1 L2426.0,1515.8 L2424.0,1523.3 L2422.0,1534.2 L2420.0,1573.6 L2418.0,1609.6 L2416.0,1577.7 L2414.0,1575.1 L2412.0,1587.9 L2410.0,1606.9 L2408.0,1621.4 L2406.0,1633.7 L2404.0,1648.6 L2402.0,1658.2 L2400.0,1647.9 L2398.0,1641.0 L2396.0,1644.0 L2394.0,1648.3 L2392.0,1654.3 L2390.0,1662.6 L2388.0,1671.1 L2386.0,1681.1 L2384.0,1697.7 L2382.0,1712.8 L2380.0,1712.0 L2378.0,1711.6 L2376.0,1713.3 L2374.0,1721.0 L2372.0,1729.6 L2370.0,1719.9 L2368.0,1705.6 L2366.0,1686.8 L2364.0,1672.9 L2362.0,1671.0 L2360.0,1689.7 L2358.0,1717.4 L2356.0,1738.7 L2354.0,1731.9 L2352.0,1723.8 L2350.0,1715.5 L2348.0,1706.9 L2346.0,1691.2 L2344.0,1662.4 L2342.0,1642.5 L2340.0,1625.5 L2338.0,1610.8 L2336.0,1591.6 L2334.0,1568.4 L2332.0,1568.3 L2330.0,1574.1 L2328.0,1586.0 L2326.0,1592.5 L2324.0,1589.7 L2322.0,1595.9 L2320.0,1601.9 L2318.0,1579.0 L2316.0,1545.7 L2314.0,1523.2 L2312.0,1506.0 L2310.0,1493.3 L2308.0,1481.1 L2306.0,1468.9 L2304.0,1453.3 L2302.0,1435.2 L2300.0,1418.3 L2298.0,1403.2 L2296.0,1388.3 L2294.0,1374.6 L2292.0,1363.5 L2290.0,1358.0 L2288.0,1355.6 L2286.0,1360.1 L2284.0,1365.1 L2282.0,1373.4 L2280.0,1384.0 L2278.0,1404.1 L2276.0,1424.1 L2274.0,1438.8 L2272.0,1445.9 L2270.0,1464.0 L2268.0,1488.1 L2266.0,1516.1 L2264.0,1546.4 L2262.0,1581.3 L2260.0,1619.6 L2258.0,1661.6 L2256.0,1704.8 L2254.0,1754.8 L2252.0,1806.4 L2250.0,1859.4 L2248.0,1881.5 L2246.0,1893.3 L2244.0,1894.2 L2242.0,1892.5 L2240.0,1887.5 L2238.0,1879.0 L2236.0,1865.5 L2234.0,1841.8 L2232.0,1815.8 L2230.0,1787.8 L2228.0,1763.1 L2226.0,1740.0 L2224.0,1719.9 L2222.0,1698.6 L2220.0,1675.9 L2218.0,1652.6 L2216.0,1630.3 L2214.0,1614.9 L2212.0,1608.3 L2210.0,1626.8 L2208.0,1642.5 L2206.0,1655.0 L2204.0,1665.0 L2202.0,1675.6 L2200.0,1693.3 L2198.0,1688.3 L2196.0,1671.3 L2194.0,1652.8 L2192.0,1635.9 L2190.0,1631.1 L2188.0,1641.9 L2186.0,1682.6 L2184.0,1716.8 L2182.0,1744.8 L2180.0,1747.1 L2178.0,1716.5 L2176.0,1656.9 L2174.0,1646.0 L2172.0,1635.1 L2170.0,1619.2 L2168.0,1605.9 L2166.0,1603.0 L2164.0,1586.7 L2162.0,1552.7 L2160.0,1526.5 L2158.0,1501.1 L2156.0,1475.7 L2154.0,1452.0 L2152.0,1432.6 L2150.0,1414.8 L2148.0,1396.5 L2146.0,1379.2 L2144.0,1366.9 L2142.0,1358.7 L2140.0,1351.8 L2138.0,1343.8 L2136.0,1333.9 L2134.0,1314.9 L2132.0,1294.5 L2130.0,1275.8 L2128.0,1258.4 L2126.0,1248.0 L2124.0,1241.9 L2122.0,1236.8 L2120.0,1232.1 L2118.0,1237.0 L2116.0,1239.0 L2114.0,1234.7 L2112.0,1234.5 L2110.0,1244.5 L2108.0,1257.5 L2106.0,1270.1 L2104.0,1251.2 L2102.0,1236.5 L2100.0,1231.2 L2098.0,1228.5 L2096.0,1226.2 L2094.0,1230.3 L2092.0,1229.7 L2090.0,1224.5 L2088.0,1215.3 L2086.0,1211.9 L2084.0,1208.3 L2082.0,1200.2 L2080.0,1200.4 L2078.0,1198.2 L2076.0,1204.8 L2074.0,1232.3 L2072.0,1262.2 L2070.0,1295.6 L2068.0,1323.2 L2066.0,1345.8 L2064.0,1360.0 L2062.0,1356.4 L2060.0,1350.1 L2058.0,1345.2 L2056.0,1336.1 L2054.0,1324.5 L2052.0,1314.8 L2050.0,1306.7 L2048.0,1301.4 L2046.0,1309.1 L2044.0,1320.3 L2042.0,1334.8 L2040.0,1323.7 L2038.0,1301.8 L2036.0,1276.5 L2034.0,1256.5 L2032.0,1261.6 L2030.0,1275.1 L2028.0,1286.9 L2026.0,1262.3 L2024.0,1234.5 L2022.0,1204.6 L2020.0,1172.1 L2018.0,1139.6 L2016.0,1108.3 L2014.0,1079.7 L2012.0,1056.5 L2010.0,1037.5 L2008.0,1022.0 L2006.0,1008.2 L2004.0,995.1 L2002.0,994.8 L2000.0,1000.8 L1998.0,1006.0 L1996.0,1004.6 L1994.0,997.4 L1992.0,988.5 L1990.0,982.3 L1988.0,975.6 L1986.0,967.7 L1984.0,954.2 L1982.0,936.5 L1980.0,918.0 L1978.0,889.4 L1976.0,858.9 L1974.0,831.1 L1972.0,806.5 L1970.0,788.5 L1968.0,787.5 L1966.0,787.6 L1964.0,788.5 L1962.0,788.5 L1960.0,786.4 L1958.0,778.0 L1956.0,759.4 L1954.0,736.4 L1952.0,720.1 L1950.0,710.8 L1948.0,712.4 L1946.0,725.9 L1944.0,741.7 L1942.0,755.9 L1940.0,769.6 L1938.0,775.2 L1936.0,775.1 L1934.0,769.2 L1932.0,760.1 L1930.0,745.3 L1928.0,726.4 L1926.0,692.5 L1924.0,652.3 L1922.0,616.7 L1920.0,589.5 L1918.0,586.7 L1916.0,594.6 L1914.0,610.2 L1912.0,625.7 L1910.0,647.8 L1908.0,672.9 L1906.0,699.6 L1904.0,705.7 L1902.0,704.7 L1900.0,698.1 L1898.0,684.8 L1896.0,672.2 L1894.0,656.3 L1892.0,631.7 L1890.0,602.1 L1888.0,572.9 L1886.0,550.6 L1884.0,552.8 L1882.0,558.3 L1880.0,564.3 L1878.0,563.6 L1876.0,562.4 L1874.0,564.8 L1872.0,576.4 L1870.0,575.3 L1868.0,569.2 L1866.0,551.9 L1864.0,531.0 L1862.0,519.0 L1860.0,519.7 L1858.0,523.4 L1856.0,531.8 L1854.0,549.2 L1852.0,576.6 L1850.0,588.0 L1848.0,573.7 L1846.0,576.1 L1844.0,588.5 L1842.0,617.0 L1840.0,647.9 L1838.0,678.7 L1836.0,706.1 L1834.0,732.6 L1832.0,728.2 L1830.0,729.2 L1828.0,737.3 L1826.0,741.0 L1824.0,741.0 L1822.0,737.7 L1820.0,735.5 L1818.0,735.6 L1816.0,733.0 L1814.0,728.0 L1812.0,706.8 L1810.0,691.9 L1808.0,694.9 L1806.0,690.9 L1804.0,683.9 L1802.0,687.9 L1800.0,694.0 L1798.0,703.0 L1796.0,717.8 L1794.0,737.2 L1792.0,756.2 L1790.0,774.8 L1788.0,792.1 L1786.0,797.0 L1784.0,784.5 L1782.0,763.3 L1780.0,745.6 L1778.0,763.1 L1776.0,775.8 L1774.0,783.0 L1772.0,789.7 L1770.0,795.6 L1768.0,801.3 L1766.0,808.3 L1764.0,815.6 L1762.0,828.5 L1760.0,845.4 L1758.0,871.0 L1756.0,899.0 L1754.0,928.2 L1752.0,960.2 L1750.0,990.2 L1748.0,1022.4 L1746.0,1029.8 L1744.0,1027.8 L1742.0,1024.3 L1740.0,1032.6 L1738.0,1051.8 L1736.0,1070.2 L1734.0,1090.8 L1732.0,1113.0 L1730.0,1139.6 L1728.0,1162.9 L1726.0,1187.2 L1724.0,1211.7 L1722.0,1233.4 L1720.0,1254.6 L1718.0,1289.1 L1716.0,1311.1 L1714.0,1320.2 L1712.0,1312.8 L1710.0,1322.5 L1708.0,1339.8 L1706.0,1361.1 L1704.0,1383.2 L1702.0,1405.9 L1700.0,1410.5 L1698.0,1408.9 L1696.0,1406.9 L1694.0,1404.0 L1692.0,1401.3 L1690.0,1398.0 L1688.0,1395.0 L1686.0,1388.5 L1684.0,1374.7 L1682.0,1360.4 L1680.0,1343.0 L1678.0,1328.5 L1676.0,1312.0 L1674.0,1289.8 L1672.0,1273.9 L1670.0,1265.9 L1668.0,1250.0 L1666.0,1231.7 L1664.0,1210.3 L1662.0,1189.6 L1660.0,1175.9 L1658.0,1163.9 L1656.0,1155.9 L1654.0,1149.4 L1652.0,1146.9 L1650.0,1149.1 L1648.0,1151.5 L1646.0,1158.1 L1644.0,1166.3 L1642.0,1191.8 L1640.0,1221.9 L1638.0,1251.0 L1636.0,1277.8 L1634.0,1304.6 L1632.0,1324.9 L1630.0,1344.9 L1628.0,1370.7 L1626.0,1400.7 L1624.0,1430.9 L1622.0,1462.1 L1620.0,1493.3 L1618.0,1528.9 L1616.0,1565.3 L1614.0,1599.5 L1612.0,1634.4 L1610.0,1636.4 L1608.0,1631.4 L1606.0,1620.9 L1604.0,1610.4 L1602.0,1622.5 L1600.0,1636.5 L1598.0,1635.4 L1596.0,1622.0 L1594.0,1612.6 L1592.0,1620.4 L1590.0,1628.3 L1588.0,1630.1 L1586.0,1630.5 L1584.0,1626.4 L1582.0,1616.4 L1580.0,1608.1 L1578.0,1623.1 L1576.0,1638.2 L1574.0,1640.8 L1572.0,1638.0 L1570.0,1641.0 L1568.0,1656.1 L1566.0,1671.1 L1564.0,1660.5 L1562.0,1648.7 L1560.0,1650.9 L1558.0,1663.3 L1556.0,1676.4 L1554.0,1692.0 L1552.0,1707.6 L1550.0,1702.4 L1548.0,1693.2 L1546.0,1689.1 L1544.0,1690.7 L1542.0,1691.4 L1540.0,1685.6 L1538.0,1680.1 L1536.0,1680.0 L1534.0,1681.8 L1532.0,1684.0 L1530.0,1686.3 L1528.0,1689.0 L1526.0,1694.0 L1524.0,1698.6 L1522.0,1684.7 L1520.0,1659.2 L1518.0,1631.6 L1516.0,1609.2 L1514.0,1586.7 L1512.0,1570.0 L1510.0,1549.8 L1508.0,1530.9 L1506.0,1517.7 L1504.0,1504.1 L1502.0,1476.4 L1500.0,1447.2 L1498.0,1424.8 L1496.0,1406.7 L1494.0,1395.5 L1492.0,1383.5 L1490.0,1373.6 L1488.0,1366.9 L1486.0,1363.5 L1484.0,1373.4 L1482.0,1383.7 L1480.0,1398.7 L1478.0,1413.8 L1476.0,1441.7 L1474.0,1475.5 L1472.0,1501.0 L1470.0,1520.6 L1468.0,1540.1 L1466.0,1556.8 L1464.0,1573.3 L1462.0,1585.5 L1460.0,1594.3 L1458.0,1603.3 L1456.0,1613.2 L1454.0,1623.0 L1452.0,1637.1 L1450.0,1652.1 L1448.0,1665.1 L1446.0,1676.2 L1444.0,1688.0 L1442.0,1709.6 L1440.0,1731.8 L1438.0,1752.1 L1436.0,1766.5 L1434.0,1773.3 L1432.0,1765.3 L1430.0,1757.2 L1428.0,1768.7 L1426.0,1780.8 L1424.0,1795.7 L1422.0,1810.5 L1420.0,1824.8 L1418.0,1829.3 L1416.0,1815.4 L1414.0,1792.8 L1412.0,1759.2 L1410.0,1725.6 L1408.0,1692.0 L1406.0,1663.8 L1404.0,1639.8 L1402.0,1613.6 L1400.0,1585.5 L1398.0,1560.6 L1396.0,1552.5 L1394.0,1543.5 L1392.0,1528.5 L1390.0,1512.8 L1388.0,1499.8 L1386.0,1494.5 L1384.0,1498.2 L1382.0,1512.6 L1380.0,1526.6 L1378.0,1528.5 L1376.0,1523.0 L1374.0,1520.9 L1372.0,1527.9 L1370.0,1536.4 L1368.0,1546.2 L1366.0,1546.3 L1364.0,1533.1 L1362.0,1516.4 L1360.0,1499.8 L1358.0,1483.1 L1356.0,1466.7 L1354.0,1450.8 L1352.0,1437.2 L1350.0,1424.3 L1348.0,1419.8 L1346.0,1425.1 L1344.0,1438.2 L1342.0,1454.7 L1340.0,1474.1 L1338.0,1489.1 L1336.0,1501.8 L1334.0,1511.9 L1332.0,1530.0 L1330.0,1552.0 L1328.0,1575.4 L1326.0,1605.9 L1324.0,1640.4 L1322.0,1674.1 L1320.0,1704.4 L1318.0,1715.1 L1316.0,1711.7 L1314.0,1711.1 L1312.0,1722.5 L1310.0,1734.4 L1308.0,1745.2 L1306.0,1756.0 L1304.0,1769.0 L1302.0,1782.3 L1300.0,1800.6 L1298.0,1819.4 L1296.0,1844.3 L1294.0,1872.4 L1292.0,1892.0 L1290.0,1896.9 L1288.0,1904.3 L1286.0,1921.8 L1284.0,1934.2 L1282.0,1928.2 L1280.0,1916.2 L1278.0,1900.5 L1276.0,1885.3 L1274.0,1871.1 L1272.0,1857.0 L1270.0,1841.5 L1268.0,1816.6 L1266.0,1792.4 L1264.0,1775.6 L1262.0,1760.5 L1260.0,1749.1 L1258.0,1740.8 L1256.0,1728.3 L1254.0,1699.5 L1252.0,1672.7 L1250.0,1648.8 L1248.0,1626.6 L1246.0,1604.0 L1244.0,1580.8 L1242.0,1557.0 L1240.0,1533.8 L1238.0,1512.9 L1236.0,1503.5 L1234.0,1499.1 L1232.0,1489.0 L1230.0,1463.5 L1228.0,1438.0 L1226.0,1422.6 L1224.0,1409.3 L1222.0,1403.7 L1220.0,1409.2 L1218.0,1414.5 L1216.0,1416.7 L1214.0,1418.9 L1212.0,1417.5 L1210.0,1414.3 L1208.0,1413.4 L1206.0,1418.3 L1204.0,1423.2 L1202.0,1432.4 L1200.0,1441.9 L1198.0,1450.8 L1196.0,1456.2 L1194.0,1455.2 L1192.0,1421.3 L1190.0,1382.3 L1188.0,1347.1 L1186.0,1314.8 L1184.0,1282.9 L1182.0,1256.0 L1180.0,1236.6 L1178.0,1225.1 L1176.0,1229.7 L1174.0,1245.6 L1172.0,1264.0 L1170.0,1284.9 L1168.0,1302.9 L1166.0,1317.4 L1164.0,1328.7 L1162.0,1337.7 L1160.0,1346.2 L1158.0,1353.8 L1156.0,1361.1 L1154.0,1376.5 L1152.0,1399.1 L1150.0,1417.4 L1148.0,1434.2 L1146.0,1445.7 L1144.0,1453.4 L1142.0,1468.4 L1140.0,1484.4 L1138.0,1495.2 L1136.0,1500.9 L1134.0,1506.6 L1132.0,1514.1 L1130.0,1522.2 L1128.0,1530.3 L1126.0,1534.8 L1124.0,1539.2 L1122.0,1557.3 L1120.0,1584.5 L1118.0,1594.0 L1116.0,1592.9 L1114.0,1591.7 L1112.0,1587.7 L1110.0,1577.7 L1108.0,1567.7 L1106.0,1559.7 L1104.0,1555.1 L1102.0,1550.6 L1100.0,1530.9 L1098.0,1534.3 L1096.0,1539.1 L1094.0,1546.6 L1092.0,1556.9 L1090.0,1563.6 L1088.0,1555.7 L1086.0,1546.2 L1084.0,1543.1 L1082.0,1545.8 L1080.0,1543.5 L1078.0,1529.2 L1076.0,1513.2 L1074.0,1493.2 L1072.0,1475.6 L1070.0,1477.4 L1068.0,1491.7 L1066.0,1505.1 L1064.0,1516.5 L1062.0,1518.2 L1060.0,1511.1 L1058.0,1501.1 L1056.0,1489.5 L1054.0,1485.1 L1052.0,1497.6 L1050.0,1508.9 L1048.0,1519.4 L1046.0,1531.2 L1044.0,1547.4 L1042.0,1563.3 L1040.0,1578.8 L1038.0,1594.2 L1036.0,1609.5 L1034.0,1625.0 L1032.0,1644.3 L1030.0,1666.3 L1028.0,1670.9 L1026.0,1648.5 L1024.0,1629.3 L1022.0,1620.2 L1020.0,1614.8 L1018.0,1615.5 L1016.0,1606.9 L1014.0,1579.8 L1012.0,1555.5 L1010.0,1536.5 L1008.0,1516.7 L1006.0,1495.4 L1004.0,1466.7 L1002.0,1436.4 L1000.0,1421.8 L998.0,1418.6 L996.0,1411.7 L994.0,1402.0 L992.0,1409.8 L990.0,1434.3 L988.0,1456.6 L986.0,1475.3 L984.0,1493.1 L982.0,1510.9 L980.0,1527.9 L978.0,1549.6 L976.0,1560.7 L974.0,1558.6 L972.0,1555.3 L970.0,1537.4 L968.0,1519.9 L966.0,1508.2 L964.0,1496.5 L962.0,1486.4 L960.0,1476.3 L958.0,1475.6 L956.0,1493.1 L954.0,1520.0 L952.0,1552.0 L950.0,1584.6 L948.0,1611.7 L946.0,1630.6 L944.0,1627.6 L942.0,1621.5 L940.0,1608.8 L938.0,1590.6 L936.0,1572.8 L934.0,1557.4 L932.0,1537.5 L930.0,1507.3 L928.0,1476.9 L926.0,1456.5 L924.0,1440.4 L922.0,1433.9 L920.0,1433.1 L918.0,1433.3 L916.0,1434.0 L914.0,1445.3 L912.0,1456.5 L910.0,1467.7 L908.0,1478.8 L906.0,1486.6 L904.0,1492.5 L902.0,1496.8 L900.0,1496.8 L898.0,1503.1 L896.0,1508.1 L894.0,1512.8 L892.0,1523.5 L890.0,1552.8 L888.0,1563.7 L886.0,1558.4 L884.0,1554.0 L882.0,1552.0 L880.0,1543.7 L878.0,1534.2 L876.0,1520.0 L874.0,1507.3 L872.0,1503.9 L870.0,1505.1 L868.0,1505.2 L866.0,1520.5 L864.0,1546.7 L862.0,1574.8 L860.0,1605.5 L858.0,1630.5 L856.0,1643.8 L854.0,1658.8 L852.0,1677.9 L850.0,1679.8 L848.0,1629.2 L846.0,1598.6 L844.0,1572.7 L842.0,1546.6 L840.0,1522.1 L838.0,1499.4 L836.0,1472.6 L834.0,1456.7 L832.0,1461.4 L830.0,1471.0 L828.0,1482.0 L826.0,1487.6 L824.0,1486.5 L822.0,1475.2 L820.0,1449.4 L818.0,1424.6 L816.0,1415.2 L814.0,1405.9 L812.0,1394.6 L810.0,1378.8 L808.0,1363.7 L806.0,1348.8 L804.0,1333.3 L802.0,1317.7 L800.0,1305.1 L798.0,1295.5 L796.0,1287.2 L794.0,1283.4 L792.0,1282.9 L790.0,1286.3 L788.0,1291.0 L786.0,1297.0 L784.0,1310.9 L782.0,1332.4 L780.0,1359.8 L778.0,1379.2 L776.0,1385.9 L774.0,1388.2 L772.0,1392.2 L770.0,1404.4 L768.0,1421.1 L766.0,1439.1 L764.0,1456.8 L762.0,1471.1 L760.0,1478.8 L758.0,1488.1 L756.0,1502.2 L754.0,1517.0 L752.0,1528.1 L750.0,1544.8 L748.0,1599.3 L746.0,1660.7 L744.0,1705.2 L742.0,1734.1 L740.0,1762.0 L738.0,1777.2 L736.0,1760.9 L734.0,1748.6 L732.0,1737.8 L730.0,1732.2 L728.0,1728.6 L726.0,1734.7 L724.0,1736.9 L722.0,1736.6 L720.0,1734.3 L718.0,1715.4 L716.0,1700.6 L714.0,1702.6 L712.0,1708.4 L710.0,1714.7 L708.0,1722.4 L706.0,1730.8 L704.0,1740.8 L702.0,1744.8 L700.0,1745.2 L698.0,1728.3 L696.0,1710.2 L694.0,1678.7 L692.0,1637.0 L690.0,1625.5 L688.0,1638.4 L686.0,1643.9 L684.0,1640.8 L682.0,1635.7 L680.0,1628.7 L678.0,1617.4 L676.0,1572.4 L674.0,1534.1 L672.0,1512.5 L670.0,1518.2 L668.0,1529.2 L666.0,1540.7 L664.0,1551.1 L662.0,1522.7 L660.0,1494.3 L658.0,1473.5 L656.0,1452.7 L654.0,1467.0 L652.0,1482.3 L650.0,1487.7 L648.0,1486.7 L646.0,1481.6 L644.0,1463.9 L642.0,1444.4 L640.0,1418.4 L638.0,1409.5 L636.0,1416.0 L634.0,1434.1 L632.0,1451.6 L630.0,1453.0 L628.0,1454.3 L626.0,1460.9 L624.0,1469.7 L622.0,1493.4 L620.0,1519.5 L618.0,1512.7 L616.0,1493.7 L614.0,1483.0 L612.0,1475.8 L610.0,1469.0 L608.0,1462.1 L606.0,1459.1 L604.0,1458.2 L602.0,1445.7 L600.0,1426.1 L598.0,1408.2 L596.0,1392.1 L594.0,1380.2 L592.0,1372.4 L590.0,1368.0 L588.0,1381.4 L586.0,1398.8 L584.0,1419.1 L582.0,1414.1 L580.0,1397.6 L578.0,1386.5 L576.0,1367.8 L574.0,1358.1 L572.0,1356.8 L570.0,1354.4 L568.0,1350.7 L566.0,1328.6 L564.0,1309.7 L562.0,1296.3 L560.0,1283.0 L558.0,1284.7 L556.0,1286.4 L554.0,1275.9 L552.0,1264.8 L550.0,1258.5 L548.0,1254.1 L546.0,1262.8 L544.0,1271.3 L542.0,1261.2 L540.0,1249.3 L538.0,1259.7 L536.0,1273.6 L534.0,1292.3 L532.0,1311.8 L530.0,1327.9 L528.0,1340.2 L526.0,1363.1 L524.0,1402.0 L522.0,1439.2 L520.0,1455.8 L518.0,1472.5 L516.0,1480.0 L514.0,1483.7 L512.0,1479.1 L510.0,1464.1 L508.0,1445.3 L506.0,1441.2 L504.0,1442.8 L502.0,1450.1 L500.0,1457.7 L498.0,1463.0 L496.0,1466.7 L494.0,1473.3 L492.0,1474.7 L490.0,1476.0 L488.0,1480.5 L486.0,1485.0 L484.0,1489.3 L482.0,1493.6 L480.0,1498.5 L478.0,1507.2 L476.0,1515.9 L474.0,1524.6 L472.0,1533.4 L470.0,1812.9 L468.0,2363.1 Z" fill="#2a2eec" fill-opacity="0.4" stroke="#2a2eec" stroke-opacity="0.4" stroke-width="5.56" stroke-linejoin="round"/><path d="M468.0,2002.0 L470.5,1760.0 L472.2,1643.2 L474.9,1575.7 L480.3,1555.4 L483.6,1481.1 L490.4,1477.7 L493.8,1460.8 L497.2,1454.1 L503.9,1430.4 L507.3,1440.5 L512.7,1481.1 L517.4,1460.8 L522.2,1359.5 L525.5,1349.3 L528.9,1359.5 L535.7,1271.6 L539.7,1308.8 L544.5,1312.2 L547.8,1329.1 L554.6,1318.9 L560.0,1313.5 L564.7,1322.3 L569.5,1359.5 L573.5,1379.7 L576.2,1345.9 L580.3,1427.0 L583.6,1457.4 L588.4,1373.0 L592.4,1386.5 L595.8,1345.9 L599.2,1447.3 L603.2,1477.7 L606.6,1447.3 L610.0,1484.5 L614.1,1467.6 L618.8,1585.8 L622.2,1487.8 L626.2,1474.3 L630.3,1481.1 L634.3,1433.8 L639.1,1474.3 L645.8,1494.6 L651.2,1511.5 L655.9,1467.6 L659.3,1494.6 L662.7,1558.8 L667.4,1518.2 L670.8,1514.9 L674.9,1592.6 L678.2,1595.9 L683.0,1555.4 L686.4,1582.4 L690.4,1545.3 L695.1,1636.5 L698.5,1666.9 L701.9,1683.8 L705.9,1616.2 L710.0,1670.3 L714.1,1585.8 L717.4,1565.5 L721.5,1656.8 L726.9,1666.9 L731.6,1683.8 L737.7,1748.0 L742.4,1663.5 L745.8,1575.7 L750.5,1486.5 L757.3,1491.2 L761.4,1521.6 L766.1,1535.1 L770.8,1494.6 L774.9,1454.1 L778.9,1427.0 L783.0,1359.5 L786.4,1315.5 L791.1,1315.5 L793.8,1241.2 L796.5,1278.4 L799.2,1312.2 L802.6,1302.0 L805.9,1332.4 L809.3,1359.5 L814.1,1383.1 L818.1,1386.5 L821.5,1491.2 L824.9,1433.8 L828.9,1460.8 L833.6,1433.8 L837.0,1393.2 L841.1,1481.1 L843.8,1568.9 L846.5,1626.4 L850.5,1633.1 L854.6,1609.5 L858.6,1606.1 L862.0,1548.6 L865.4,1464.2 L868.8,1504.7 L872.2,1487.8 L876.2,1460.8 L880.9,1454.1 L885.7,1508.1 L889.7,1552.0 L893.1,1491.2 L897.2,1494.6 L900.5,1470.9 L904.6,1450.7 L908.0,1481.1 L912.0,1423.6 L916.8,1359.5 L920.1,1400.0 L923.5,1383.1 L927.6,1400.0 L931.6,1487.8 L936.4,1521.6 L939.7,1555.4 L943.8,1545.3 L947.8,1545.3 L951.9,1474.3 L956.6,1433.8 L961.4,1440.5 L966.8,1443.9 L970.1,1481.1 L972.2,1541.9 L975.5,1484.5 L978.9,1528.4 L982.3,1521.6 L985.7,1440.5 L989.1,1403.4 L993.8,1410.1 L997.2,1366.2 L1000.5,1406.8 L1005.9,1406.8 L1010.7,1474.3 L1012.7,1514.9 L1017.4,1528.4 L1020.8,1565.5 L1026.2,1565.5 L1029.6,1606.1 L1033.0,1568.9 L1037.7,1538.5 L1042.4,1552.0 L1046.5,1457.4 L1051.2,1457.4 L1054.6,1413.5 L1058.0,1491.2 L1061.4,1454.1 L1065.4,1427.0 L1071.5,1400.0 L1074.9,1450.7 L1078.9,1440.5 L1083.0,1423.6 L1088.4,1548.6 L1093.1,1494.6 L1098.5,1423.6 L1101.9,1522.9 L1107.4,1475.5 L1112.1,1507.1 L1120.0,1554.5 L1123.2,1475.5 L1129.5,1455.7 L1135.9,1435.9 L1142.2,1360.8 L1145.3,1404.3 L1149.3,1412.2 L1153.2,1325.3 L1159.6,1313.4 L1165.1,1309.5 L1167.5,1329.2 L1171.4,1234.4 L1177.0,1254.1 L1180.9,1250.2 L1184.9,1269.9 L1188.8,1349.0 L1192.8,1420.1 L1196.7,1463.6 L1202.3,1424.1 L1207.0,1380.6 L1211.0,1412.2 L1216.5,1435.9 L1222.8,1404.3 L1226.8,1372.7 L1230.7,1432.0 L1236.2,1451.8 L1240.2,1483.4 L1244.2,1491.3 L1248.1,1578.2 L1252.1,1641.5 L1256.0,1605.9 L1260.0,1657.3 L1265.5,1665.2 L1270.2,1799.6 L1275.8,1839.1 L1282.1,1870.7 L1287.6,1874.7 L1294.0,1906.3 L1297.1,1839.1 L1301.9,1744.3 L1305.8,1688.9 L1309.8,1653.3 L1316.1,1677.1 L1321.6,1617.8 L1327.2,1562.4 L1332.7,1550.6 L1336.6,1439.9 L1341.4,1435.9 L1346.1,1404.3 L1350.9,1364.8 L1354.8,1404.3 L1360.4,1455.7 L1365.1,1522.9 L1369.9,1526.9 L1374.6,1483.4 L1380.9,1487.3 L1386.5,1515.0 L1392.0,1546.6 L1398.3,1625.7 L1402.3,1625.7 L1406.2,1688.9 L1410.2,1752.2 L1414.1,1712.6 L1417.3,1791.7 L1422.0,1736.4 L1426.0,1685.0 L1429.9,1681.0 L1434.7,1720.5 L1439.4,1641.5 L1444.2,1609.9 L1449.7,1530.8 L1455.2,1522.9 L1460.0,1483.4 L1464.7,1435.9 L1469.5,1372.7 L1473.4,1325.3 L1477.4,1396.4 L1481.3,1329.2 L1485.3,1356.9 L1490.0,1341.1 L1494.8,1396.4 L1499.5,1483.4 L1503.5,1503.1 L1509.0,1499.2 L1512.9,1562.4 L1516.9,1617.8 L1520.8,1633.6 L1524.8,1700.8 L1529.5,1692.9 L1534.3,1677.1 L1537.4,1688.9 L1542.2,1617.8 L1546.9,1685.0 L1550.1,1641.5 L1554.8,1578.2 L1559.6,1625.7 L1564.3,1602.0 L1568.3,1653.3 L1572.2,1602.0 L1576.2,1633.6 L1580.1,1582.2 L1584.9,1653.3 L1589.6,1609.9 L1594.4,1657.3 L1598.3,1625.7 L1602.3,1609.9 L1607.8,1641.5 L1611.8,1637.5 L1616.5,1586.1 L1621.2,1499.2 L1626.0,1435.9 L1630.7,1372.7 L1635.5,1277.8 L1639.4,1250.2 L1643.4,1246.2 L1648.1,1151.4 L1652.9,1167.2 L1656.0,1222.5 L1659.2,1194.8 L1663.9,1246.2 L1668.7,1266.0 L1673.4,1285.7 L1678.2,1301.6 L1682.9,1345.0 L1686.9,1412.2 L1690.8,1424.1 L1695.6,1428.0 L1699.5,1467.6 L1702.9,1425.0 L1706.2,1401.4 L1710.0,1380.1 L1714.7,1380.1 L1718.0,1344.6 L1721.4,1306.8 L1724.2,1278.4 L1726.6,1231.1 L1731.3,1164.9 L1734.6,1145.9 L1737.9,1127.0 L1740.3,1089.2 L1742.6,1041.9 L1745.9,1041.9 L1748.8,1060.8 L1752.1,1041.9 L1753.5,994.6 L1755.4,947.3 L1757.3,892.7 L1762.0,885.6 L1765.3,869.1 L1768.6,859.6 L1772.4,843.0 L1777.2,802.8 L1781.9,824.1 L1786.6,783.9 L1790.4,750.8 L1794.2,722.4 L1798.4,705.9 L1801.8,717.7 L1805.5,722.4 L1809.3,694.1 L1813.1,677.5 L1816.9,684.6 L1820.7,670.4 L1824.5,668.0 L1827.3,691.7 L1829.2,651.5 L1833.0,646.8 L1835.3,623.1 L1838.6,604.2 L1842.0,582.9 L1845.7,578.2 L1849.5,566.4 L1851.9,542.7 L1855.2,523.8 L1858.5,514.3 L1861.4,464.7 L1864.2,490.7 L1867.0,504.9 L1870.3,530.9 L1873.2,471.8 L1876.5,514.3 L1879.8,514.3 L1883.1,519.1 L1885.9,469.4 L1889.3,495.4 L1892.6,523.8 L1895.9,554.5 L1899.2,561.6 L1901.1,599.5 L1903.0,608.9 L1905.8,604.2 L1908.6,523.8 L1910.5,514.3 L1914.3,519.1 L1918.1,538.0 L1920.9,571.1 L1923.8,580.5 L1926.1,585.3 L1928.5,618.4 L1930.9,665.7 L1933.2,727.2 L1936.1,703.5 L1938.9,689.3 L1942.7,675.1 L1946.5,670.4 L1949.8,684.6 L1953.1,750.8 L1956.9,774.5 L1959.7,798.1 L1961.6,821.8 L1964.5,788.6 L1967.3,788.6 L1970.1,798.1 L1973.0,845.4 L1976.8,956.8 L1980.5,994.6 L1984.3,1027.7 L1987.6,1013.5 L1990.9,1001.7 L1995.7,994.6 L1999.5,1027.7 L2002.3,1037.2 L2005.6,1041.9 L2008.0,1127.0 L2011.3,1070.3 L2014.6,1079.7 L2017.0,1136.5 L2018.4,1193.2 L2020.7,1240.5 L2025.5,1240.5 L2028.8,1245.3 L2032.6,1216.9 L2035.4,1297.3 L2038.7,1297.3 L2042.0,1299.7 L2045.8,1311.5 L2049.1,1299.7 L2052.9,1292.6 L2056.2,1339.9 L2060.0,1415.5 L2063.3,1396.6 L2068.0,1368.2 L2071.4,1311.5 L2074.2,1259.5 L2076.1,1214.5 L2078.9,1212.2 L2082.2,1240.5 L2084.6,1195.6 L2087.0,1231.1 L2089.3,1276.0 L2093.1,1259.5 L2096.4,1226.4 L2099.7,1316.2 L2102.6,1306.8 L2105.9,1297.3 L2109.7,1302.0 L2113.0,1306.8 L2116.8,1344.6 L2120.1,1306.8 L2122.4,1259.5 L2124.8,1221.6 L2127.2,1250.0 L2129.5,1278.4 L2134.3,1287.8 L2136.6,1349.3 L2141.4,1349.3 L2146.1,1377.7 L2149.9,1401.4 L2152.2,1453.4 L2154.6,1500.7 L2157.0,1543.2 L2162.8,1594.6 L2165.9,1645.3 L2169.4,1635.1 L2173.5,1635.1 L2176.0,1685.8 L2178.5,1731.4 L2181.1,1756.8 L2185.1,1766.9 L2188.7,1609.8 L2192.2,1680.7 L2195.3,1772.0 L2198.8,1756.8 L2202.4,1706.1 L2206.4,1655.4 L2209.0,1635.1 L2212.5,1599.7 L2215.5,1625.0 L2219.1,1609.8 L2221.6,1630.1 L2224.7,1680.7 L2227.7,1726.4 L2231.8,1756.8 L2234.8,1792.2 L2237.8,1777.0 L2240.9,1792.2 L2244.4,1853.0 L2248.0,1756.8 L2251.0,1665.5 L2254.6,1614.9 L2258.1,1614.9 L2261.1,1564.2 L2264.2,1503.4 L2267.2,1452.7 L2271.3,1417.2 L2274.8,1442.6 L2279.5,1439.9 L2283.2,1397.3 L2286.6,1340.5 L2288.9,1345.3 L2291.8,1392.6 L2294.6,1383.1 L2297.4,1392.6 L2300.7,1473.0 L2302.2,1529.7 L2305.5,1553.4 L2310.2,1558.1 L2313.5,1581.8 L2317.3,1605.4 L2321.1,1629.1 L2324.4,1648.0 L2326.8,1655.1 L2330.5,1614.9 L2333.9,1633.8 L2337.2,1648.0 L2340.9,1652.7 L2343.8,1662.2 L2345.7,1768.2 L2349.5,1763.5 L2354.2,1765.9 L2358.9,1761.1 L2362.7,1668.9 L2366.0,1749.3 L2370.3,1742.2 L2374.1,1735.1 L2378.8,1730.4 L2382.6,1697.3 L2384.5,1657.4 L2385.9,1668.9 L2388.2,1655.1 L2392.0,1676.4 L2393.9,1614.9 L2397.7,1603.0 L2400.5,1614.9 L2403.4,1633.8 L2406.2,1633.8 L2409.1,1553.4 L2411.9,1510.8 L2414.7,1508.4 L2417.6,1553.4 L2420.4,1501.4 L2423.7,1501.4 L2427.5,1510.8 L2430.8,1484.8 L2434.1,1487.2 L2436.5,1591.2 L2439.3,1581.8 L2442.2,1553.4 L2445.9,1600.7 L2449.7,1629.1 L2453.5,1629.1 L2456.4,1581.8 L2459.2,1577.0 L2463.0,1567.6 L2465.8,1508.4 L2468.6,1513.2 L2472.4,1515.5 L2475.3,1567.6 L2478.1,1614.9 L2481.4,1652.7 L2483.8,1657.1 L2485.2,1655.1 L2488.5,1633.8 L2492.3,1591.2 L2496.1,1543.9 L2498.9,1515.5 L2501.8,1510.8 L2504.6,1496.6 L2506.5,1480.1 L2510.3,1508.4 L2513.1,1487.2 L2515.9,1558.1 L2518.8,1614.9 L2521.6,1662.2 L2525.4,1711.5 L2528.2,1737.5 L2532.5,1739.9 L2537.2,1749.3 L2540.5,1815.5 L2542.0,1877.0 L2545.3,1872.3 L2548.1,1952.7 L2551.4,2000.0 L2553.8,2007.1 L2557.1,1981.1 L2560.9,1914.9 L2565.6,1881.8 L2568.9,1981.1 L2572.7,2066.2 L2576.5,2141.9 L2579.8,2130.1 L2582.2,2141.9 L2585.0,2191.6 L2587.8,2123.0 L2590.7,2066.2 L2593.5,2009.5 L2596.4,1957.4 L2599.2,1905.4 L2603.4,1891.2 L2608.2,1881.8 L2611.5,1900.7 L2614.3,1952.7 L2617.2,2000.0 L2620.0,1943.2 L2622.8,1862.8 L2625.7,1791.9 L2629.5,1720.9 L2633.2,1664.2 L2635.1,1614.9 L2638.9,1525.0 L2642.7,1520.3 L2646.5,1517.9 L2649.3,1525.0 L2653.1,1491.9 L2656.9,1501.4 L2660.2,1525.0 L2663.5,1473.0 L2666.4,1425.7 L2669.2,1392.6 L2672.0,1411.5 L2674.9,1458.8 L2677.7,1468.2 L2681.5,1473.0 L2685.3,1496.6 L2688.6,1543.9 L2691.9,1567.6 L2694.3,1581.8 L2695.7,1683.1 L2698.0,1720.9 L2701.4,1730.4 L2705.1,1720.9 L2708.0,1763.5 L2710.8,1730.4 L2713.6,1801.4 L2716.5,1858.1 L2719.3,1860.5 L2723.1,1877.0 L2726.4,1825.0 L2729.7,1773.0 L2733.5,1725.7 L2738.2,1720.9 L2743.0,1720.9 L2746.8,1725.7 L2750.1,1744.6 L2752.4,1720.9 L2754.8,1697.3 L2758.1,1662.2 L2761.9,1643.2 L2765.7,1638.5 L2769.0,1643.2 L2772.3,1614.9 L2776.1,1591.2 L2779.9,1614.9 L2783.2,1662.2 L2787.9,1720.9 L2791.2,1709.1 L2795.0,1732.8 L2797.8,1716.2 L2800.7,1678.4 L2802.6,1595.9 L2806.4,1581.8 L2810.1,1567.6 L2813.9,1562.8 L2816.8,1567.6 L2819.6,1614.9 L2822.4,1638.5 L2826.2,1657.4 L2830.0,1666.9 L2833.8,1676.4 L2836.1,1676.0 L2837.6,1662.2 L2841.4,1638.5 L2844.7,1629.1 L2848.0,1610.1 L2851.8,1577.0 L2855.5,1567.6 L2858.4,1586.5 L2861.2,1610.1 L2864.1,1610.1 L2866.9,1662.2 L2870.7,1676.4 L2873.0,1687.8 L2875.4,1808.4 L2880.1,1744.6 L2883.9,1706.8 L2887.2,1716.2 L2890.5,1737.5 L2893.4,1614.9 L2896.7,1581.8 L2900.5,1558.1 L2903.8,1548.6 L2907.6,1539.2 L2909.9,1534.5 L2913.5,1425.9 L2917.3,1417.8 L2920.5,1453.0 L2923.2,1466.5 L2927.0,1415.1 L2931.4,1404.3 L2935.7,1404.3 L2938.9,1371.9 L2943.2,1350.3 L2946.5,1377.3 L2949.7,1334.1 L2951.9,1285.4 L2955.1,1339.5 L2958.4,1415.1 L2962.2,1501.6 L2964.9,1539.5 L2967.6,1566.5 L2971.4,1539.5 L2975.7,1501.6 L2980.0,1447.6 L2983.8,1453.0 L2987.6,1485.4 L2990.8,1501.6 L2994.1,1566.5 L2997.3,1528.6 L3001.1,1531.4 L3004.3,1550.3 L3008.1,1544.9 L3011.4,1480.0 L3014.6,1409.7 L3017.8,1355.7 L3021.1,1404.3 L3024.3,1409.7 L3027.6,1361.1 L3030.8,1353.0 L3035.1,1355.7 L3038.4,1398.9 L3042.7,1398.9 L3045.9,1398.9 L3049.2,1350.3 L3052.4,1382.7 L3055.7,1458.4 L3058.9,1447.6 L3061.1,1512.4 L3064.3,1539.5 L3068.6,1512.4 L3071.9,1539.5 L3074.1,1598.9 L3077.3,1598.9 L3080.5,1658.4 L3083.8,1666.5 L3087.0,1663.8 L3090.3,1604.3 L3093.5,1666.5 L3097.3,1631.4 L3101.1,1609.7 L3104.3,1566.5 L3107.6,1458.4 L3109.7,1355.7 L3113.5,1334.1 L3117.3,1312.4 L3120.5,1280.0 L3124.3,1280.0 L3128.1,1274.6 L3131.4,1242.2 L3133.5,1204.3 L3136.8,1188.1 L3140.5,1156.8 L3143.0,1136.5 L3145.4,1124.3 L3147.8,1083.8 L3149.5,1047.3 L3151.9,1063.5 L3153.9,1083.8 L3156.8,1063.5 L3159.2,1079.7 L3161.6,1091.9 L3164.9,1087.8 L3168.1,1079.7 L3170.9,1075.7 L3173.0,1027.0 L3177.0,1010.8 L3179.1,986.5 L3181.9,982.4 L3184.3,941.9 L3187.2,937.8 L3189.2,994.6 L3191.6,950.0 L3194.1,905.4 L3197.3,897.3 L3199.7,921.6 L3202.2,970.3 L3204.6,1002.7 L3207.4,962.2 L3210.3,913.5 L3213.5,905.4 L3215.9,954.1 L3218.4,945.9 L3221.6,921.6 L3224.1,901.4 L3226.5,899.3 L3228.9,913.5 L3231.8,893.2 L3233.8,877.0 L3235.8,868.9 L3238.6,862.8 L3239.9,817.6 L3241.1,844.6 L3243.9,793.2 L3248.0,777.0 L3252.0,756.8 L3254.1,728.4 L3257.3,695.9 L3260.1,683.8 L3261.4,647.3 L3264.2,683.8 L3266.2,655.4 L3268.2,602.7 L3271.1,598.6 L3273.5,623.0 L3275.1,602.7 L3277.6,586.5 L3280.4,513.5 L3283.2,586.5 L3285.7,493.2 L3287.3,468.9 L3290.5,464.9 L3293.8,452.7 L3296.6,448.6 L3299.5,477.0 L3301.9,497.3 L3304.7,493.2 L3307.6,477.0 L3310.8,452.7 L3314.1,436.5 L3316.9,428.4 L3320.9,428.4 L3323.8,426.4 L3326.2,464.9 L3329.5,456.8 L3333.1,456.8 L3335.9,473.0 L3339.2,440.5 L3341.6,408.1 L3344.1,391.9 L3347.3,428.4 L3349.7,444.6 L3352.2,460.8 L3355.4,420.3 L3357.8,371.6 L3359.5,331.1 L3361.5,351.4 L3364.3,412.2 L3367.6,473.0 L3369.6,420.3 L3371.6,375.7 L3374.1,395.9 L3376.5,436.5 L3378.9,440.5 L3383.0,432.4 L3385.8,444.6 L3388.6,473.0 L3391.1,493.2 L3393.9,525.7 L3396.8,558.1 L3399.2,594.6 L3402.0,598.6 L3404.9,598.6 L3408.1,608.8 L3411.4,610.8 L3413.0,655.4 L3415.4,695.9 L3418.2,675.7 L3421.1,679.7 L3424.3,695.9 L3427.6,704.1 L3430.4,748.6 L3433.2,801.4 L3436.5,803.4 L3439.7,795.3 L3443.8,793.2 L3446.6,797.3 L3448.6,817.6 L3451.1,856.8 L3452.7,832.4 L3455.1,836.5 L3456.8,860.8 L3458.4,913.5 L3460.8,893.2 L3464.1,893.2 L3466.9,905.4 L3469.7,909.5 L3473.0,933.8 L3475.4,905.4 L3477.0,868.9 L3479.5,828.4 L3481.9,852.7 L3484.3,893.2 L3487.2,933.8 L3490.0,978.4 L3492.4,992.6 L3495.3,994.6 L3499.3,998.6 L3501.4,1043.2 L3503.8,1083.8 L3506.2,1059.5 L3508.6,1100.0 L3511.1,1136.5 L3513.5,1173.0 L3515.9,1213.5 L3518.4,1254.1 L3521.6,1229.7 L3524.9,1209.5 L3527.7,1221.6 L3530.5,1197.3 L3533.0,1225.7 L3535.4,1266.2 L3537.8,1205.4 L3540.3,1189.2 L3542.7,1201.4 L3545.9,1164.9 L3548.4,1152.7 L3550.8,1156.8 L3554.1,1189.2 L3557.3,1217.6 L3561.4,1217.6 L3564.2,1262.2 L3567.0,1306.8 L3569.5,1367.6 L3571.1,1383.8 L3573.5,1327.0 L3575.9,1318.9 L3578.4,1391.9 L3580.8,1327.0 L3583.2,1318.9 L3586.5,1320.9 L3588.9,1270.3 L3591.4,1266.2 L3594.6,1278.4 L3599.9,1286.5 L3601.5,1304.9 L3604.1,1335.1 L3606.7,1361.1 L3610.2,1369.7 L3613.6,1382.7 L3616.2,1430.3 L3618.8,1460.5 L3621.4,1378.4 L3624.9,1369.7 L3628.3,1361.1 L3631.4,1348.1 L3634.4,1335.1 L3637.0,1374.1 L3639.6,1404.3 L3642.2,1438.9 L3645.6,1443.2 L3648.6,1464.9 L3651.7,1523.5 L3655.1,1575.4 L3657.3,1555.7 L3658.6,1575.4 L3660.3,1551.4 L3662.1,1540.8 L3664.6,1623.0 L3668.1,1597.0 L3671.6,1592.7 L3674.6,1623.0 L3675.9,1499.5 L3677.6,1497.6 L3678.9,1495.1 L3680.2,1493.2 L3682.8,1527.8 L3684.5,1447.6 L3686.3,1443.2 L3688.9,1477.8 L3691.5,1499.5 L3694.1,1523.5 L3697.5,1523.5 L3701.0,1523.5 L3703.6,1456.2 L3706.2,1378.4 L3709.6,1361.1 L3713.1,1356.8 L3716.5,1352.4 L3719.1,1348.1 L3720.9,1304.9 L3723.5,1283.2 L3726.1,1278.9 L3728.6,1257.3 L3731.2,1253.0 L3734.7,1244.3 L3737.3,1157.8 L3740.8,1136.2 L3743.8,1110.3 L3745.9,1093.0 L3748.5,1097.3 L3751.1,1110.3 L3753.7,1118.9 L3756.3,1144.9 L3758.9,1179.5 L3761.5,1209.7 L3764.1,1175.1 L3766.7,1110.3 L3769.7,1075.7 L3772.8,1075.7 L3776.2,1088.6 L3779.7,1101.6 L3783.1,1118.9 L3786.6,1162.2 L3789.2,1205.4 L3791.8,1265.9 L3794.4,1309.2 L3797.0,1343.8 L3799.6,1374.1 L3802.2,1309.2 L3804.8,1265.9 L3807.4,1296.2 L3809.9,1352.4 L3812.5,1404.3 L3816.0,1404.3 L3818.6,1438.9 L3820.8,1486.5 L3822.1,1488.9 L3824.6,1536.5 L3827.2,1579.7 L3829.0,1623.0 L3831.6,1575.4 L3834.2,1536.5 L3837.6,1495.1 L3840.2,1473.5 L3843.7,1469.2 L3846.3,1417.3 L3848.9,1352.4 L3851.5,1291.9 L3854.1,1231.4 L3857.5,1222.7 L3860.5,1218.4 L3862.7,1166.5 L3865.3,1140.5 L3867.9,1162.2 L3870.5,1144.9 L3873.1,1127.6 L3875.7,1136.2 L3879.1,1149.2 L3882.2,1127.6 L3884.3,1101.6 L3886.9,1093.0 L3889.5,1101.6 L3891.2,1136.2 L3893.8,1101.6 L3896.4,1093.0 L3898.2,1136.2 L3900.8,1179.5 L3903.4,1248.6 L3905.9,1278.9 L3908.5,1309.2 L3911.1,1352.4 L3913.7,1395.7 L3916.3,1434.6 L3918.9,1404.3 L3921.5,1408.6 L3924.1,1417.3 L3926.7,1438.9 L3929.3,1434.6 L3931.9,1408.6 L3934.5,1438.9 L3937.1,1482.2 L3939.7,1553.8 L3942.3,1482.2 L3944.9,1438.9 L3947.5,1417.3 L3950.1,1352.4 L3952.6,1313.5 L3955.7,1317.8 L3958.7,1265.9 L3961.3,1222.7 L3963.9,1192.4 L3966.5,1188.1 L3969.1,1179.5 L3971.7,1166.5 L3974.3,1127.6 L3976.9,1114.6 L3979.5,1093.0 L3982.1,1049.7 L3984.6,1036.8 L3988.1,1015.1 L3991.6,997.8 L3994.2,1019.5 L3996.8,1045.4 L3999.4,1006.5 L4001.9,1006.5 L4005.4,1032.4 L4008.0,1023.8 L4010.6,1058.4 L4013.2,1088.6 L4015.8,1067.0 L4019.2,1075.7 L4022.7,1075.7 L4025.3,1101.6 L4027.9,1144.9 L4030.5,1188.1 L4033.1,1170.8 L4035.7,1114.6 L4038.3,1153.5 L4040.9,1093.0 L4043.5,1049.7 L4046.1,1062.7 L4048.6,1084.3 L4051.2,1097.3 L4053.8,1114.6 L4056.4,1127.6 L4059.0,1118.9 L4061.6,1144.9 L4064.2,1162.2 L4066.8,1153.5 L4069.4,1144.9 L4072.0,1136.2 L4074.6,1140.5 L4077.2,1162.2 L4078.9,1201.1 L4081.1,1257.3 L4083.2,1283.2 L4085.4,1231.4 L4087.6,1205.4 L4090.2,1287.6 L4092.8,1374.1 L4095.4,1438.9 L4098.8,1514.9 L4101.4,1527.8 L4104.0,1562.4 L4107.0,1601.4 L4109.2,1536.5 L4111.8,1523.5 L4114.4,1527.8 L4116.1,1438.9 L4118.7,1395.7 L4122.2,1395.7 L4124.8,1417.3 L4127.4,1438.9 L4130.8,1395.7 L4133.4,1309.2 L4136.0,1222.7 L4138.6,1136.2 L4141.2,1062.7 L4143.8,1023.8 L4146.4,1019.5 L4149.0,1028.1 L4151.6,1006.5 L4154.2,963.2 L4156.8,984.9 L4159.4,1006.5 L4161.9,1041.1 L4164.5,1036.8 L4167.1,1032.4 L4169.7,1049.7 L4172.3,1062.7 L4174.9,1080.0 L4178.4,1080.0 L4181.0,1136.2 L4183.6,1140.5 L4187.0,1140.5 L4189.6,1136.2 L4192.2,1144.9 L4195.7,1153.5 L4200.0,1162.2 L4202.5,1291.1 L4205.1,1278.1 L4207.7,1265.1 L4210.3,1255.4 L4212.3,1223.0 L4214.2,1151.6 L4216.5,1190.5 L4218.1,1232.7 L4220.7,1219.7 L4223.0,1190.5 L4225.2,1158.1 L4227.8,1151.6 L4230.4,1148.4 L4232.7,1154.9 L4235.0,1167.8 L4237.6,1180.8 L4240.2,1158.1 L4242.4,1138.6 L4244.7,1148.4 L4247.3,1167.8 L4249.9,1180.8 L4252.2,1141.9 L4254.4,1103.0 L4257.0,1070.5 L4259.6,1064.1 L4262.2,1060.8 L4264.8,1070.5 L4267.4,1080.3 L4270.0,1096.5 L4272.6,1103.0 L4275.2,1112.7 L4277.8,1128.9 L4279.7,1148.4 L4281.7,1167.8 L4284.3,1180.8 L4286.2,1184.1 L4288.2,1158.1 L4290.1,1135.4 L4292.7,1112.7 L4294.6,1109.5 L4297.2,1115.9 L4299.2,1154.9 L4301.1,1190.5 L4303.1,1190.5 L4305.7,1187.3 L4307.9,1206.8 L4309.6,1232.7 L4311.5,1193.8 L4313.5,1187.3 L4316.1,1219.7 L4318.0,1223.0 L4319.9,1128.9 L4321.9,1127.3 L4323.8,1135.4 L4325.8,1197.0 L4327.7,1141.9 L4329.7,1125.7 L4332.3,1128.9 L4334.2,1135.4 L4336.5,1122.4 L4338.1,1114.3 L4340.7,1119.2 L4343.3,1128.9 L4345.2,1161.4 L4347.2,1148.4 L4349.1,1135.4 L4351.1,1174.3 L4352.4,1239.2 L4355.0,1242.4 L4357.6,1232.7 L4359.5,1245.7 L4361.5,1261.9 L4364.1,1245.7 L4366.6,1223.0 L4369.2,1200.3 L4371.8,1177.6 L4374.4,1161.4 L4377.0,1154.9 L4379.0,1180.8 L4380.9,1213.2 L4382.9,1200.3 L4384.8,1167.8 L4386.8,1164.6 L4388.7,1171.1 L4390.6,1184.1 L4392.6,1193.8 L4394.9,1200.3 L4397.1,1203.5 L4399.1,1190.5 L4401.0,1174.3 L4403.0,1141.9 L4404.9,1090.0 L4406.9,1141.9 L4408.8,1187.3 L4410.8,1184.1 L4412.7,1141.9 L4415.3,1109.5 L4417.9,1109.5 L4420.5,1115.9 L4423.1,1122.4 L4425.7,1132.2 L4428.3,1145.1 L4430.9,1161.4 L4432.8,1174.3 L4435.4,1180.8 L4437.4,1177.6 L4439.3,1154.9 L4441.2,1161.4 L4443.2,1174.3 L4445.1,1171.1 L4447.1,1141.9 L4449.0,1125.7 L4451.0,1141.9 L4452.9,1174.3 L4454.9,1197.0 L4456.8,1203.5 L4458.8,1174.3 L4460.7,1132.2 L4462.6,1115.9 L4464.6,1106.2 L4467.2,1099.7 L4469.8,1103.0 L4471.7,1122.4 L4473.7,1148.4 L4475.6,1154.9 L4477.6,1135.4 L4479.5,1138.6 L4481.5,1161.4 L4483.4,1187.3 L4485.4,1184.1 L4487.9,1171.1 L4490.5,1145.1 L4493.1,1138.6 L4495.7,1154.9 L4498.3,1171.1 L4500.3,1177.6 L4502.9,1167.8 L4505.5,1161.4 L4508.1,1164.6 L4510.6,1158.1 L4512.6,1145.1 L4515.2,1141.9 L4517.1,1154.9 L4519.7,1219.7 L4521.7,1223.0 L4523.6,1213.2 L4525.6,1174.3 L4527.5,1135.4 L4530.1,1135.4 L4532.7,1145.1 L4535.3,1141.9 L4537.6,1132.2 L4539.2,1070.5 L4541.1,1054.3 L4543.1,1041.4 L4545.0,1044.6 L4547.0,1077.0 L4548.9,1115.9 L4550.9,1154.9 L4552.8,1164.6 L4554.8,1167.8 L4556.7,1167.8 L4558.6,1161.4 L4560.6,1148.4 L4562.5,1138.6 L4564.5,1135.4 L4566.4,1148.4 L4568.4,1161.4 L4570.3,1141.9 L4572.3,1141.9 L4574.2,1145.1 L4576.8,1141.9 L4578.8,1158.1 L4580.7,1190.5 L4582.6,1213.2 L4584.6,1216.5 L4586.5,1167.8 L4588.5,1141.9 L4590.4,1161.4 L4592.4,1184.1 L4594.3,1187.3 L4596.3,1180.8 L4598.2,1167.8 L4600.8,1163.0" fill="none" stroke="#000" stroke-width="8.33" stroke-linejoin="round" stroke-linecap="round"/></g><rect x="470" y="242" width="322" height="108" fill="#fafafa"/><rect x="4144.8" y="215.8" width="155.4" height="55.6" fill="#2a2eec" fill-opacity="0.2" stroke="#2a2eec" stroke-opacity="0.2" stroke-width="5.56"/><rect x="4144.8" y="330.8" width="155.4" height="55.6" fill="#2a2eec" fill-opacity="0.4" stroke="#2a2eec" stroke-opacity="0.4" stroke-width="5.56"/><line x1="4145" y1="473" x2="4300" y2="473" stroke="#000" stroke-width="8.33" stroke-linecap="round"/><g font-family='"Liberation Sans", sans-serif' fill="#262626"><text x="490.0" y="315.4" font-size="70.60" text-anchor="start" textLength="279.0" lengthAdjust="spacingAndGlyphs" >R2: 0.84</text><text x="241.5" y="2454.2" font-size="83.90" text-anchor="end" textLength="48.0" lengthAdjust="spacingAndGlyphs" >7</text><text x="241.5" y="2161.8" font-size="83.90" text-anchor="end" textLength="48.0" lengthAdjust="spacingAndGlyphs" >8</text><text x="241.5" y="1869.4" font-size="83.90" text-anchor="end" textLength="48.0" lengthAdjust="spacingAndGlyphs" >9</text><text x="239.5" y="1576.9" font-size="83.90" text-anchor="end" textLength="94.0" lengthAdjust="spacingAndGlyphs" >10</text><text x="239.5" y="1284.5" font-size="83.90" text-anchor="end" textLength="94.0" lengthAdjust="spacingAndGlyphs" >11</text><text x="239.5" y="992.1" font-size="83.90" text-anchor="end" textLength="94.0" lengthAdjust="spacingAndGlyphs" >12</text><text x="239.5" y="699.6" font-size="83.90" text-anchor="end" textLength="94.0" lengthAdjust="spacingAndGlyphs" >13</text><text x="239.5" y="407.2" font-size="83.90" text-anchor="end" textLength="94.0" lengthAdjust="spacingAndGlyphs" >14</text><text x="467.5" y="2687.0" font-size="83.90" text-anchor="middle" textLength="321.0" lengthAdjust="spacingAndGlyphs" >2022-01</text><text x="944.3" y="2687.0" font-size="83.90" text-anchor="middle" textLength="321.0" lengthAdjust="spacingAndGlyphs" >2022-05</text><text x="1433.0" y="2687.0" font-size="83.90" text-anchor="middle" textLength="321.0" lengthAdjust="spacingAndGlyphs" >2022-09</text><text x="1917.8" y="2687.0" font-size="83.90" text-anchor="middle" textLength="321.0" lengthAdjust="spacingAndGlyphs" >2023-01</text><text x="2394.6" y="2687.0" font-size="83.90" text-anchor="middle" textLength="321.0" lengthAdjust="spacingAndGlyphs" >2023-05</text><text x="2883.3" y="2687.0" font-size="83.90" text-anchor="middle" textLength="321.0" lengthAdjust="spacingAndGlyphs" >2023-09</text><text x="3368.0" y="2687.0" font-size="83.90" text-anchor="middle" textLength="321.0" lengthAdjust="spacingAndGlyphs" >2024-01</text><text x="3848.8" y="2687.0" font-size="83.90" text-anchor="middle" textLength="321.0" lengthAdjust="spacingAndGlyphs" >2024-05</text><text x="4337.5" y="2687.0" font-size="83.90" text-anchor="middle" textLength="321.0" lengthAdjust="spacingAndGlyphs" >2024-09</text><text x="2533.5" y="2790.0" font-size="88.00" text-anchor="middle" textLength="206.0" lengthAdjust="spacingAndGlyphs" >Days</text><text transform="translate(101.5,1377.5) rotate(-90)" x="0" y="0" font-size="88" text-anchor="middle" textLength="624" lengthAdjust="spacingAndGlyphs">Target Variable</text><text x="2534.3" y="107.7" font-size="94.00" text-anchor="middle" textLength="1629.0" lengthAdjust="spacingAndGlyphs" >Estimated Target Variable Over Time</text><text x="4363.0" y="271.0" font-size="84.00" text-anchor="start" textLength="339.0" lengthAdjust="spacingAndGlyphs" >94% HDI</text><text x="4363.0" y="387.0" font-size="84.00" text-anchor="start" textLength="339.0" lengthAdjust="spacingAndGlyphs" >50% HDI</text><text x="4363.0" y="502.0" font-size="84.00" text-anchor="start" textLength="372.0" lengthAdjust="spacingAndGlyphs" >Observed</text></g></svg></body></html>
